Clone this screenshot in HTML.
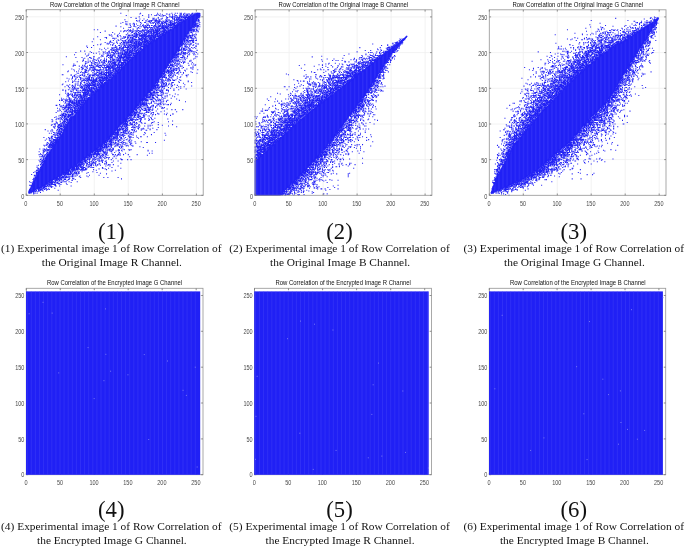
<!DOCTYPE html>
<html lang="en"><head><meta charset="utf-8"><title>Row Correlation</title>
<style>html,body{margin:0;padding:0;background:#fff}body{width:685px;height:548px;overflow:hidden}</style></head>
<body>
<svg width="685" height="548" viewBox="0 0 685 548" style="display:block">
<rect width="685" height="548" fill="#fff"/>
<defs><pattern id="st" patternUnits="userSpaceOnUse" width="6" height="16"><rect width="6" height="16" fill="#2020f5"/><rect x="1.5" width="1.5" height="16" fill="#4444fa" opacity="0.5"/></pattern></defs>
<path d="M60.2 9.7V195.3M26.2 159.6H203.2M94.3 9.7V195.3M26.2 123.9H203.2M128.3 9.7V195.3M26.2 88.2H203.2M162.4 9.7V195.3M26.2 52.5H203.2M196.4 9.7V195.3M26.2 16.8H203.2" stroke="#efefef" stroke-width="0.8" fill="none"/>
<g transform="matrix(0.6808 0 0 -0.7138 26.2 195.3)">
<path d="M4 4.9L5 6.8L6 8.6L7 10.5L8 12.4L9 14.2L10 16.1L11 17.9L12 19.8L13 21.6L14 23.4L15 25.1L16 26.9L17 28.7L18 30.5L19 32.3L20 34.1L21 35.8L22 37.6L23 39.4L24 41.2L25 43L26 44.8L27 46.5L28 48.3L29 50.1L30 51.9L31 53.7L32 55.5L33 57.2L34 59L35 60.8L36 62.6L37 63.9L38 65.3L39 66.6L40 67.9L41 69.2L42 70.5L43 71.8L44 73.1L45 74.4L46 75.8L47 77.1L48 78.4L49 79.7L50 81L51 82.7L52 84.5L53 86.2L54 88L55 89.7L56 91.5L57 93.2L58 95L59 96.7L60 98.5L61 100.2L62 102L63 103.7L64 105.5L65 106.7L66 107.6L67 108.5L68 109.5L69 110.4L70 111.3L71 112.3L72 113.2L73 114.1L74 115.1L75 116L76 117.2L77 118.4L78 119.7L79 120.9L80 122.1L81 123.3L82 124.6L83 125.8L84 127L85 128.2L86 129.5L87 130.7L88 131.9L89 132.9L90 133.9L91 134.8L92 135.7L93 136.6L94 137.5L95 138.4L96 139.3L97 140.3L98 141.2L99 142.1L100 143L101 143.8L102 144.6L103 145.4L104 146.2L105 146.9L106 147.7L107 148.5L108 149.3L109 150.1L110 150.9L111 151.7L112 152.5L113 153.3L114 154.1L115 154.8L116 155.7L117 156.6L118 157.5L119 158.5L120 159.4L121 160.3L122 161.2L123 162.2L124 163.1L125 164L126 164.8L127 165.5L128 166.3L129 167.1L130 167.8L131 168.6L132 169.4L133 170.2L134 170.9L135 171.7L136 172.5L137 173.3L138 174.4L139 175.4L140 176.5L141 177.5L142 178.6L143 179.6L144 180.7L145 181.7L146 182.8L147 183.8L148 184.9L149 185.9L150 187L151 187.8L152 188.7L153 189.5L154 190.4L155 191.2L156 192L157 192.9L158 193.7L159 194.6L160 195.4L161 196.2L162 197.1L163 197.9L164 198.8L165 199.6L166 200.4L167 201.3L168 202.1L169 203L170 203.8L171 204.6L172 205.5L173 206.3L174 207.2L175 208L176 208.6L177 209.3L178 209.9L179 210.6L180 211.2L181 211.8L182 212.5L183 213.1L184 213.8L185 214.4L186 215L187 215.7L188 216.3L189 217L190 217.6L191 218.2L192 218.9L193 219.5L194 220.2L195 220.8L196 221.4L197 222.1L198 222.7L199 223.4L200 224L201 224.6L202 225.2L203 225.8L204 226.4L205 227L206 227.6L207 228.2L208 228.8L209 229.4L210 230L211 230.6L212 231.2L213 231.8L214 232.4L215 233.1L216 233.8L217 234.4L218 235.1L219 235.8L220 236.5L221 237.2L222 237.9L223 238.6L224 239.2L225 239.9L226 240.5L227 241.2L228 241.8L229 242.4L230 243.1L231 243.7L232 244.3L233 244.9L234 245.6L235 246.2L236 246.8L237 247.5L238 248.1L239 248.6L240 249.1L241 249.6L242 250.1L243 250.6L244 251.1L245 251.7L246 252.2L247 252.7L248 253.2L249 253.7L250 254.2L251 254.5L252 254.8L253 255L254 255L255 255L255 252.4L254 251.1L253 249.8L252 248.6L251 247.3L250 246L249 244.5L248 243.1L247 241.6L246 240.1L245 238.7L244 237.2L243 235.7L242 234.3L241 232.8L240 231.3L239 229.9L238 228.4L237 226.9L236 225.3L235 223.8L234 222.2L233 220.7L232 219.1L231 217.6L230 216.1L229 214.5L228 213L227 211.4L226 209.9L225 208.3L224 206.8L223 205.3L222 203.7L221 202.2L220 200.6L219 199.1L218 197.5L217 196L216 194.4L215 192.9L214 191.3L213 189.7L212 188L211 186.6L210 185.2L209 183.8L208 182.3L207 180.9L206 179.5L205 178.1L204 176.7L203 175.2L202 173.8L201 172.4L200 171L199 169.5L198 168.1L197 166.6L196 165.2L195 163.7L194 162.2L193 160.8L192 159.3L191 157.8L190 156.4L189 154.9L188 153.5L187 152L186 150.9L185 149.8L184 148.7L183 147.6L182 146.5L181 145.4L180 144.3L179 143.2L178 142.1L177 141L176 139.9L175 138.8L174 137.7L173 136.6L172 135.5L171 134.4L170 133.3L169 132.2L168 131.1L167 130L166 128.9L165 127.7L164 126.6L163 125.5L162 124.3L161 123.2L160 122.1L159 121L158 119.8L157 118.7L156 117.6L155 116.4L154 115.3L153 114.2L152 113L151 111.9L150 110.8L149 109.6L148 108.6L147 107.7L146 106.7L145 105.8L144 104.8L143 103.8L142 102.9L141 101.9L140 101L139 100L138 99L137 98.1L136 97L135 95.9L134 94.8L133 93.7L132 92.7L131 91.6L130 90.5L129 89.4L128 88.3L127 87.2L126 86.1L125 85L124 83.9L123 82.8L122 81.7L121 80.6L120 79.5L119 78.4L118 77.3L117 76.2L116 75.1L115 74.3L114 73.5L113 72.8L112 72L111 71.2L110 70.5L109 69.7L108 69L107 68.2L106 67.4L105 66.7L104 65.9L103 65.2L102 64.4L101 63.6L100 62.9L99 62.1L98 61.4L97 60.6L96 59.8L95 59.1L94 58.3L93 57.6L92 56.8L91 56.1L90 55.3L89 54.6L88 53.8L87 53L86 52.3L85 51.5L84 50.8L83 50L82 49.3L81 48.5L80 47.7L79 47L78 46.2L77 45.5L76 44.7L75 44L74 43.2L73 42.5L72 41.7L71 41.1L70 40.4L69 39.8L68 39.2L67 38.6L66 37.9L65 37.3L64 36.7L63 36.1L62 35.4L61 34.8L60 34.2L59 33.5L58 32.9L57 32.3L56 31.7L55 31L54 30.4L53 29.8L52 29.2L51 28.5L50 27.9L49 27.4L48 26.8L47 26.3L46 25.8L45 25.2L44 24.7L43 24.2L42 23.7L41 23.1L40 22.6L39 22.1L38 21.5L37 21L36 20.5L35 19.9L34 19.3L33 18.6L32 17.9L31 17.3L30 16.6L29 15.9L28 15.3L27 14.6L26 13.9L25 13.3L24 12.6L23 12.1L22 11.7L21 11.3L20 10.9L19 10.4L18 10L17 9.6L16 9.2L15 8.8L14 8.4L13 7.9L12 7.5L11 7.1L10 6.7L9 6.2L8 5.8L7 5.4L6 5L5 4.5L4 4.1Z" fill="url(#st)" stroke="#2020f5" stroke-width="1.2" stroke-linejoin="round" vector-effect="non-scaling-stroke"/>
<path d="M4 3zm0 1zm0 2zm1 -3zm0 1zm0 3zm0 1zm0 6zm0 5zm1 -15zm0 5zm0 1zm0 4zm1 -11zm0 2zm0 8zm0 5zm1 -14zm0 1zm0 8zm0 1zm0 15zm1 -24zm0 1zm0 9zm0 1zm0 1zm1 -12zm0 1zm0 11zm0 1zm0 1zm0 3zm1 -20zm0 1zm0 1zm0 1zm0 1zm0 1zm0 11zm0 1zm0 1zm0 1zm0 2zm0 1zm0 8zm1 -26zm0 1zm0 13zm0 3zm0 4zm0 1zm1 -25zm0 2zm0 1zm0 1zm0 15zm0 2zm0 1zm0 3zm0 5zm1 -28zm0 3zm0 16zm0 1zm0 1zm0 1zm1 -21zm0 1zm0 21zm0 1zm0 1zm0 1zm0 1zm0 2zm0 1zm1 -32zm0 24zm0 4zm0 1zm0 2zm0 5zm0 2zm1 -36zm0 4zm0 20zm0 1zm0 1zm0 1zm0 2zm0 1zm0 2zm1 -31zm0 1zm0 1zm0 1zm0 22zm0 1zm0 1zm0 1zm0 3zm0 1zm0 4zm1 -36zm0 1zm0 1zm0 1zm0 1zm0 25zm0 1zm0 1zm0 12zm0 8zm0 4zm1 -55zm0 3zm0 1zm0 25zm0 12zm0 7zm0 11zm1 -61zm0 3zm0 1zm0 2zm0 1zm0 25zm0 1zm0 2zm0 4zm0 4zm0 3zm0 8zm1 -50zm0 2zm0 1zm0 27zm0 1zm0 1zm0 1zm0 4zm0 6zm0 3zm0 3zm1 -50zm0 2zm0 2zm0 29zm0 1zm0 2zm0 1zm0 1zm0 1zm0 1zm0 1zm0 1zm0 5zm1 -47zm0 2zm0 33zm0 1zm0 3zm0 2zm0 1zm0 6zm0 1zm1 -50zm0 4zm0 1zm0 1zm0 1zm0 30zm0 1zm0 1zm0 1zm0 1zm0 1zm0 2zm0 1zm0 2zm0 1zm0 4zm0 2zm0 2zm0 1zm0 2zm1 -56zm0 1zm0 1zm0 2zm0 34zm0 1zm0 2zm0 1zm0 1zm0 3zm0 6zm0 1zm0 8zm0 11zm1 -73zm0 3zm0 1zm0 1zm0 1zm0 33zm0 1zm0 1zm0 5zm0 2zm0 5zm0 3zm0 1zm0 4zm1 -60zm0 3zm0 1zm0 1zm0 1zm0 34zm0 2zm0 1zm0 1zm0 4zm0 6zm0 14zm0 15zm1 -82zm0 2zm0 1zm0 38zm0 1zm0 2zm0 2zm0 6zm0 2zm0 6zm1 -63zm0 2zm0 3zm0 1zm0 2zm0 1zm0 36zm0 1zm0 1zm0 1zm0 3zm0 1zm0 3zm0 4zm0 4zm0 2zm0 7zm1 -71zm0 5zm0 1zm0 1zm0 1zm0 1zm0 38zm0 1zm0 1zm0 1zm0 2zm0 2zm0 2zm0 7zm0 3zm1 -61zm0 1zm0 3zm0 39zm0 1zm0 1zm0 2zm0 2zm0 1zm0 5zm0 5zm0 17zm1 -81zm0 3zm0 3zm0 1zm0 42zm0 5zm0 1zm0 3zm0 2zm0 4zm0 8zm1 -73zm0 6zm0 1zm0 1zm0 1zm0 1zm0 42zm0 1zm0 2zm0 4zm0 1zm0 1zm0 1zm0 1zm0 6zm0 2zm0 1zm0 7zm1 -75zm0 1zm0 1zm0 1zm0 3zm0 1zm0 42zm0 3zm0 1zm0 1zm0 3zm0 1zm0 1zm0 1zm0 4zm0 4zm1 -67zm0 3zm0 1zm0 1zm0 1zm0 48zm0 1zm0 1zm0 2zm0 1zm0 1zm0 1zm0 2zm0 1zm0 13zm1 -79zm0 1zm0 1zm0 2zm0 1zm0 1zm0 1zm0 1zm0 1zm0 1zm0 43zm0 3zm0 2zm0 1zm0 1zm0 3zm0 1zm0 1zm0 3zm0 2zm0 1zm0 5zm0 11zm1 -82zm0 1zm0 1zm0 1zm0 1zm0 1zm0 46zm0 1zm0 1zm0 1zm0 1zm0 1zm0 1zm0 7zm0 2zm0 1zm0 7zm0 2zm0 7zm0 4zm0 3zm1 -94zm0 3zm0 1zm0 2zm0 1zm0 2zm0 47zm0 1zm0 1zm0 2zm0 1zm0 1zm0 1zm0 1zm0 3zm0 3zm0 8zm0 14zm1 -89zm0 4zm0 3zm0 46zm0 1zm0 1zm0 1zm0 1zm0 1zm0 2zm0 2zm0 1zm0 7zm0 3zm0 8zm1 -81zm0 3zm0 1zm0 4zm0 47zm0 1zm0 1zm0 1zm0 1zm0 1zm0 1zm0 1zm0 1zm0 17zm0 5zm1 -90zm0 4zm0 1zm0 1zm0 2zm0 3zm0 1zm0 1zm0 48zm0 1zm0 2zm0 3zm0 1zm0 3zm0 2zm0 2zm0 2zm0 1zm0 6zm0 2zm0 3zm0 1zm0 9zm1 -96zm0 1zm0 1zm0 4zm0 1zm0 1zm0 2zm0 1zm0 48zm0 1zm0 1zm0 1zm0 1zm0 1zm0 2zm0 2zm0 2zm0 14zm0 3zm1 -87zm0 4zm0 1zm0 3zm0 1zm0 1zm0 1zm0 50zm0 1zm0 1zm0 1zm0 1zm0 1zm0 2zm0 3zm0 2zm0 15zm0 2zm0 3zm0 4zm0 6zm0 10zm1 -106zm0 1zm0 1zm0 1zm0 1zm0 51zm0 1zm0 1zm0 2zm0 1zm0 6zm0 2zm0 2zm0 1zm0 11zm0 6zm0 18zm1 -109zm0 1zm0 3zm0 2zm0 1zm0 1zm0 51zm0 1zm0 1zm0 1zm0 1zm0 1zm0 2zm0 1zm0 2zm0 1zm0 5zm0 4zm0 5zm0 17zm0 4zm1 -115zm0 10zm0 2zm0 3zm0 2zm0 2zm0 52zm0 3zm0 2zm0 4zm0 2zm0 4zm0 1zm0 1zm0 2zm0 1zm0 1zm0 8zm1 -91zm0 1zm0 4zm0 1zm0 1zm0 1zm0 2zm0 53zm0 1zm0 1zm0 1zm0 2zm0 2zm0 1zm0 1zm0 1zm0 1zm0 1zm0 4zm0 1zm0 2zm0 9zm0 1zm0 3zm0 7zm1 -105zm0 3zm0 4zm0 1zm0 2zm0 2zm0 1zm0 1zm0 53zm0 1zm0 1zm0 3zm0 1zm0 1zm0 2zm0 2zm0 1zm0 1zm0 2zm0 3zm0 1zm0 22zm0 6zm0 6zm0 8zm1 -118zm0 1zm0 2zm0 1zm0 55zm0 1zm0 1zm0 1zm0 1zm0 1zm0 2zm0 1zm0 3zm0 1zm0 2zm0 1zm0 3zm0 3zm0 1zm0 3zm0 2zm0 3zm0 7zm0 6zm1 -110zm0 3zm0 2zm0 2zm0 1zm0 2zm0 2zm0 57zm0 1zm0 1zm0 1zm0 1zm0 2zm0 3zm0 1zm0 2zm0 1zm0 1zm0 2zm0 1zm0 6zm0 5zm0 12zm1 -106zm0 2zm0 2zm0 2zm0 1zm0 2zm0 1zm0 1zm0 59zm0 1zm0 1zm0 2zm0 1zm0 1zm0 2zm0 1zm0 1zm0 2zm0 7zm0 1zm0 2zm0 4zm0 3zm0 8zm0 8zm0 1zm0 2zm1 -111zm0 1zm0 1zm0 63zm0 2zm0 2zm0 3zm0 3zm0 2zm0 4zm0 3zm0 1zm0 2zm0 1zm0 8zm0 2zm0 10zm0 1zm0 21zm0 14zm1 -150zm0 2zm0 3zm0 1zm0 1zm0 1zm0 2zm0 59zm0 3zm0 3zm0 2zm0 1zm0 3zm0 1zm0 1zm0 2zm0 7zm0 2zm0 2zm0 10zm0 22zm0 1zm0 8zm0 13zm0 14zm1 -162zm0 4zm0 1zm0 3zm0 1zm0 1zm0 59zm0 1zm0 1zm0 3zm0 2zm0 1zm0 1zm0 1zm0 3zm0 1zm0 4zm0 4zm0 2zm0 1zm0 5zm0 3zm0 3zm0 5zm0 4zm1 -116zm0 3zm0 1zm0 4zm0 1zm0 2zm0 62zm0 1zm0 1zm0 1zm0 1zm0 1zm0 4zm0 1zm0 1zm0 1zm0 1zm0 1zm0 3zm0 1zm0 1zm0 6zm0 4zm0 1zm1 -100zm0 3zm0 1zm0 2zm0 1zm0 1zm0 1zm0 1zm0 62zm0 2zm0 1zm0 1zm0 1zm0 2zm0 2zm0 3zm0 1zm0 1zm0 1zm0 1zm0 1zm0 1zm0 2zm0 1zm0 3zm0 4zm0 1zm0 1zm0 5zm0 5zm0 18zm1 -133zm0 3zm0 2zm0 1zm0 2zm0 2zm0 1zm0 1zm0 1zm0 63zm0 1zm0 2zm0 1zm0 1zm0 3zm0 1zm0 3zm0 3zm0 1zm0 2zm0 1zm0 3zm0 1zm0 3zm0 2zm0 2zm0 5zm0 1zm0 2zm0 10zm0 2zm0 2zm0 12zm1 -142zm0 3zm0 5zm0 1zm0 1zm0 3zm0 1zm0 1zm0 1zm0 64zm0 2zm0 3zm0 4zm0 1zm0 1zm0 3zm0 2zm0 5zm0 1zm0 4zm0 1zm0 1zm0 1zm0 2zm0 4zm0 3zm0 59zm1 -179zm0 11zm0 1zm0 2zm0 2zm0 1zm0 1zm0 1zm0 65zm0 1zm0 1zm0 1zm0 2zm0 1zm0 1zm0 1zm0 1zm0 1zm0 2zm0 3zm0 2zm0 1zm0 1zm0 2zm0 1zm0 4zm0 1zm0 2zm0 5zm0 5zm0 3zm0 13zm0 10zm1 -143zm0 4zm0 4zm0 1zm0 1zm0 1zm0 1zm0 68zm0 2zm0 1zm0 1zm0 1zm0 4zm0 1zm0 3zm0 2zm0 5zm0 2zm0 2zm0 3zm0 3zm0 3zm0 6zm0 3zm0 30zm1 -151zm0 5zm0 2zm0 1zm0 1zm0 1zm0 1zm0 1zm0 1zm0 67zm0 2zm0 5zm0 1zm0 1zm0 1zm0 1zm0 4zm0 3zm0 1zm0 1zm0 1zm0 2zm0 2zm0 2zm0 2zm0 7zm0 2zm0 2zm0 1zm0 5zm0 4zm0 1zm0 7zm0 14zm1 -155zm0 3zm0 1zm0 2zm0 1zm0 3zm0 1zm0 1zm0 2zm0 1zm0 1zm0 1zm0 70zm0 2zm0 2zm0 1zm0 1zm0 1zm0 1zm0 3zm0 2zm0 3zm0 1zm0 1zm0 1zm0 1zm0 1zm0 2zm0 2zm0 3zm0 2zm0 1zm0 4zm0 22zm1 -139zm0 3zm0 2zm0 5zm0 1zm0 71zm0 1zm0 1zm0 2zm0 2zm0 4zm0 1zm0 5zm0 1zm0 3zm0 1zm0 1zm0 1zm0 1zm0 1zm0 1zm0 1zm0 1zm0 1zm0 1zm0 5zm0 8zm0 2zm0 4zm1 -126zm0 2zm0 1zm0 1zm0 1zm0 73zm0 1zm0 1zm0 1zm0 2zm0 1zm0 4zm0 1zm0 2zm0 2zm0 2zm0 3zm0 4zm0 1zm0 1zm0 9zm0 4zm1 -133zm0 5zm0 8zm0 1zm0 3zm0 1zm0 5zm0 1zm0 71zm0 1zm0 1zm0 1zm0 1zm0 1zm0 1zm0 2zm0 1zm0 1zm0 3zm0 1zm0 1zm0 2zm0 1zm0 4zm0 1zm0 4zm0 10zm0 1zm0 22zm0 1zm1 -148zm0 10zm0 1zm0 1zm0 1zm0 1zm0 1zm0 73zm0 1zm0 3zm0 1zm0 1zm0 1zm0 2zm0 2zm0 3zm0 3zm0 2zm0 1zm0 1zm0 1zm0 2zm0 7zm0 2zm0 3zm0 4zm0 4zm0 10zm0 14zm1 -156zm0 3zm0 2zm0 1zm0 1zm0 1zm0 4zm0 2zm0 1zm0 1zm0 1zm0 1zm0 72zm0 2zm0 1zm0 1zm0 1zm0 1zm0 1zm0 1zm0 1zm0 1zm0 4zm0 4zm0 1zm0 1zm0 1zm0 6zm0 1zm0 2zm0 1zm0 7zm0 2zm0 2zm0 1zm0 4zm0 2zm0 4zm0 1zm0 1zm1 -143zm0 4zm0 4zm0 3zm0 1zm0 1zm0 1zm0 1zm0 1zm0 74zm0 2zm0 3zm0 5zm0 1zm0 1zm0 3zm0 1zm0 1zm0 9zm0 7zm0 1zm0 1zm0 5zm0 6zm0 22zm1 -157zm0 3zm0 2zm0 2zm0 3zm0 2zm0 1zm0 1zm0 1zm0 1zm0 75zm0 2zm0 2zm0 3zm0 3zm0 2zm0 2zm0 2zm0 1zm0 2zm0 3zm0 2zm0 5zm0 5zm0 1zm0 2zm0 15zm0 9zm0 6zm0 2zm1 -153zm0 1zm0 2zm0 2zm0 1zm0 1zm0 1zm0 2zm0 75zm0 1zm0 1zm0 1zm0 2zm0 1zm0 1zm0 3zm0 2zm0 1zm0 1zm0 2zm0 2zm0 1zm0 4zm0 1zm0 2zm0 7zm0 2zm0 9zm0 6zm0 2zm0 6zm0 23zm1 -175zm0 5zm0 4zm0 4zm0 1zm0 4zm0 1zm0 74zm0 1zm0 1zm0 1zm0 1zm0 1zm0 1zm0 1zm0 2zm0 1zm0 4zm0 4zm0 3zm0 1zm0 2zm0 2zm0 2zm0 1zm0 6zm0 2zm0 2zm0 2zm0 6zm0 20zm1 -155zm0 3zm0 2zm0 1zm0 1zm0 3zm0 1zm0 2zm0 1zm0 74zm0 1zm0 1zm0 1zm0 1zm0 2zm0 2zm0 1zm0 1zm0 1zm0 1zm0 1zm0 1zm0 1zm0 1zm0 6zm0 5zm0 2zm0 4zm0 2zm0 6zm0 3zm0 4zm0 1zm0 2zm0 3zm0 24zm0 7zm1 -170zm0 1zm0 1zm0 4zm0 1zm0 1zm0 1zm0 1zm0 1zm0 1zm0 74zm0 2zm0 1zm0 3zm0 2zm0 3zm0 2zm0 1zm0 1zm0 1zm0 1zm0 2zm0 3zm0 2zm0 7zm0 1zm0 25zm1 -154zm0 9zm0 8zm0 1zm0 1zm0 2zm0 1zm0 1zm0 75zm0 1zm0 1zm0 1zm0 1zm0 3zm0 1zm0 1zm0 1zm0 1zm0 1zm0 2zm0 4zm0 1zm0 4zm0 1zm0 3zm0 2zm0 4zm0 15zm0 6zm0 16zm1 -157zm0 3zm0 1zm0 2zm0 1zm0 2zm0 1zm0 1zm0 2zm0 75zm0 1zm0 2zm0 1zm0 1zm0 1zm0 2zm0 1zm0 1zm0 2zm0 1zm0 2zm0 6zm0 2zm0 2zm0 3zm0 3zm0 5zm0 1zm0 2zm0 2zm0 8zm1 -136zm0 1zm0 5zm0 1zm0 1zm0 2zm0 1zm0 1zm0 2zm0 74zm0 2zm0 1zm0 1zm0 2zm0 1zm0 2zm0 1zm0 1zm0 1zm0 1zm0 1zm0 4zm0 1zm0 3zm0 3zm0 2zm0 4zm0 9zm0 3zm0 9zm0 3zm1 -148zm0 5zm0 2zm0 4zm0 3zm0 2zm0 1zm0 1zm0 1zm0 75zm0 1zm0 1zm0 2zm0 2zm0 2zm0 1zm0 1zm0 1zm0 1zm0 1zm0 1zm0 2zm0 2zm0 3zm0 3zm0 22zm0 11zm0 4zm1 -154zm0 9zm0 5zm0 1zm0 1zm0 1zm0 2zm0 75zm0 2zm0 1zm0 1zm0 2zm0 1zm0 1zm0 1zm0 1zm0 2zm0 3zm0 3zm0 1zm0 1zm0 1zm0 4zm0 6zm0 2zm0 11zm0 3zm1 -143zm0 10zm0 4zm0 1zm0 1zm0 1zm0 1zm0 1zm0 2zm0 1zm0 76zm0 1zm0 1zm0 2zm0 1zm0 4zm0 1zm0 1zm0 2zm0 1zm0 1zm0 1zm0 1zm0 1zm0 1zm0 2zm0 3zm0 4zm0 4zm0 1zm0 1zm0 1zm0 4zm0 1zm0 1zm0 1zm0 3zm0 4zm0 30zm1 -166zm0 1zm0 2zm0 1zm0 2zm0 1zm0 2zm0 1zm0 2zm0 76zm0 2zm0 1zm0 2zm0 1zm0 1zm0 1zm0 1zm0 1zm0 2zm0 1zm0 1zm0 1zm0 11zm0 2zm0 1zm0 4zm0 2zm0 14zm0 6zm1 -146zm0 2zm0 1zm0 1zm0 2zm0 1zm0 4zm0 1zm0 1zm0 1zm0 1zm0 1zm0 76zm0 2zm0 1zm0 2zm0 2zm0 1zm0 2zm0 1zm0 1zm0 1zm0 2zm0 5zm0 1zm0 4zm0 1zm0 1zm0 8zm0 1zm0 3zm0 5zm0 7zm0 1zm0 2zm0 1zm0 13zm1 -158zm0 2zm0 1zm0 2zm0 3zm0 2zm0 1zm0 1zm0 2zm0 1zm0 77zm0 1zm0 1zm0 1zm0 1zm0 2zm0 1zm0 1zm0 1zm0 2zm0 6zm0 3zm0 2zm0 2zm0 1zm0 3zm0 5zm0 8zm0 2zm0 2zm0 5zm0 1zm0 4zm0 6zm1 -153zm0 2zm0 1zm0 1zm0 2zm0 1zm0 3zm0 2zm0 2zm0 1zm0 78zm0 1zm0 1zm0 1zm0 1zm0 1zm0 4zm0 1zm0 2zm0 1zm0 1zm0 1zm0 1zm0 3zm0 1zm0 1zm0 4zm0 8zm0 2zm0 15zm0 11zm0 2zm1 -155zm0 3zm0 4zm0 1zm0 1zm0 2zm0 2zm0 1zm0 1zm0 79zm0 2zm0 1zm0 1zm0 1zm0 1zm0 2zm0 1zm0 1zm0 1zm0 1zm0 1zm0 1zm0 2zm0 2zm0 1zm0 1zm0 4zm0 4zm0 5zm0 3zm0 1zm0 4zm0 1zm0 8zm1 -145zm0 4zm0 8zm0 1zm0 1zm0 1zm0 1zm0 1zm0 79zm0 2zm0 1zm0 1zm0 1zm0 1zm0 1zm0 1zm0 2zm0 2zm0 1zm0 1zm0 2zm0 2zm0 1zm0 1zm0 1zm0 1zm0 3zm0 2zm0 2zm0 1zm0 1zm0 6zm0 2zm0 3zm0 3zm0 6zm0 10zm0 10zm1 -166zm0 1zm0 1zm0 8zm0 1zm0 1zm0 1zm0 2zm0 2zm0 78zm0 1zm0 1zm0 2zm0 4zm0 1zm0 1zm0 1zm0 1zm0 1zm0 2zm0 1zm0 1zm0 1zm0 4zm0 2zm0 6zm0 3zm0 8zm0 1zm0 1zm0 2zm0 4zm0 4zm0 1zm0 2zm0 11zm1 -162zm0 5zm0 4zm0 1zm0 1zm0 1zm0 1zm0 2zm0 2zm0 79zm0 1zm0 2zm0 1zm0 1zm0 1zm0 3zm0 1zm0 1zm0 1zm0 1zm0 1zm0 3zm0 2zm0 2zm0 1zm0 2zm0 8zm0 2zm0 7zm0 2zm0 2zm0 3zm0 7zm1 -160zm0 4zm0 6zm0 1zm0 3zm0 1zm0 1zm0 1zm0 5zm0 4zm0 1zm0 80zm0 2zm0 2zm0 1zm0 1zm0 1zm0 1zm0 2zm0 2zm0 1zm0 1zm0 1zm0 1zm0 1zm0 1zm0 2zm0 3zm0 2zm0 1zm0 1zm0 1zm0 1zm0 3zm0 6zm0 3zm0 4zm0 6zm0 10zm0 14zm1 -165zm0 1zm0 2zm0 3zm0 2zm0 1zm0 2zm0 80zm0 1zm0 3zm0 2zm0 1zm0 1zm0 2zm0 1zm0 1zm0 1zm0 4zm0 1zm0 2zm0 2zm0 4zm0 3zm0 5zm0 9zm0 3zm0 26zm1 -181zm0 6zm0 7zm0 1zm0 10zm0 1zm0 1zm0 2zm0 1zm0 1zm0 79zm0 2zm0 5zm0 1zm0 1zm0 1zm0 2zm0 2zm0 1zm0 1zm0 2zm0 1zm0 1zm0 1zm0 3zm0 3zm0 1zm0 2zm0 5zm0 3zm0 13zm0 2zm0 3zm0 5zm1 -155zm0 2zm0 3zm0 7zm0 2zm0 1zm0 81zm0 3zm0 1zm0 2zm0 1zm0 1zm0 1zm0 1zm0 3zm0 1zm0 1zm0 1zm0 1zm0 2zm0 2zm0 2zm0 1zm0 1zm0 1zm0 1zm0 2zm0 1zm0 3zm0 5zm0 23zm1 -170zm0 12zm0 4zm0 2zm0 1zm0 2zm0 1zm0 1zm0 3zm0 1zm0 1zm0 81zm0 2zm0 1zm0 2zm0 4zm0 2zm0 1zm0 1zm0 2zm0 1zm0 1zm0 2zm0 1zm0 5zm0 1zm0 1zm0 1zm0 1zm0 2zm0 9zm0 5zm0 11zm1 -151zm0 2zm0 7zm0 1zm0 1zm0 2zm0 2zm0 83zm0 2zm0 3zm0 1zm0 1zm0 1zm0 1zm0 1zm0 1zm0 3zm0 1zm0 6zm0 5zm0 2zm0 8zm0 2zm0 1zm0 3zm0 5zm0 1zm0 5zm0 8zm1 -162zm0 2zm0 1zm0 5zm0 7zm0 1zm0 1zm0 1zm0 1zm0 81zm0 2zm0 1zm0 1zm0 1zm0 1zm0 1zm0 1zm0 1zm0 6zm0 1zm0 1zm0 1zm0 2zm0 2zm0 1zm0 7zm0 11zm0 12zm1 -151zm0 1zm0 1zm0 2zm0 2zm0 6zm0 1zm0 1zm0 1zm0 1zm0 83zm0 1zm0 1zm0 1zm0 1zm0 1zm0 1zm0 1zm0 1zm0 1zm0 1zm0 1zm0 2zm0 1zm0 3zm0 1zm0 3zm0 1zm0 2zm0 1zm0 9zm0 5zm0 3zm0 1zm0 2zm0 1zm0 6zm0 8zm0 7zm1 -168zm0 6zm0 3zm0 1zm0 3zm0 6zm0 2zm0 81zm0 1zm0 1zm0 1zm0 1zm0 1zm0 1zm0 2zm0 2zm0 2zm0 1zm0 1zm0 2zm0 2zm0 1zm0 3zm0 5zm0 8zm0 2zm0 1zm0 3zm0 33zm1 -182zm0 11zm0 2zm0 4zm0 5zm0 2zm0 1zm0 2zm0 83zm0 1zm0 1zm0 1zm0 3zm0 1zm0 3zm0 2zm0 1zm0 1zm0 1zm0 1zm0 1zm0 1zm0 4zm0 1zm0 2zm0 2zm0 2zm0 3zm0 5zm0 5zm0 2zm0 2zm1 -153zm0 3zm0 3zm0 4zm0 1zm0 4zm0 3zm0 1zm0 2zm0 1zm0 4zm0 81zm0 1zm0 1zm0 1zm0 3zm0 1zm0 1zm0 2zm0 1zm0 1zm0 1zm0 2zm0 1zm0 1zm0 1zm0 1zm0 1zm0 1zm0 4zm0 7zm0 2zm0 2zm0 2zm0 9zm0 2zm0 2zm0 5zm0 11zm0 9zm1 -174zm0 4zm0 2zm0 2zm0 1zm0 3zm0 1zm0 1zm0 1zm0 1zm0 83zm0 2zm0 2zm0 1zm0 1zm0 2zm0 1zm0 1zm0 1zm0 1zm0 2zm0 1zm0 2zm0 1zm0 6zm0 1zm0 1zm0 3zm0 1zm0 2zm0 1zm0 1zm0 6zm0 3zm0 3zm0 4zm0 38zm1 -186zm0 5zm0 6zm0 1zm0 1zm0 1zm0 1zm0 2zm0 82zm0 1zm0 2zm0 2zm0 2zm0 2zm0 1zm0 1zm0 1zm0 1zm0 1zm0 1zm0 2zm0 4zm0 4zm0 1zm0 6zm0 2zm0 1zm0 3zm0 2zm0 1zm0 4zm1 -148zm0 1zm0 1zm0 1zm0 2zm0 3zm0 3zm0 5zm0 1zm0 1zm0 1zm0 1zm0 1zm0 82zm0 1zm0 1zm0 1zm0 2zm0 2zm0 1zm0 2zm0 2zm0 2zm0 1zm0 1zm0 2zm0 6zm0 7zm0 1zm0 6zm0 3zm1 -151zm0 6zm0 6zm0 7zm0 1zm0 2zm0 2zm0 2zm0 1zm0 2zm0 82zm0 1zm0 2zm0 1zm0 1zm0 1zm0 4zm0 3zm0 2zm0 1zm0 1zm0 1zm0 4zm0 2zm0 1zm0 4zm0 1zm0 5zm0 8zm0 10zm1 -167zm0 19zm0 1zm0 4zm0 2zm0 3zm0 1zm0 1zm0 1zm0 1zm0 83zm0 1zm0 1zm0 1zm0 2zm0 1zm0 5zm0 1zm0 2zm0 1zm0 1zm0 1zm0 7zm0 1zm0 8zm0 1zm0 3zm0 1zm1 -144zm0 1zm0 6zm0 6zm0 2zm0 1zm0 1zm0 1zm0 1zm0 1zm0 1zm0 1zm0 1zm0 1zm0 81zm0 1zm0 1zm0 5zm0 1zm0 1zm0 1zm0 2zm0 7zm0 2zm0 1zm0 3zm0 3zm0 1zm0 5zm0 2zm0 8zm0 20zm0 11zm0 10zm1 -180zm0 5zm0 1zm0 1zm0 1zm0 1zm0 1zm0 2zm0 2zm0 1zm0 81zm0 1zm0 2zm0 1zm0 2zm0 1zm0 3zm0 2zm0 4zm0 2zm0 2zm0 7zm0 5zm0 1zm0 3zm0 3zm0 2zm1 -161zm0 9zm0 7zm0 3zm0 1zm0 1zm0 1zm0 4zm0 3zm0 1zm0 3zm0 1zm0 1zm0 1zm0 1zm0 3zm0 82zm0 1zm0 1zm0 1zm0 3zm0 1zm0 3zm0 1zm0 2zm0 1zm0 1zm0 4zm0 1zm0 1zm0 1zm0 1zm0 2zm0 4zm0 2zm0 11zm0 1zm0 8zm1 -157zm0 4zm0 4zm0 1zm0 3zm0 1zm0 1zm0 3zm0 2zm0 1zm0 1zm0 1zm0 1zm0 1zm0 82zm0 1zm0 2zm0 2zm0 1zm0 1zm0 2zm0 2zm0 1zm0 1zm0 2zm0 1zm0 1zm0 3zm0 1zm0 3zm0 2zm0 3zm0 3zm0 3zm0 1zm0 1zm0 11zm0 7zm1 -174zm0 11zm0 10zm0 2zm0 1zm0 6zm0 1zm0 1zm0 1zm0 1zm0 1zm0 1zm0 1zm0 1zm0 82zm0 1zm0 1zm0 1zm0 1zm0 3zm0 1zm0 1zm0 1zm0 1zm0 1zm0 2zm0 2zm0 3zm0 1zm0 5zm0 1zm0 2zm0 3zm0 7zm0 22zm0 7zm0 10zm1 -180zm0 5zm0 2zm0 4zm0 5zm0 2zm0 1zm0 1zm0 1zm0 1zm0 82zm0 1zm0 1zm0 1zm0 1zm0 1zm0 1zm0 1zm0 1zm0 1zm0 3zm0 1zm0 2zm0 1zm0 2zm0 1zm0 1zm0 2zm0 7zm0 1zm0 8zm0 4zm0 18zm1 -164zm0 1zm0 2zm0 5zm0 6zm0 1zm0 2zm0 1zm0 2zm0 1zm0 1zm0 82zm0 1zm0 1zm0 2zm0 1zm0 1zm0 3zm0 1zm0 2zm0 1zm0 1zm0 3zm0 1zm0 1zm0 1zm0 1zm0 3zm0 5zm0 5zm0 1zm0 9zm0 8zm1 -166zm0 1zm0 7zm0 1zm0 2zm0 5zm0 3zm0 5zm0 1zm0 3zm0 1zm0 1zm0 1zm0 2zm0 82zm0 1zm0 1zm0 1zm0 1zm0 1zm0 1zm0 2zm0 2zm0 1zm0 1zm0 1zm0 3zm0 10zm0 5zm0 11zm1 -157zm0 11zm0 6zm0 1zm0 1zm0 2zm0 2zm0 1zm0 2zm0 3zm0 1zm0 2zm0 2zm0 82zm0 1zm0 1zm0 3zm0 1zm0 1zm0 1zm0 1zm0 1zm0 1zm0 1zm0 1zm0 2zm0 1zm0 2zm0 1zm0 1zm0 2zm0 6zm0 1zm0 1zm0 2zm0 2zm0 7zm0 3zm0 3zm1 -176zm0 28zm0 3zm0 4zm0 1zm0 1zm0 3zm0 1zm0 1zm0 3zm0 2zm0 1zm0 82zm0 1zm0 1zm0 2zm0 2zm0 2zm0 1zm0 5zm0 2zm0 6zm0 1zm0 1zm0 6zm0 4zm0 9zm0 2zm1 -156zm0 8zm0 7zm0 1zm0 7zm0 1zm0 1zm0 2zm0 1zm0 1zm0 1zm0 82zm0 1zm0 1zm0 3zm0 2zm0 1zm0 1zm0 1zm0 3zm0 1zm0 1zm0 3zm0 6zm0 2zm0 4zm0 1zm0 2zm0 1zm0 2zm0 14zm1 -169zm0 7zm0 3zm0 7zm0 4zm0 1zm0 2zm0 5zm0 3zm0 2zm0 1zm0 2zm0 1zm0 81zm0 1zm0 1zm0 4zm0 2zm0 1zm0 2zm0 1zm0 1zm0 3zm0 7zm0 6zm0 3zm0 13zm0 13zm0 7zm0 9zm1 -189zm0 7zm0 4zm0 3zm0 2zm0 3zm0 2zm0 2zm0 3zm0 1zm0 1zm0 1zm0 1zm0 1zm0 2zm0 1zm0 1zm0 81zm0 1zm0 1zm0 1zm0 1zm0 1zm0 1zm0 1zm0 1zm0 2zm0 1zm0 1zm0 1zm0 2zm0 3zm0 1zm0 1zm0 1zm0 1zm0 3zm0 17zm0 5zm1 -174zm0 6zm0 8zm0 2zm0 2zm0 5zm0 4zm0 1zm0 8zm0 1zm0 1zm0 1zm0 1zm0 1zm0 2zm0 1zm0 2zm0 1zm0 81zm0 1zm0 2zm0 1zm0 1zm0 1zm0 1zm0 1zm0 1zm0 1zm0 1zm0 1zm0 1zm0 1zm0 1zm0 2zm0 2zm0 2zm0 1zm0 3zm0 4zm0 1zm0 2zm0 1zm0 3zm0 26zm0 1zm1 -162zm0 1zm0 1zm0 2zm0 4zm0 1zm0 5zm0 2zm0 1zm0 1zm0 1zm0 81zm0 1zm0 1zm0 2zm0 1zm0 1zm0 2zm0 1zm0 4zm0 4zm0 3zm0 1zm0 1zm0 14zm0 1zm0 2zm0 2zm0 12zm0 1zm1 -188zm0 17zm0 11zm0 3zm0 7zm0 1zm0 2zm0 2zm0 2zm0 1zm0 4zm0 1zm0 1zm0 2zm0 82zm0 2zm0 1zm0 1zm0 1zm0 1zm0 4zm0 1zm0 2zm0 1zm0 4zm0 1zm0 1zm0 1zm0 1zm0 2zm0 11zm0 3zm0 7zm1 -168zm0 5zm0 8zm0 17zm0 1zm0 4zm0 5zm0 1zm0 1zm0 81zm0 1zm0 1zm0 3zm0 2zm0 1zm0 1zm0 1zm0 1zm0 1zm0 3zm0 1zm0 1zm0 1zm0 1zm0 1zm0 5zm0 1zm0 1zm0 5zm0 3zm0 1zm0 4zm0 11zm1 -159zm0 10zm0 1zm0 4zm0 3zm0 1zm0 3zm0 1zm0 3zm0 1zm0 1zm0 81zm0 1zm0 1zm0 1zm0 2zm0 2zm0 1zm0 2zm0 1zm0 1zm0 1zm0 1zm0 2zm0 1zm0 2zm0 2zm0 1zm0 3zm0 12zm0 1zm0 1zm0 1zm0 11zm0 12zm1 -184zm0 2zm0 19zm0 2zm0 2zm0 5zm0 1zm0 2zm0 1zm0 1zm0 1zm0 1zm0 1zm0 1zm0 1zm0 1zm0 83zm0 1zm0 1zm0 1zm0 1zm0 1zm0 1zm0 6zm0 1zm0 1zm0 1zm0 3zm0 2zm0 3zm0 4zm0 2zm0 2zm0 18zm0 1zm0 9zm1 -162zm0 3zm0 4zm0 2zm0 1zm0 1zm0 2zm0 1zm0 1zm0 2zm0 3zm0 1zm0 82zm0 1zm0 2zm0 2zm0 1zm0 1zm0 1zm0 1zm0 1zm0 2zm0 1zm0 3zm0 1zm0 4zm0 1zm0 3zm0 1zm0 2zm0 1zm0 2zm0 2zm0 6zm0 7zm0 4zm0 1zm1 -166zm0 11zm0 1zm0 5zm0 1zm0 1zm0 1zm0 1zm0 1zm0 2zm0 1zm0 1zm0 2zm0 1zm0 1zm0 1zm0 1zm0 1zm0 1zm0 81zm0 1zm0 3zm0 2zm0 1zm0 2zm0 4zm0 1zm0 1zm0 3zm0 2zm0 2zm0 1zm0 5zm0 1zm0 6zm0 4zm0 21zm1 -191zm0 5zm0 7zm0 13zm0 3zm0 2zm0 6zm0 1zm0 2zm0 1zm0 2zm0 1zm0 1zm0 4zm0 2zm0 1zm0 1zm0 80zm0 1zm0 1zm0 1zm0 1zm0 1zm0 1zm0 2zm0 5zm0 2zm0 3zm0 1zm0 6zm0 2zm0 2zm0 2zm0 5zm0 1zm0 2zm0 1zm0 1zm0 7zm0 9zm1 -171zm0 5zm0 6zm0 3zm0 10zm0 3zm0 1zm0 3zm0 2zm0 1zm0 1zm0 80zm0 1zm0 1zm0 3zm0 2zm0 1zm0 2zm0 1zm0 1zm0 1zm0 1zm0 1zm0 2zm0 2zm0 1zm0 2zm0 1zm0 2zm0 2zm0 2zm0 4zm0 6zm0 4zm0 1zm0 9zm0 8zm1 -185zm0 5zm0 9zm0 7zm0 1zm0 1zm0 8zm0 2zm0 3zm0 1zm0 1zm0 1zm0 3zm0 1zm0 1zm0 1zm0 80zm0 1zm0 2zm0 2zm0 1zm0 1zm0 1zm0 1zm0 1zm0 1zm0 1zm0 1zm0 1zm0 3zm0 1zm0 3zm0 1zm0 7zm0 2zm0 1zm0 3zm0 2zm0 7zm0 5zm0 3zm1 -166zm0 17zm0 2zm0 5zm0 1zm0 1zm0 1zm0 1zm0 3zm0 1zm0 1zm0 1zm0 80zm0 1zm0 1zm0 6zm0 1zm0 6zm0 1zm0 1zm0 1zm0 2zm0 1zm0 1zm0 1zm0 5zm0 1zm0 2zm0 4zm0 4zm0 6zm0 7zm1 -165zm0 5zm0 8zm0 5zm0 7zm0 1zm0 1zm0 2zm0 1zm0 1zm0 2zm0 1zm0 1zm0 80zm0 1zm0 1zm0 1zm0 1zm0 3zm0 1zm0 1zm0 1zm0 1zm0 1zm0 1zm0 1zm0 1zm0 1zm0 1zm0 3zm0 4zm0 4zm0 1zm0 3zm0 3zm0 14zm0 7zm1 -191zm0 22zm0 12zm0 4zm0 1zm0 2zm0 1zm0 3zm0 1zm0 1zm0 2zm0 2zm0 1zm0 1zm0 2zm0 1zm0 78zm0 1zm0 1zm0 1zm0 1zm0 2zm0 1zm0 1zm0 1zm0 2zm0 2zm0 1zm0 1zm0 1zm0 1zm0 9zm0 5zm0 1zm0 3zm0 3zm0 2zm0 1zm1 -158zm0 10zm0 7zm0 1zm0 2zm0 2zm0 5zm0 3zm0 1zm0 2zm0 2zm0 1zm0 1zm0 2zm0 1zm0 78zm0 1zm0 2zm0 1zm0 1zm0 2zm0 1zm0 5zm0 1zm0 2zm0 1zm0 1zm0 1zm0 2zm0 2zm0 5zm0 4zm0 18zm0 17zm1 -182zm0 17zm0 5zm0 2zm0 1zm0 1zm0 1zm0 2zm0 2zm0 1zm0 1zm0 3zm0 1zm0 1zm0 78zm0 1zm0 1zm0 1zm0 1zm0 1zm0 2zm0 1zm0 3zm0 1zm0 8zm0 8zm0 3zm0 1zm0 1zm0 1zm0 1zm0 1zm0 1zm0 6zm0 2zm1 -160zm0 14zm0 2zm0 7zm0 2zm0 1zm0 1zm0 1zm0 1zm0 1zm0 1zm0 1zm0 1zm0 1zm0 1zm0 1zm0 1zm0 1zm0 78zm0 1zm0 1zm0 2zm0 2zm0 1zm0 1zm0 1zm0 1zm0 5zm0 2zm0 4zm0 8zm0 4zm0 8zm0 10zm0 1zm1 -199zm0 16zm0 7zm0 9zm0 6zm0 6zm0 2zm0 2zm0 2zm0 1zm0 1zm0 3zm0 4zm0 2zm0 2zm0 2zm0 1zm0 2zm0 79zm0 1zm0 1zm0 1zm0 1zm0 1zm0 1zm0 1zm0 1zm0 2zm0 1zm0 1zm0 1zm0 4zm0 1zm0 1zm0 1zm0 2zm0 2zm0 2zm0 1zm0 3zm0 2zm0 14zm0 4zm0 3zm1 -168zm0 2zm0 3zm0 2zm0 8zm0 3zm0 2zm0 7zm0 1zm0 1zm0 1zm0 1zm0 1zm0 1zm0 2zm0 1zm0 2zm0 78zm0 2zm0 1zm0 1zm0 2zm0 1zm0 3zm0 1zm0 1zm0 1zm0 2zm0 1zm0 1zm0 2zm0 3zm0 1zm0 2zm0 1zm0 1zm0 5zm0 5zm0 7zm1 -157zm0 3zm0 4zm0 1zm0 10zm0 4zm0 9zm0 1zm0 2zm0 2zm0 2zm0 76zm0 2zm0 1zm0 1zm0 1zm0 1zm0 1zm0 1zm0 2zm0 2zm0 1zm0 1zm0 1zm0 3zm0 1zm0 1zm0 10zm0 2zm0 1zm0 3zm0 17zm1 -171zm0 2zm0 13zm0 3zm0 3zm0 4zm0 2zm0 2zm0 5zm0 2zm0 1zm0 3zm0 1zm0 1zm0 77zm0 1zm0 3zm0 3zm0 2zm0 3zm0 2zm0 1zm0 1zm0 1zm0 1zm0 2zm0 1zm0 2zm0 1zm0 8zm0 2zm0 3zm0 1zm0 11zm1 -186zm0 7zm0 6zm0 15zm0 3zm0 8zm0 2zm0 1zm0 3zm0 4zm0 1zm0 4zm0 2zm0 2zm0 3zm0 1zm0 76zm0 1zm0 1zm0 1zm0 2zm0 1zm0 1zm0 3zm0 1zm0 1zm0 1zm0 1zm0 1zm0 1zm0 1zm0 1zm0 1zm0 3zm0 2zm0 2zm0 1zm0 2zm0 1zm0 6zm0 6zm0 1zm0 3zm0 8zm0 6zm0 5zm0 14zm1 -232zm0 27zm0 13zm0 4zm0 1zm0 6zm0 6zm0 1zm0 3zm0 4zm0 6zm0 1zm0 1zm0 4zm0 77zm0 1zm0 1zm0 1zm0 1zm0 1zm0 1zm0 1zm0 1zm0 1zm0 7zm0 1zm0 1zm0 1zm0 2zm0 7zm0 4zm0 5zm1 -164zm0 12zm0 6zm0 2zm0 2zm0 1zm0 2zm0 4zm0 5zm0 1zm0 3zm0 4zm0 2zm0 2zm0 1zm0 1zm0 3zm0 77zm0 1zm0 1zm0 2zm0 1zm0 1zm0 1zm0 1zm0 6zm0 1zm0 1zm0 3zm0 1zm0 1zm0 1zm0 1zm0 2zm0 1zm0 2zm0 1zm0 4zm0 6zm0 3zm1 -155zm0 3zm0 7zm0 8zm0 2zm0 1zm0 4zm0 2zm0 1zm0 1zm0 2zm0 2zm0 1zm0 1zm0 1zm0 1zm0 77zm0 1zm0 1zm0 1zm0 1zm0 2zm0 1zm0 3zm0 1zm0 1zm0 2zm0 4zm0 1zm0 1zm0 2zm0 4zm0 1zm0 7zm0 3zm0 4zm0 22zm1 -185zm0 15zm0 2zm0 3zm0 5zm0 1zm0 3zm0 2zm0 1zm0 1zm0 3zm0 1zm0 5zm0 2zm0 1zm0 1zm0 77zm0 1zm0 2zm0 1zm0 1zm0 1zm0 2zm0 1zm0 2zm0 1zm0 1zm0 2zm0 2zm0 6zm0 1zm0 2zm0 1zm0 1zm0 3zm0 2zm0 1zm0 2zm0 6zm0 7zm0 5zm1 -170zm0 13zm0 3zm0 4zm0 3zm0 4zm0 3zm0 2zm0 1zm0 1zm0 2zm0 1zm0 2zm0 1zm0 77zm0 2zm0 3zm0 2zm0 1zm0 2zm0 2zm0 1zm0 1zm0 2zm0 1zm0 1zm0 2zm0 2zm0 4zm0 2zm0 1zm0 1zm0 2zm0 1zm0 6zm0 1zm0 9zm1 -159zm0 3zm0 10zm0 3zm0 1zm0 1zm0 1zm0 1zm0 5zm0 3zm0 1zm0 1zm0 1zm0 1zm0 1zm0 1zm0 77zm0 2zm0 1zm0 1zm0 1zm0 1zm0 1zm0 1zm0 1zm0 2zm0 1zm0 1zm0 2zm0 1zm0 1zm0 1zm0 2zm0 1zm0 7zm0 2zm0 2zm0 2zm0 1zm0 5zm0 9zm0 15zm1 -187zm0 14zm0 8zm0 6zm0 2zm0 2zm0 1zm0 1zm0 2zm0 1zm0 2zm0 2zm0 1zm0 1zm0 1zm0 1zm0 1zm0 1zm0 77zm0 1zm0 1zm0 1zm0 2zm0 1zm0 2zm0 3zm0 1zm0 1zm0 1zm0 1zm0 2zm0 1zm0 3zm0 3zm0 1zm0 1zm0 7zm0 1zm0 4zm0 1zm0 18zm0 3zm1 -174zm0 1zm0 8zm0 9zm0 3zm0 1zm0 3zm0 2zm0 1zm0 1zm0 1zm0 1zm0 1zm0 2zm0 1zm0 1zm0 1zm0 78zm0 1zm0 3zm0 1zm0 1zm0 1zm0 1zm0 1zm0 1zm0 1zm0 1zm0 1zm0 1zm0 1zm0 1zm0 1zm0 6zm0 5zm0 1zm0 1zm0 4zm0 7zm0 5zm0 10zm0 12zm1 -179zm0 13zm0 1zm0 3zm0 3zm0 1zm0 2zm0 1zm0 1zm0 1zm0 1zm0 1zm0 2zm0 1zm0 1zm0 1zm0 1zm0 1zm0 78zm0 2zm0 1zm0 3zm0 1zm0 2zm0 3zm0 1zm0 1zm0 2zm0 2zm0 1zm0 2zm0 3zm0 1zm0 4zm0 10zm0 14zm0 1zm0 3zm1 -193zm0 20zm0 9zm0 11zm0 2zm0 1zm0 2zm0 3zm0 1zm0 1zm0 2zm0 1zm0 4zm0 1zm0 78zm0 1zm0 1zm0 1zm0 1zm0 1zm0 1zm0 1zm0 1zm0 2zm0 1zm0 1zm0 2zm0 1zm0 1zm0 1zm0 1zm0 1zm0 1zm0 1zm0 2zm0 4zm0 1zm0 5zm0 1zm0 1zm0 1zm0 5zm0 4zm1 -174zm0 12zm0 7zm0 7zm0 4zm0 1zm0 10zm0 6zm0 3zm0 1zm0 2zm0 80zm0 1zm0 1zm0 1zm0 2zm0 1zm0 1zm0 1zm0 1zm0 5zm0 1zm0 2zm0 1zm0 1zm0 2zm0 2zm0 1zm0 1zm0 1zm0 1zm0 4zm0 3zm0 8zm1 -168zm0 12zm0 6zm0 2zm0 5zm0 15zm0 1zm0 3zm0 2zm0 1zm0 77zm0 1zm0 1zm0 1zm0 1zm0 1zm0 1zm0 1zm0 1zm0 1zm0 2zm0 1zm0 1zm0 1zm0 1zm0 1zm0 3zm0 1zm0 1zm0 2zm0 3zm0 3zm0 2zm0 3zm0 1zm0 2zm0 4zm0 6zm1 -181zm0 9zm0 11zm0 2zm0 1zm0 2zm0 2zm0 1zm0 4zm0 4zm0 8zm0 3zm0 3zm0 1zm0 3zm0 1zm0 3zm0 1zm0 76zm0 1zm0 2zm0 1zm0 1zm0 2zm0 2zm0 1zm0 1zm0 1zm0 1zm0 3zm0 1zm0 4zm0 2zm0 3zm0 3zm0 6zm0 7zm0 9zm1 -169zm0 2zm0 6zm0 3zm0 5zm0 13zm0 2zm0 4zm0 2zm0 2zm0 2zm0 2zm0 76zm0 2zm0 1zm0 2zm0 1zm0 1zm0 1zm0 2zm0 2zm0 1zm0 3zm0 2zm0 1zm0 2zm0 3zm0 1zm0 1zm0 4zm0 1zm0 9zm0 2zm0 3zm0 3zm0 2zm1 -190zm0 14zm0 9zm0 2zm0 6zm0 1zm0 3zm0 3zm0 11zm0 1zm0 1zm0 4zm0 2zm0 2zm0 2zm0 1zm0 1zm0 1zm0 1zm0 76zm0 2zm0 2zm0 3zm0 2zm0 1zm0 2zm0 2zm0 2zm0 1zm0 3zm0 1zm0 2zm0 1zm0 2zm0 1zm0 3zm0 1zm0 2zm0 2zm0 4zm0 1zm0 5zm0 13zm1 -179zm0 3zm0 4zm0 9zm0 2zm0 4zm0 3zm0 4zm0 6zm0 1zm0 2zm0 2zm0 2zm0 1zm0 1zm0 2zm0 76zm0 1zm0 3zm0 1zm0 1zm0 1zm0 1zm0 1zm0 1zm0 3zm0 2zm0 1zm0 2zm0 1zm0 2zm0 1zm0 2zm0 2zm0 2zm0 8zm1 -159zm0 22zm0 1zm0 4zm0 3zm0 2zm0 3zm0 1zm0 1zm0 2zm0 4zm0 3zm0 1zm0 77zm0 1zm0 5zm0 2zm0 1zm0 1zm0 1zm0 1zm0 1zm0 2zm0 2zm0 3zm0 2zm0 2zm0 1zm0 1zm0 1zm0 1zm0 3zm0 1zm0 3zm0 2zm1 -161zm0 12zm0 3zm0 2zm0 9zm0 3zm0 4zm0 5zm0 4zm0 2zm0 2zm0 1zm0 1zm0 1zm0 75zm0 2zm0 1zm0 1zm0 1zm0 1zm0 1zm0 3zm0 1zm0 2zm0 3zm0 2zm0 2zm0 1zm0 2zm0 4zm0 1zm0 1zm0 1zm0 6zm0 1zm0 2zm0 1zm0 7zm1 -152zm0 2zm0 3zm0 3zm0 7zm0 3zm0 1zm0 2zm0 5zm0 3zm0 1zm0 1zm0 77zm0 2zm0 1zm0 3zm0 4zm0 1zm0 2zm0 1zm0 2zm0 4zm0 2zm0 1zm0 4zm0 3zm0 11zm0 4zm1 -151zm0 1zm0 4zm0 4zm0 3zm0 1zm0 7zm0 1zm0 1zm0 2zm0 1zm0 1zm0 1zm0 3zm0 75zm0 1zm0 2zm0 1zm0 3zm0 2zm0 1zm0 2zm0 1zm0 1zm0 1zm0 2zm0 1zm0 1zm0 4zm0 1zm0 3zm0 1zm0 3zm0 1zm0 10zm0 2zm0 1zm1 -165zm0 18zm0 2zm0 2zm0 1zm0 3zm0 5zm0 3zm0 2zm0 1zm0 1zm0 1zm0 1zm0 1zm0 4zm0 1zm0 1zm0 74zm0 2zm0 1zm0 1zm0 1zm0 2zm0 1zm0 1zm0 1zm0 1zm0 2zm0 2zm0 1zm0 1zm0 1zm0 2zm0 2zm0 1zm0 3zm0 1zm0 1zm0 1zm0 5zm0 1zm1 -158zm0 16zm0 16zm0 7zm0 1zm0 2zm0 1zm0 1zm0 2zm0 1zm0 2zm0 1zm0 74zm0 1zm0 1zm0 2zm0 1zm0 3zm0 1zm0 1zm0 1zm0 1zm0 1zm0 1zm0 2zm0 2zm0 1zm0 2zm0 1zm0 2zm0 2zm0 3zm0 1zm0 1zm0 8zm0 12zm1 -165zm0 7zm0 6zm0 4zm0 2zm0 5zm0 8zm0 1zm0 1zm0 2zm0 1zm0 2zm0 1zm0 1zm0 74zm0 1zm0 1zm0 1zm0 1zm0 1zm0 3zm0 2zm0 2zm0 1zm0 1zm0 1zm0 1zm0 1zm0 1zm0 2zm0 3zm0 1zm0 2zm0 1zm0 1zm0 1zm0 3zm0 10zm0 5zm0 3zm1 -191zm0 24zm0 15zm0 5zm0 5zm0 3zm0 1zm0 4zm0 3zm0 5zm0 2zm0 1zm0 73zm0 1zm0 1zm0 3zm0 1zm0 3zm0 1zm0 1zm0 3zm0 4zm0 6zm0 1zm0 1zm0 1zm0 4zm0 1zm0 1zm0 1zm0 2zm0 10zm1 -150zm0 12zm0 4zm0 2zm0 1zm0 3zm0 2zm0 3zm0 1zm0 1zm0 3zm0 74zm0 2zm0 2zm0 1zm0 1zm0 1zm0 2zm0 1zm0 1zm0 2zm0 1zm0 2zm0 2zm0 7zm0 1zm0 8zm0 4zm1 -158zm0 13zm0 1zm0 2zm0 2zm0 11zm0 1zm0 2zm0 1zm0 1zm0 9zm0 2zm0 1zm0 74zm0 1zm0 1zm0 2zm0 2zm0 2zm0 1zm0 2zm0 1zm0 1zm0 1zm0 2zm0 3zm0 2zm0 7zm0 3zm0 4zm1 -140zm0 4zm0 4zm0 4zm0 1zm0 2zm0 1zm0 3zm0 2zm0 4zm0 2zm0 2zm0 1zm0 2zm0 1zm0 74zm0 1zm0 3zm0 4zm0 1zm0 1zm0 1zm0 1zm0 1zm0 1zm0 2zm0 1zm0 1zm0 2zm0 1zm0 1zm0 1zm0 1zm0 1zm0 3zm0 13zm0 2zm0 5zm1 -182zm0 29zm0 14zm0 4zm0 2zm0 1zm0 5zm0 1zm0 1zm0 3zm0 74zm0 2zm0 1zm0 1zm0 1zm0 2zm0 1zm0 1zm0 1zm0 1zm0 2zm0 1zm0 2zm0 1zm0 1zm0 4zm0 2zm0 3zm0 1zm0 4zm0 3zm0 10zm0 7zm1 -172zm0 21zm0 1zm0 1zm0 2zm0 1zm0 2zm0 5zm0 3zm0 1zm0 4zm0 1zm0 2zm0 1zm0 1zm0 1zm0 1zm0 74zm0 1zm0 1zm0 1zm0 2zm0 1zm0 1zm0 2zm0 1zm0 4zm0 1zm0 4zm0 1zm0 3zm0 3zm0 9zm0 3zm0 13zm1 -180zm0 7zm0 9zm0 2zm0 9zm0 4zm0 1zm0 1zm0 6zm0 1zm0 6zm0 1zm0 2zm0 2zm0 2zm0 2zm0 2zm0 73zm0 1zm0 2zm0 1zm0 2zm0 1zm0 1zm0 1zm0 3zm0 1zm0 1zm0 1zm0 2zm0 1zm0 1zm0 1zm0 4zm0 7zm0 5zm1 -148zm0 8zm0 8zm0 12zm0 6zm0 1zm0 1zm0 3zm0 1zm0 71zm0 1zm0 3zm0 1zm0 2zm0 1zm0 1zm0 2zm0 2zm0 2zm0 1zm0 1zm0 2zm0 1zm0 1zm0 3zm0 1zm0 2zm1 -138zm0 16zm0 6zm0 5zm0 4zm0 3zm0 1zm0 1zm0 1zm0 1zm0 1zm0 1zm0 1zm0 74zm0 1zm0 5zm0 1zm0 1zm0 2zm0 1zm0 2zm0 1zm0 2zm0 1zm0 2zm0 4zm0 1zm0 6zm0 7zm0 7zm1 -185zm0 27zm0 17zm0 1zm0 14zm0 1zm0 1zm0 1zm0 1zm0 2zm0 2zm0 1zm0 72zm0 1zm0 1zm0 2zm0 1zm0 1zm0 2zm0 5zm0 1zm0 2zm0 2zm0 1zm0 3zm0 2zm0 6zm0 2zm1 -154zm0 8zm0 16zm0 1zm0 1zm0 1zm0 1zm0 1zm0 5zm0 3zm0 2zm0 3zm0 1zm0 1zm0 4zm0 1zm0 1zm0 1zm0 71zm0 1zm0 1zm0 1zm0 1zm0 1zm0 2zm0 1zm0 1zm0 2zm0 1zm0 1zm0 2zm0 1zm0 1zm0 1zm0 4zm0 3zm0 3zm0 1zm0 1zm0 10zm1 -159zm0 9zm0 4zm0 6zm0 4zm0 4zm0 4zm0 3zm0 4zm0 1zm0 2zm0 1zm0 1zm0 3zm0 1zm0 1zm0 72zm0 1zm0 1zm0 1zm0 1zm0 1zm0 1zm0 1zm0 1zm0 1zm0 1zm0 1zm0 1zm0 2zm0 1zm0 1zm0 1zm0 1zm0 1zm0 1zm0 1zm0 2zm0 3zm0 1zm0 7zm1 -155zm0 14zm0 6zm0 12zm0 2zm0 1zm0 6zm0 4zm0 1zm0 1zm0 1zm0 1zm0 73zm0 1zm0 1zm0 1zm0 2zm0 1zm0 1zm0 2zm0 1zm0 1zm0 1zm0 1zm0 2zm0 1zm0 3zm0 5zm0 2zm0 1zm0 2zm0 4zm1 -151zm0 22zm0 3zm0 4zm0 2zm0 2zm0 2zm0 1zm0 2zm0 1zm0 3zm0 1zm0 2zm0 1zm0 1zm0 1zm0 70zm0 1zm0 1zm0 2zm0 1zm0 1zm0 1zm0 1zm0 1zm0 1zm0 2zm0 1zm0 1zm0 2zm0 1zm0 1zm0 4zm0 1zm0 4zm0 7zm0 2zm1 -171zm0 17zm0 25zm0 1zm0 1zm0 1zm0 8zm0 1zm0 1zm0 2zm0 2zm0 1zm0 1zm0 2zm0 1zm0 1zm0 1zm0 70zm0 1zm0 1zm0 1zm0 2zm0 1zm0 1zm0 1zm0 2zm0 2zm0 1zm0 2zm0 1zm0 2zm0 2zm0 5zm0 2zm0 3zm1 -184zm0 18zm0 8zm0 41zm0 1zm0 2zm0 7zm0 1zm0 3zm0 1zm0 2zm0 2zm0 68zm0 1zm0 2zm0 1zm0 1zm0 1zm0 1zm0 1zm0 2zm0 2zm0 1zm0 4zm0 2zm0 3zm0 2zm0 1zm0 3zm0 8zm1 -184zm0 1zm0 31zm0 2zm0 2zm0 13zm0 5zm0 1zm0 3zm0 2zm0 2zm0 5zm0 3zm0 1zm0 1zm0 2zm0 1zm0 1zm0 1zm0 2zm0 2zm0 69zm0 1zm0 1zm0 1zm0 2zm0 3zm0 2zm0 2zm0 3zm0 1zm0 2zm0 1zm0 3zm0 1zm0 3zm0 1zm0 1zm0 3zm1 -138zm0 3zm0 8zm0 3zm0 2zm0 2zm0 6zm0 8zm0 2zm0 2zm0 3zm0 68zm0 1zm0 1zm0 2zm0 2zm0 3zm0 1zm0 1zm0 1zm0 1zm0 3zm0 1zm0 1zm0 1zm0 13zm0 5zm0 2zm0 2zm1 -194zm0 47zm0 5zm0 8zm0 1zm0 1zm0 7zm0 7zm0 2zm0 1zm0 3zm0 3zm0 68zm0 1zm0 2zm0 1zm0 3zm0 1zm0 2zm0 2zm0 1zm0 2zm0 2zm0 3zm0 3zm0 2zm0 1zm0 5zm0 1zm1 -152zm0 1zm0 4zm0 1zm0 19zm0 5zm0 1zm0 12zm0 2zm0 2zm0 2zm0 1zm0 1zm0 1zm0 1zm0 1zm0 67zm0 1zm0 1zm0 1zm0 2zm0 1zm0 1zm0 1zm0 1zm0 1zm0 4zm0 3zm0 2zm0 10zm0 3zm1 -136zm0 5zm0 6zm0 3zm0 1zm0 5zm0 5zm0 1zm0 3zm0 1zm0 1zm0 2zm0 1zm0 1zm0 1zm0 69zm0 2zm0 1zm0 1zm0 1zm0 1zm0 1zm0 2zm0 1zm0 2zm0 2zm0 1zm0 1zm0 3zm0 1zm0 1zm0 6zm0 2zm1 -158zm0 16zm0 6zm0 1zm0 7zm0 10zm0 4zm0 1zm0 1zm0 3zm0 1zm0 6zm0 1zm0 1zm0 4zm0 1zm0 66zm0 1zm0 1zm0 2zm0 1zm0 1zm0 1zm0 1zm0 2zm0 1zm0 2zm0 1zm0 2zm0 2zm0 3zm0 3zm0 6zm0 1zm0 8zm1 -194zm0 3zm0 36zm0 4zm0 9zm0 5zm0 3zm0 15zm0 3zm0 2zm0 1zm0 2zm0 2zm0 2zm0 2zm0 1zm0 66zm0 1zm0 1zm0 1zm0 1zm0 2zm0 1zm0 1zm0 1zm0 1zm0 1zm0 3zm0 1zm0 1zm0 1zm0 1zm0 2zm0 3zm0 3zm1 -147zm0 8zm0 4zm0 7zm0 7zm0 2zm0 2zm0 2zm0 6zm0 3zm0 1zm0 1zm0 1zm0 1zm0 1zm0 1zm0 2zm0 4zm0 2zm0 1zm0 66zm0 1zm0 1zm0 1zm0 1zm0 2zm0 2zm0 3zm0 5zm0 2zm0 8zm0 3zm0 1zm0 2zm1 -134zm0 2zm0 9zm0 1zm0 5zm0 1zm0 4zm0 1zm0 3zm0 2zm0 2zm0 1zm0 4zm0 1zm0 1zm0 65zm0 1zm0 1zm0 2zm0 1zm0 1zm0 1zm0 2zm0 1zm0 1zm0 1zm0 1zm0 1zm0 1zm0 1zm0 4zm0 5zm0 6zm1 -159zm0 15zm0 28zm0 5zm0 8zm0 1zm0 1zm0 4zm0 2zm0 1zm0 64zm0 1zm0 1zm0 1zm0 1zm0 2zm0 1zm0 3zm0 1zm0 1zm0 2zm0 2zm0 2zm0 1zm0 1zm0 1zm0 4zm0 6zm1 -140zm0 21zm0 6zm0 5zm0 1zm0 1zm0 1zm0 1zm0 1zm0 3zm0 1zm0 1zm0 1zm0 1zm0 1zm0 1zm0 63zm0 1zm0 1zm0 1zm0 1zm0 1zm0 1zm0 2zm0 1zm0 2zm0 1zm0 5zm0 4zm0 5zm0 2zm0 1zm0 6zm1 -178zm0 39zm0 10zm0 1zm0 10zm0 5zm0 9zm0 2zm0 1zm0 1zm0 1zm0 1zm0 67zm0 1zm0 1zm0 1zm0 1zm0 1zm0 2zm0 1zm0 2zm0 1zm0 1zm0 4zm0 2zm0 1zm0 1zm0 3zm0 1zm1 -127zm0 11zm0 3zm0 1zm0 5zm0 5zm0 1zm0 3zm0 1zm0 2zm0 3zm0 1zm0 2zm0 63zm0 1zm0 2zm0 3zm0 1zm0 1zm0 1zm0 1zm0 1zm0 1zm0 1zm0 3zm0 1zm0 7zm0 1zm0 1zm0 1zm0 1zm0 5zm1 -160zm0 33zm0 1zm0 6zm0 5zm0 4zm0 3zm0 1zm0 2zm0 3zm0 1zm0 2zm0 1zm0 1zm0 1zm0 2zm0 61zm0 1zm0 3zm0 1zm0 1zm0 1zm0 1zm0 1zm0 1zm0 1zm0 1zm0 2zm0 1zm0 3zm0 3zm0 2zm0 3zm0 8zm1 -138zm0 6zm0 7zm0 7zm0 2zm0 2zm0 3zm0 2zm0 4zm0 3zm0 1zm0 2zm0 2zm0 1zm0 1zm0 2zm0 60zm0 2zm0 1zm0 1zm0 1zm0 1zm0 1zm0 1zm0 1zm0 1zm0 1zm0 1zm0 1zm0 2zm0 6zm0 3zm0 11zm1 -160zm0 4zm0 3zm0 12zm0 13zm0 6zm0 7zm0 4zm0 6zm0 4zm0 1zm0 4zm0 1zm0 1zm0 1zm0 60zm0 1zm0 4zm0 2zm0 1zm0 3zm0 1zm0 1zm0 1zm0 1zm0 2zm0 2zm0 1zm0 1zm0 5zm0 1zm0 4zm1 -139zm0 14zm0 1zm0 3zm0 3zm0 5zm0 7zm0 2zm0 1zm0 1zm0 1zm0 1zm0 2zm0 3zm0 1zm0 1zm0 2zm0 1zm0 58zm0 1zm0 1zm0 1zm0 1zm0 1zm0 1zm0 2zm0 2zm0 1zm0 5zm0 5zm0 1zm0 1zm0 1zm0 1zm1 -121zm0 9zm0 12zm0 5zm0 13zm0 1zm0 57zm0 2zm0 2zm0 1zm0 1zm0 3zm0 1zm0 1zm0 1zm0 2zm0 1zm0 1zm0 3zm0 2zm0 1zm0 2zm0 6zm1 -124zm0 1zm0 4zm0 1zm0 6zm0 5zm0 1zm0 6zm0 10zm0 1zm0 2zm0 1zm0 57zm0 2zm0 1zm0 3zm0 1zm0 3zm0 1zm0 3zm0 1zm0 1zm0 1zm0 4zm0 10zm1 -137zm0 7zm0 3zm0 1zm0 2zm0 1zm0 1zm0 11zm0 2zm0 1zm0 1zm0 1zm0 5zm0 4zm0 1zm0 1zm0 6zm0 1zm0 1zm0 1zm0 55zm0 1zm0 1zm0 1zm0 2zm0 5zm0 1zm0 3zm0 10zm0 4zm1 -129zm0 13zm0 3zm0 2zm0 1zm0 3zm0 4zm0 2zm0 2zm0 2zm0 1zm0 1zm0 4zm0 1zm0 1zm0 1zm0 3zm0 1zm0 1zm0 1zm0 56zm0 2zm0 2zm0 1zm0 3zm0 2zm0 2zm0 3zm0 1zm0 1zm0 1zm0 4zm1 -149zm0 24zm0 1zm0 14zm0 8zm0 2zm0 4zm0 1zm0 1zm0 5zm0 1zm0 3zm0 2zm0 1zm0 2zm0 1zm0 2zm0 55zm0 1zm0 1zm0 3zm0 3zm0 1zm0 1zm0 1zm0 1zm0 1zm0 1zm0 1zm0 1zm0 1zm0 6zm0 5zm1 -124zm0 2zm0 3zm0 7zm0 2zm0 1zm0 2zm0 6zm0 1zm0 3zm0 1zm0 1zm0 2zm0 1zm0 1zm0 3zm0 1zm0 4zm0 1zm0 54zm0 1zm0 1zm0 1zm0 1zm0 1zm0 1zm0 2zm0 1zm0 1zm0 1zm0 1zm0 4zm0 3zm0 7zm1 -129zm0 5zm0 5zm0 4zm0 7zm0 6zm0 3zm0 3zm0 2zm0 3zm0 6zm0 1zm0 2zm0 1zm0 1zm0 2zm0 53zm0 1zm0 1zm0 1zm0 1zm0 2zm0 1zm0 1zm0 1zm0 1zm0 2zm0 3zm0 2zm0 9zm1 -175zm0 37zm0 4zm0 5zm0 27zm0 2zm0 1zm0 3zm0 1zm0 3zm0 5zm0 1zm0 2zm0 2zm0 1zm0 1zm0 1zm0 1zm0 1zm0 51zm0 2zm0 1zm0 1zm0 1zm0 1zm0 1zm0 1zm0 2zm0 3zm0 3zm1 -155zm0 41zm0 8zm0 2zm0 1zm0 14zm0 12zm0 2zm0 3zm0 2zm0 1zm0 1zm0 54zm0 2zm0 1zm0 2zm0 2zm0 2zm0 1zm0 3zm0 1zm0 2zm0 8zm1 -168zm0 59zm0 10zm0 1zm0 2zm0 2zm0 3zm0 1zm0 2zm0 3zm0 2zm0 5zm0 2zm0 2zm0 50zm0 2zm0 1zm0 1zm0 1zm0 2zm0 1zm0 1zm0 5zm0 1zm0 3zm1 -133zm0 18zm0 1zm0 15zm0 1zm0 7zm0 1zm0 1zm0 7zm0 1zm0 7zm0 1zm0 5zm0 1zm0 49zm0 1zm0 1zm0 4zm0 1zm0 2zm0 2zm0 1zm0 1zm0 3zm0 1zm0 2zm0 3zm0 4zm1 -139zm0 6zm0 6zm0 11zm0 2zm0 3zm0 4zm0 1zm0 5zm0 7zm0 11zm0 2zm0 2zm0 1zm0 3zm0 1zm0 49zm0 1zm0 1zm0 2zm0 1zm0 1zm0 1zm0 4zm0 3zm0 5zm0 1zm0 5zm1 -147zm0 26zm0 27zm0 2zm0 1zm0 10zm0 1zm0 1zm0 1zm0 6zm0 47zm0 3zm0 2zm0 1zm0 2zm0 1zm0 2zm0 3zm0 1zm0 2zm0 3zm1 -152zm0 6zm0 24zm0 18zm0 2zm0 4zm0 4zm0 5zm0 2zm0 2zm0 3zm0 1zm0 3zm0 1zm0 1zm0 1zm0 1zm0 3zm0 1zm0 3zm0 48zm0 1zm0 2zm0 3zm0 1zm0 2zm0 1zm1 -84zm0 1zm0 5zm0 5zm0 2zm0 2zm0 1zm0 2zm0 5zm0 1zm0 1zm0 1zm0 49zm0 1zm0 2zm0 3zm0 2zm0 1zm0 2zm0 3zm0 1zm0 7zm1 -112zm0 19zm0 2zm0 1zm0 2zm0 1zm0 3zm0 4zm0 1zm0 2zm0 3zm0 1zm0 5zm0 1zm0 45zm0 1zm0 3zm0 3zm0 1zm0 4zm0 7zm0 1zm0 3zm1 -142zm0 15zm0 23zm0 11zm0 7zm0 3zm0 2zm0 4zm0 1zm0 4zm0 1zm0 1zm0 3zm0 45zm0 1zm0 2zm0 1zm0 2zm0 1zm0 1zm0 1zm0 1zm0 1zm0 1zm1 -115zm0 7zm0 17zm0 2zm0 1zm0 9zm0 4zm0 1zm0 1zm0 1zm0 1zm0 1zm0 1zm0 3zm0 1zm0 3zm0 2zm0 2zm0 1zm0 45zm0 2zm0 1zm0 1zm0 2zm0 1zm0 2zm0 2zm0 2zm0 5zm1 -130zm0 32zm0 5zm0 1zm0 6zm0 3zm0 5zm0 2zm0 1zm0 1zm0 2zm0 3zm0 2zm0 5zm0 47zm0 3zm0 1zm0 1zm0 2zm0 7zm0 6zm1 -156zm0 5zm0 10zm0 25zm0 15zm0 4zm0 4zm0 4zm0 5zm0 3zm0 6zm0 2zm0 2zm0 3zm0 1zm0 1zm0 2zm0 1zm0 42zm0 1zm0 1zm0 3zm0 1zm0 1zm0 3zm0 3zm0 1zm0 1zm0 1zm0 1zm0 2zm1 -139zm0 44zm0 3zm0 5zm0 2zm0 2zm0 3zm0 1zm0 1zm0 2zm0 3zm0 3zm0 3zm0 1zm0 6zm0 1zm0 40zm0 1zm0 2zm0 2zm0 1zm0 1zm0 6zm1 -100zm0 2zm0 12zm0 13zm0 1zm0 1zm0 1zm0 1zm0 2zm0 1zm0 6zm0 2zm0 2zm0 1zm0 1zm0 2zm0 41zm0 1zm0 1zm0 1zm0 1zm0 1zm0 2zm0 4zm0 3zm1 -112zm0 17zm0 6zm0 9zm0 2zm0 4zm0 8zm0 1zm0 5zm0 3zm0 1zm0 2zm0 1zm0 40zm0 1zm0 1zm0 1zm0 1zm0 1zm0 1zm0 2zm0 1zm0 1zm0 1zm0 2zm0 3zm1 -133zm0 22zm0 26zm0 10zm0 4zm0 3zm0 1zm0 2zm0 1zm0 2zm0 2zm0 2zm0 2zm0 1zm0 1zm0 37zm0 1zm0 1zm0 2zm0 1zm0 11zm0 3zm1 -93zm0 13zm0 2zm0 15zm0 2zm0 2zm0 2zm0 1zm0 1zm0 37zm0 1zm0 4zm0 3zm0 1zm0 3zm0 1zm1 -154zm0 21zm0 18zm0 16zm0 20zm0 4zm0 2zm0 1zm0 3zm0 2zm0 2zm0 3zm0 1zm0 1zm0 2zm0 1zm0 1zm0 2zm0 1zm0 1zm0 2zm0 1zm0 1zm0 36zm0 1zm0 1zm0 2zm0 1zm0 3zm0 1zm0 1zm0 4zm1 -98zm0 10zm0 2zm0 5zm0 1zm0 9zm0 4zm0 3zm0 7zm0 2zm0 1zm0 3zm0 2zm0 36zm0 1zm0 1zm0 2zm0 2zm0 1zm0 3zm0 1zm0 5zm1 -114zm0 31zm0 5zm0 1zm0 5zm0 1zm0 3zm0 2zm0 2zm0 2zm0 1zm0 1zm0 2zm0 1zm0 1zm0 2zm0 2zm0 1zm0 1zm0 34zm0 2zm0 1zm0 1zm0 3zm0 1zm0 1zm1 -100zm0 4zm0 7zm0 11zm0 3zm0 6zm0 5zm0 5zm0 5zm0 3zm0 1zm0 1zm0 2zm0 1zm0 1zm0 1zm0 1zm0 1zm0 34zm0 1zm0 2zm0 1zm0 2zm0 2zm0 1zm1 -116zm0 25zm0 4zm0 13zm0 1zm0 2zm0 7zm0 2zm0 4zm0 12zm0 1zm0 1zm0 1zm0 1zm0 1zm0 33zm0 1zm0 1zm0 2zm0 2zm0 2zm0 2zm1 -86zm0 9zm0 7zm0 2zm0 4zm0 10zm0 1zm0 1zm0 4zm0 5zm0 33zm0 1zm0 3zm0 1zm0 1zm0 1zm0 2zm0 2zm0 1zm0 2zm1 -105zm0 2zm0 9zm0 5zm0 6zm0 9zm0 9zm0 3zm0 4zm0 7zm0 4zm0 1zm0 2zm0 31zm0 1zm0 1zm0 1zm0 1zm0 5zm0 3zm1 -68zm0 7zm0 5zm0 2zm0 2zm0 2zm0 1zm0 1zm0 4zm0 1zm0 1zm0 30zm0 2zm0 1zm0 1zm0 1zm0 2zm0 1zm0 3zm0 2zm1 -86zm0 9zm0 3zm0 10zm0 2zm0 6zm0 8zm0 2zm0 1zm0 1zm0 2zm0 1zm0 29zm0 1zm0 3zm0 4zm1 -131zm0 68zm0 5zm0 2zm0 1zm0 5zm0 1zm0 3zm0 6zm0 1zm0 1zm0 1zm0 1zm0 30zm0 1zm0 1zm0 2zm0 1zm1 -93zm0 14zm0 1zm0 7zm0 6zm0 1zm0 9zm0 3zm0 1zm0 1zm0 4zm0 1zm0 1zm0 6zm0 1zm0 31zm0 1zm0 1zm0 3zm0 1zm0 3zm0 1zm1 -102zm0 35zm0 3zm0 2zm0 2zm0 5zm0 1zm0 3zm0 2zm0 1zm0 6zm0 3zm0 1zm0 1zm0 1zm0 1zm0 26zm0 3zm0 2zm0 2zm1 -97zm0 20zm0 11zm0 1zm0 5zm0 1zm0 4zm0 1zm0 1zm0 5zm0 2zm0 2zm0 1zm0 2zm0 1zm0 2zm0 1zm0 1zm0 1zm0 1zm0 1zm0 27zm0 1zm0 1zm0 1zm0 2zm0 3zm0 1zm1 -124zm0 43zm0 16zm0 8zm0 2zm0 3zm0 5zm0 1zm0 4zm0 6zm0 1zm0 2zm0 24zm0 1zm0 1zm0 1zm0 2zm1 -102zm0 19zm0 31zm0 6zm0 2zm0 1zm0 1zm0 2zm0 5zm0 1zm0 2zm0 3zm0 1zm0 26zm0 1zm0 1zm0 2zm1 -87zm0 2zm0 9zm0 15zm0 12zm0 8zm0 2zm0 3zm0 1zm0 3zm0 1zm0 1zm0 1zm0 23zm0 2zm0 1zm0 2zm0 2zm1 -60zm0 1zm0 4zm0 9zm0 4zm0 4zm0 1zm0 1zm0 2zm0 1zm0 2zm0 3zm0 22zm0 1zm0 3zm0 1zm1 -94zm0 1zm0 9zm0 16zm0 12zm0 3zm0 1zm0 2zm0 3zm0 1zm0 8zm0 3zm0 2zm0 1zm0 1zm0 4zm0 1zm0 1zm0 21zm0 1zm0 1zm0 3zm1 -72zm0 29zm0 1zm0 2zm0 2zm0 4zm0 2zm0 1zm0 1zm0 2zm0 2zm0 1zm0 20zm0 1zm0 1zm0 3zm1 -66zm0 9zm0 2zm0 3zm0 2zm0 2zm0 3zm0 8zm0 7zm0 2zm0 24zm0 1zm0 3zm1 -51zm0 2zm0 6zm0 1zm0 3zm0 2zm0 4zm0 1zm0 2zm0 5zm0 2zm0 1zm0 18zm0 2zm0 1zm1 -80zm0 5zm0 1zm0 9zm0 1zm0 12zm0 2zm0 10zm0 4zm0 3zm0 1zm0 2zm0 1zm0 4zm0 3zm0 1zm0 1zm0 1zm0 18zm1 -99zm0 5zm0 26zm0 18zm0 5zm0 5zm0 5zm0 2zm0 2zm0 7zm0 1zm0 2zm0 1zm0 2zm0 1zm0 16zm0 2zm0 1zm1 -82zm0 5zm0 9zm0 16zm0 13zm0 2zm0 3zm0 3zm0 1zm0 1zm0 2zm0 5zm0 1zm0 2zm0 1zm0 1zm0 17zm0 1zm1 -78zm0 2zm0 2zm0 18zm0 7zm0 4zm0 4zm0 2zm0 2zm0 2zm0 4zm0 1zm0 4zm0 2zm0 2zm0 3zm0 1zm0 15zm0 1zm0 2zm1 -71zm0 7zm0 6zm0 4zm0 10zm0 3zm0 2zm0 1zm0 2zm0 11zm0 2zm0 1zm0 2zm0 1zm0 1zm0 1zm0 1zm0 14zm1 -54zm0 8zm0 15zm0 3zm0 5zm0 1zm0 1zm0 3zm0 1zm0 2zm0 1zm0 1zm0 13zm0 1zm1 -72zm0 10zm0 5zm0 4zm0 19zm0 3zm0 10zm0 4zm0 2zm0 1zm0 1zm0 2zm0 12zm1 -72zm0 11zm0 12zm0 3zm0 4zm0 4zm0 4zm0 5zm0 3zm0 7zm0 1zm0 1zm0 1zm0 1zm0 1zm0 1zm0 1zm0 1zm0 11zm1 -55zm0 9zm0 8zm0 2zm0 6zm0 6zm0 1zm0 1zm0 4zm0 3zm0 5zm0 10zm1 -84zm0 23zm0 9zm0 9zm0 17zm0 4zm0 2zm0 2zm0 1zm0 1zm0 2zm0 3zm0 1zm0 1zm0 9zm1 -79zm0 22zm0 33zm0 5zm0 1zm0 1zm0 3zm0 14zm1 -43zm0 17zm0 7zm0 2zm0 5zm0 2zm0 1zm0 1zm0 2zm1 -16zm0 7zm0 4zm0 1zm0 2zm0 2zm0 1zm0 1zm1 -15zm0 3zm0 3zm0 8zm0 1zm0 1z" stroke="#2222f5" stroke-width="1.05" stroke-linecap="square" vector-effect="non-scaling-stroke" fill="none"/>
</g>
<rect x="26.2" y="9.7" width="177" height="185.6" fill="none" stroke="#9a9a9a" stroke-width="0.85"/>
<path d="M26.2 195.3v-1.8M26.2 9.7v1.8M26.2 195.3h1.8M203.2 195.3h-1.8M60.2 195.3v-1.8M60.2 9.7v1.8M26.2 159.6h1.8M203.2 159.6h-1.8M94.3 195.3v-1.8M94.3 9.7v1.8M26.2 123.9h1.8M203.2 123.9h-1.8M128.3 195.3v-1.8M128.3 9.7v1.8M26.2 88.2h1.8M203.2 88.2h-1.8M162.4 195.3v-1.8M162.4 9.7v1.8M26.2 52.5h1.8M203.2 52.5h-1.8M196.4 195.3v-1.8M196.4 9.7v1.8M26.2 16.8h1.8M203.2 16.8h-1.8" stroke="#777" stroke-width="0.8" fill="none"/>
<g font-family="'Liberation Sans', Arial, sans-serif" font-size="7.3" fill="#4a4a4a">
<text x="25.9" y="206.3" text-anchor="middle" textLength="3.1" lengthAdjust="spacingAndGlyphs">0</text>
<text x="24.3" y="198.6" text-anchor="end" textLength="3.1" lengthAdjust="spacingAndGlyphs">0</text>
<text x="59.9" y="206.3" text-anchor="middle" textLength="6.1" lengthAdjust="spacingAndGlyphs">50</text>
<text x="24.3" y="162.9" text-anchor="end" textLength="6.1" lengthAdjust="spacingAndGlyphs">50</text>
<text x="94" y="206.3" text-anchor="middle" textLength="9.2" lengthAdjust="spacingAndGlyphs">100</text>
<text x="24.3" y="127.2" text-anchor="end" textLength="9.2" lengthAdjust="spacingAndGlyphs">100</text>
<text x="128" y="206.3" text-anchor="middle" textLength="9.2" lengthAdjust="spacingAndGlyphs">150</text>
<text x="24.3" y="91.5" text-anchor="end" textLength="9.2" lengthAdjust="spacingAndGlyphs">150</text>
<text x="162.1" y="206.3" text-anchor="middle" textLength="9.2" lengthAdjust="spacingAndGlyphs">200</text>
<text x="24.3" y="55.8" text-anchor="end" textLength="9.2" lengthAdjust="spacingAndGlyphs">200</text>
<text x="196.1" y="206.3" text-anchor="middle" textLength="9.2" lengthAdjust="spacingAndGlyphs">250</text>
<text x="24.3" y="20.1" text-anchor="end" textLength="9.2" lengthAdjust="spacingAndGlyphs">250</text>
</g>
<text x="49.9" y="6.9" font-family="'Liberation Sans', Arial, sans-serif" font-size="7.7" fill="#111" textLength="129.6" lengthAdjust="spacingAndGlyphs">Row Correlation of the Original Image R Channel</text>
<path d="M289.1 9.8V195.3M255.1 159.6H431.9M323.1 9.8V195.3M255.1 124H431.9M357.1 9.8V195.3M255.1 88.3H431.9M391.1 9.8V195.3M255.1 52.6H431.9M425.1 9.8V195.3M255.1 16.9H431.9" stroke="#efefef" stroke-width="0.8" fill="none"/>
<g transform="matrix(0.6800 0 0 -0.7135 255.1 195.3)">
<path d="M0 47.5L1 48.4L2 49.2L3 50.1L4 50.9L5 51.8L6 52.7L7 53.5L8 54.4L9 55.2L10 56.1L11 57L12 57.8L13 58.7L14 59.5L15 60.4L16 61.3L17 62.1L18 63L19 63.8L20 64.7L21 65.6L22 66.4L23 67.3L24 68.1L25 69L26 69.9L27 70.8L28 71.6L29 72.5L30 73.4L31 74.3L32 75.2L33 76L34 76.9L35 77.8L36 78.7L37 79.6L38 80.4L39 81.3L40 82.2L41 83.1L42 84L43 84.8L44 85.7L45 86.6L46 87.5L47 88.4L48 89.2L49 90.1L50 91L51 91.8L52 92.7L53 93.5L54 94.4L55 95.2L56 96L57 96.9L58 97.7L59 98.6L60 99.4L61 100.2L62 101.1L63 101.9L64 102.8L65 103.6L66 104.4L67 105.3L68 106.1L69 107L70 107.8L71 108.6L72 109.5L73 110.3L74 111.2L75 112L76 112.8L77 113.5L78 114.3L79 115L80 115.8L81 116.6L82 117.3L83 118.1L84 118.8L85 119.6L86 120.4L87 121.1L88 121.9L89 122.6L90 123.4L91 124.2L92 124.9L93 125.7L94 126.4L95 127.2L96 128L97 128.7L98 129.5L99 130.2L100 131L101 131.7L102 132.4L103 133.2L104 133.9L105 134.6L106 135.3L107 136L108 136.8L109 137.5L110 138.2L111 138.9L112 139.6L113 140.4L114 141.1L115 141.8L116 142.5L117 143.2L118 144L119 144.7L120 145.4L121 146.1L122 146.8L123 147.6L124 148.3L125 149L126 149.8L127 150.5L128 151.3L129 152L130 152.8L131 153.6L132 154.3L133 155.1L134 155.8L135 156.6L136 157.4L137 158.1L138 158.9L139 159.6L140 160.4L141 161.2L142 161.9L143 162.7L144 163.5L145 164.3L146 165.1L147 165.9L148 166.7L149 167.4L150 168.2L151 169L152 169.7L153 170.4L154 171.1L155 171.8L156 172.5L157 173.3L158 174L159 174.7L160 175.4L161 176.1L162 176.8L163 177.6L164 178.3L165 179L166 179.7L167 180.5L168 181.2L169 181.9L170 182.7L171 183.4L172 184.1L173 184.9L174 185.6L175 186.3L176 187.1L177 187.9L178 188.6L179 189.4L180 190.2L181 190.9L182 191.7L183 192.5L184 193.3L185 194L186 194.8L187 195.6L188 196.3L189 197.1L190 197.9L191 198.6L192 199.4L193 200.2L194 200.9L195 201.7L196 202.4L197 203.2L198 204L199 204.7L200 205.5L201 206.2L202 206.8L203 207.5L204 208.2L205 208.9L206 209.6L207 210.2L208 210.9L209 211.6L210 212.3L211 213L212 213.6L213 214.3L214 215.1L215 216L216 216.8L217 217.6L218 218.5L219 219.3L220 220.1L221 220.9L222 221.8L223 222.6L223 222.5L222 221.4L221 220.3L220 219.2L219 218.2L218 217.1L217 216L216 214.9L215 213.8L214 212.7L213 211.6L212 210.6L211 209.5L210 208.4L209 207.4L208 206.3L207 205.3L206 204.2L205 203.1L204 202.1L203 201L202 200L201 198.9L200 197.8L199 196.5L198 195.1L197 193.7L196 192.3L195 191L194 189.6L193 188.2L192 186.9L191 185.5L190 184.1L189 182.5L188 181L187 179.4L186 177.9L185 176.4L184 174.9L183 173.4L182 171.8L181 170.3L180 168.8L179 167.2L178 165.7L177 164.2L176 162.6L175 161.1L174 159.6L173 158.1L172 156.7L171 155.2L170 153.7L169 152.2L168 150.7L167 149.2L166 147.7L165 146.3L164 144.8L163 143.3L162 141.9L161 140.7L160 139.4L159 138.1L158 136.9L157 135.6L156 134.4L155 133.1L154 131.9L153 130.6L152 129.4L151 128.1L150 126.8L149 125.5L148 124.2L147 122.9L146 121.6L145 120.4L144 119.1L143 117.8L142 116.4L141 115.1L140 113.8L139 112.5L138 111.2L137 109.8L136 108.5L135 107.2L134 105.9L133 104.6L132 103.2L131 101.9L130 100.6L129 99.3L128 98L127 96.6L126 95.3L125 94L124 92.8L123 91.5L122 90.3L121 89L120 87.8L119 86.6L118 85.3L117 84.1L116 82.8L115 81.6L114 80.4L113 79.1L112 77.9L111 76.6L110 75.4L109 74.2L108 72.9L107 71.7L106 70.4L105 69.2L104 68L103 66.7L102 65.5L101 64.2L100 63L99 62L98 60.9L97 59.9L96 58.8L95 57.8L94 56.8L93 55.7L92 54.7L91 53.6L90 52.6L89 51.6L88 50.5L87 49.5L86 48.4L85 47.4L84 46.4L83 45.3L82 44.3L81 43.2L80 42.2L79 41.2L78 40.1L77 39.1L76 38L75 37L74 36L73 35.1L72 34.1L71 33.2L70 32.2L69 31.2L68 30.3L67 29.3L66 28.4L65 27.4L64 26.4L63 25.5L62 24.5L61 23.6L60 22.6L59 21.6L58 20.7L57 19.7L56 18.8L55 17.8L54 16.8L53 15.9L52 14.9L51 14L50 13L49 12.2L48 11.3L47 10.5L46 9.7L45 8.8L44 8L43 7.2L42 6.3L41 5.5L40 4.7L39 3.8L38 3L37 1.4L36 0L35 0L34 0L33 0L32 0L31 0L30 0L29 0L28 0L27 0L26 0L25 0L24 0L23 0L22 0L21 0L20 0L19 0L18 0L17 0L16 0L15 0L14 0L13 0L12 0L11 0L10 0L9 0L8 0L7 0L6 0L5 0L4 0L3 0L2 0L1 0L0 0Z" fill="url(#st)" stroke="#2020f5" stroke-width="1.2" stroke-linejoin="round" vector-effect="non-scaling-stroke"/>
<path d="M0 48zm0 1zm0 2zm0 2zm0 1zm0 1zm0 3zm0 2zm0 1zm0 1zm0 1zm0 2zm0 2zm0 1zm0 5zm0 1zm0 1zm0 2zm0 6zm0 3zm0 2zm0 4zm0 18zm1 -60zm0 1zm0 1zm0 3zm0 1zm0 1zm0 6zm0 2zm0 3zm0 5zm0 5zm0 5zm0 3zm0 1zm0 2zm0 3zm0 11zm1 -53zm0 1zm0 1zm0 1zm0 4zm0 4zm0 7zm0 1zm0 2zm0 1zm0 1zm0 3zm0 1zm0 3zm0 4zm0 2zm0 10zm0 12zm1 -57zm0 1zm0 3zm0 1zm0 1zm0 1zm0 1zm0 1zm0 1zm0 1zm0 1zm0 2zm0 2zm0 1zm0 1zm0 1zm0 3zm0 2zm0 2zm0 4zm0 4zm0 25zm1 -57zm0 1zm0 1zm0 1zm0 1zm0 1zm0 2zm0 1zm0 1zm0 1zm0 3zm0 1zm0 1zm0 1zm0 3zm0 2zm0 8zm0 6zm0 1zm0 7zm1 -43zm0 1zm0 1zm0 1zm0 2zm0 1zm0 1zm0 2zm0 1zm0 2zm0 2zm0 1zm0 1zm0 3zm0 3zm0 1zm0 9zm0 1zm0 1zm0 5zm0 4zm1 -43zm0 1zm0 2zm0 1zm0 1zm0 1zm0 1zm0 3zm0 1zm0 1zm0 1zm0 2zm0 1zm0 3zm0 1zm0 1zm0 3zm0 4zm0 1zm0 2zm0 8zm0 9zm0 1zm1 -48zm0 1zm0 1zm0 1zm0 1zm0 1zm0 1zm0 1zm0 1zm0 1zm0 1zm0 3zm0 1zm0 1zm0 2zm0 2zm0 2zm0 1zm0 1zm0 1zm0 4zm0 5zm0 11zm0 2zm0 15zm1 -60zm0 1zm0 1zm0 1zm0 1zm0 2zm0 1zm0 2zm0 1zm0 1zm0 1zm0 1zm0 1zm0 7zm0 1zm0 1zm0 3zm0 9zm0 1zm1 -34zm0 2zm0 1zm0 1zm0 1zm0 1zm0 1zm0 1zm0 2zm0 1zm0 1zm0 1zm0 2zm0 3zm0 5zm0 14zm0 1zm0 1zm0 1zm0 21zm1 -61zm0 4zm0 1zm0 2zm0 2zm0 2zm0 2zm0 1zm0 1zm0 4zm0 1zm0 1zm0 7zm0 3zm0 8zm0 6zm1 -45zm0 3zm0 1zm0 3zm0 1zm0 2zm0 3zm0 4zm0 1zm0 1zm0 1zm0 2zm0 2zm0 2zm0 1zm0 1zm0 1zm0 2zm0 2zm0 1zm0 2zm0 3zm0 8zm0 3zm0 11zm0 3zm1 -61zm0 1zm0 1zm0 2zm0 1zm0 1zm0 1zm0 2zm0 2zm0 1zm0 3zm0 2zm0 1zm0 2zm0 5zm0 3zm0 9zm0 6zm0 3zm0 3zm1 -50zm0 1zm0 1zm0 1zm0 1zm0 1zm0 1zm0 1zm0 1zm0 1zm0 2zm0 1zm0 1zm0 1zm0 1zm0 1zm0 3zm0 1zm0 1zm0 2zm0 2zm0 1zm0 3zm0 4zm0 2zm0 15zm0 1zm0 5zm1 -54zm0 1zm0 1zm0 1zm0 1zm0 1zm0 1zm0 1zm0 1zm0 1zm0 3zm0 2zm0 3zm0 1zm0 2zm0 1zm0 1zm0 1zm0 8zm0 1zm0 3zm0 8zm0 1zm1 -44zm0 1zm0 1zm0 1zm0 2zm0 2zm0 3zm0 1zm0 1zm0 1zm0 3zm0 1zm0 3zm0 1zm0 2zm0 6zm0 1zm0 5zm0 7zm0 6zm0 1zm0 9zm0 8zm1 -64zm0 1zm0 1zm0 1zm0 1zm0 1zm0 1zm0 1zm0 1zm0 1zm0 1zm0 1zm0 6zm0 1zm0 3zm0 1zm0 1zm0 4zm0 2zm0 4zm0 3zm0 20zm1 -56zm0 2zm0 4zm0 1zm0 3zm0 2zm0 4zm0 1zm0 1zm0 4zm0 2zm0 6zm0 3zm0 9zm1 -42zm0 2zm0 1zm0 1zm0 1zm0 1zm0 1zm0 1zm0 1zm0 1zm0 2zm0 3zm0 2zm0 1zm0 3zm0 1zm0 2zm0 1zm0 1zm0 14zm0 8zm0 1zm0 7zm0 16zm1 -71zm0 1zm0 1zm0 1zm0 3zm0 1zm0 1zm0 1zm0 1zm0 1zm0 1zm0 3zm0 1zm0 3zm0 1zm0 1zm0 4zm0 4zm0 2zm0 3zm0 1zm0 3zm0 7zm0 1zm1 -44zm0 1zm0 1zm0 1zm0 1zm0 1zm0 1zm0 1zm0 1zm0 1zm0 1zm0 1zm0 2zm0 1zm0 2zm0 1zm0 3zm0 1zm0 2zm0 3zm0 1zm0 4zm0 8zm0 16zm0 12zm1 -67zm0 1zm0 1zm0 1zm0 1zm0 1zm0 3zm0 1zm0 1zm0 1zm0 2zm0 1zm0 1zm0 1zm0 1zm0 8zm0 1zm0 8zm0 6zm0 17zm1 -56zm0 1zm0 1zm0 1zm0 1zm0 3zm0 2zm0 1zm0 1zm0 2zm0 1zm0 3zm0 5zm0 1zm0 10zm0 5zm1 -37zm0 1zm0 1zm0 1zm0 1zm0 1zm0 1zm0 1zm0 2zm0 1zm0 1zm0 2zm0 2zm0 1zm0 2zm0 2zm0 9zm0 1zm0 4zm0 1zm0 3zm0 4zm0 28zm1 -68zm0 2zm0 1zm0 1zm0 3zm0 2zm0 1zm0 1zm0 2zm0 2zm0 1zm0 1zm0 1zm0 1zm0 1zm0 2zm0 3zm0 3zm0 4zm0 1zm0 10zm0 4zm1 -47zm0 2zm0 1zm0 1zm0 1zm0 2zm0 1zm0 1zm0 1zm0 1zm0 2zm0 1zm0 1zm0 1zm0 2zm0 1zm0 2zm0 3zm0 10zm0 12zm1 -46zm0 1zm0 1zm0 2zm0 1zm0 2zm0 1zm0 1zm0 1zm0 2zm0 1zm0 2zm0 1zm0 1zm0 1zm0 2zm0 3zm0 15zm0 7zm0 1zm0 1zm0 8zm1 -54zm0 1zm0 1zm0 1zm0 1zm0 3zm0 1zm0 2zm0 1zm0 2zm0 1zm0 4zm0 1zm0 1zm0 3zm0 1zm0 3zm0 4zm0 4zm0 1zm0 3zm0 6zm0 1zm1 -45zm0 2zm0 1zm0 1zm0 2zm0 1zm0 1zm0 1zm0 1zm0 2zm0 1zm0 1zm0 1zm0 1zm0 1zm0 2zm0 2zm0 4zm0 4zm0 3zm0 1zm0 3zm1 -34zm0 1zm0 1zm0 1zm0 1zm0 2zm0 1zm0 2zm0 1zm0 1zm0 1zm0 1zm0 1zm0 1zm0 2zm0 1zm0 3zm0 1zm0 4zm0 12zm0 1zm0 4zm0 1zm0 13zm1 -57zm0 1zm0 1zm0 1zm0 3zm0 1zm0 1zm0 1zm0 1zm0 2zm0 3zm0 3zm0 3zm0 1zm0 1zm0 2zm0 1zm0 1zm0 14zm0 7zm0 4zm0 9zm1 -60zm0 1zm0 2zm0 1zm0 2zm0 2zm0 1zm0 1zm0 1zm0 2zm0 1zm0 1zm0 1zm0 4zm0 3zm0 5zm0 3zm0 5zm0 2zm0 8zm1 -45zm0 1zm0 1zm0 3zm0 1zm0 1zm0 1zm0 1zm0 1zm0 1zm0 3zm0 1zm0 2zm0 5zm0 1zm0 3zm0 1zm1 -26zm0 2zm0 1zm0 3zm0 5zm0 3zm0 1zm0 2zm0 1zm0 1zm0 3zm0 14zm0 19zm0 11zm1 -64zm0 1zm0 1zm0 1zm0 1zm0 1zm0 2zm0 1zm0 1zm0 2zm0 1zm0 5zm0 1zm0 2zm0 3zm0 4zm0 2zm0 8zm0 4zm1 -42zm0 1zm0 1zm0 2zm0 2zm0 1zm0 2zm0 1zm0 1zm0 5zm0 1zm0 1zm0 4zm0 2zm0 2zm0 2zm0 1zm0 5zm0 4zm0 13zm1 -50zm0 1zm0 2zm0 2zm0 1zm0 1zm0 1zm0 3zm0 1zm0 3zm0 1zm0 1zm0 3zm0 1zm0 5zm0 2zm0 3zm0 19zm1 -129zm0 1zm0 79zm0 1zm0 4zm0 2zm0 1zm0 1zm0 3zm0 1zm0 1zm0 1zm0 1zm0 3zm0 1zm0 3zm0 3zm0 1zm0 1zm0 7zm0 27zm1 -142zm0 1zm0 80zm0 2zm0 1zm0 2zm0 2zm0 2zm0 1zm0 1zm0 2zm0 2zm0 2zm0 2zm0 2zm0 2zm0 3zm0 1zm0 2zm0 17zm1 -126zm0 1zm0 1zm0 81zm0 1zm0 1zm0 1zm0 1zm0 2zm0 1zm0 1zm0 1zm0 3zm0 1zm0 1zm0 1zm0 1zm0 3zm0 3zm0 2zm0 2zm0 1zm0 7zm0 4zm0 3zm0 2zm0 1zm0 4zm1 -132zm0 2zm0 1zm0 1zm0 79zm0 1zm0 1zm0 1zm0 1zm0 1zm0 4zm0 1zm0 4zm0 2zm0 1zm0 2zm0 2zm0 1zm0 3zm0 1zm0 11zm0 1zm0 6zm1 -126zm0 1zm0 1zm0 1zm0 1zm0 79zm0 3zm0 2zm0 2zm0 1zm0 1zm0 1zm0 3zm0 3zm0 2zm0 2zm0 3zm0 8zm0 12zm0 2zm1 -127zm0 1zm0 2zm0 1zm0 78zm0 2zm0 1zm0 2zm0 1zm0 1zm0 2zm0 1zm0 2zm0 1zm0 4zm0 2zm0 1zm0 6zm0 1zm0 2zm0 2zm0 5zm0 3zm1 -120zm0 1zm0 1zm0 1zm0 1zm0 78zm0 1zm0 2zm0 2zm0 2zm0 1zm0 1zm0 1zm0 2zm0 5zm0 1zm0 1zm0 2zm0 2zm0 3zm0 1zm0 1zm0 3zm0 2zm0 2zm0 6zm0 3zm0 23zm1 -152zm0 2zm0 3zm0 1zm0 80zm0 1zm0 1zm0 1zm0 2zm0 1zm0 1zm0 1zm0 2zm0 1zm0 1zm0 1zm0 1zm0 1zm0 1zm0 2zm0 1zm0 1zm0 4zm0 3zm0 4zm0 3zm0 32zm1 -152zm0 1zm0 2zm0 2zm0 3zm0 79zm0 1zm0 1zm0 1zm0 1zm0 1zm0 2zm0 1zm0 2zm0 1zm0 1zm0 3zm0 1zm0 1zm0 1zm0 2zm0 1zm0 3zm0 1zm0 1zm0 5zm0 6zm0 4zm0 7zm1 -132zm0 1zm0 1zm0 1zm0 1zm0 1zm0 1zm0 81zm0 2zm0 1zm0 1zm0 1zm0 1zm0 1zm0 1zm0 1zm0 1zm0 2zm0 3zm0 1zm0 5zm0 3zm0 4zm0 3zm0 4zm0 45zm1 -169zm0 4zm0 84zm0 1zm0 1zm0 1zm0 1zm0 1zm0 1zm0 1zm0 1zm0 1zm0 2zm0 1zm0 1zm0 1zm0 1zm0 1zm0 2zm0 1zm0 2zm0 3zm0 1zm0 1zm0 2zm0 2zm0 6zm0 1zm0 2zm0 2zm0 18zm1 -147zm0 2zm0 3zm0 2zm0 2zm0 1zm0 81zm0 2zm0 1zm0 1zm0 1zm0 1zm0 1zm0 1zm0 1zm0 1zm0 2zm0 3zm0 5zm0 1zm0 2zm0 1zm0 2zm0 2zm0 3zm1 -122zm0 2zm0 3zm0 2zm0 2zm0 1zm0 1zm0 80zm0 1zm0 1zm0 1zm0 3zm0 1zm0 1zm0 2zm0 1zm0 3zm0 2zm0 1zm0 1zm0 1zm0 2zm0 2zm0 5zm0 7zm0 2zm0 6zm0 6zm0 28zm1 -167zm0 6zm0 1zm0 1zm0 1zm0 1zm0 80zm0 3zm0 1zm0 1zm0 1zm0 1zm0 1zm0 2zm0 1zm0 1zm0 1zm0 1zm0 1zm0 1zm0 2zm0 1zm0 1zm0 9zm0 5zm0 12zm0 14zm1 -151zm0 1zm0 2zm0 1zm0 4zm0 1zm0 1zm0 1zm0 1zm0 79zm0 1zm0 1zm0 1zm0 1zm0 1zm0 1zm0 1zm0 1zm0 2zm0 1zm0 2zm0 1zm0 1zm0 1zm0 2zm0 1zm0 17zm0 3zm1 -128zm0 1zm0 1zm0 2zm0 2zm0 1zm0 1zm0 1zm0 2zm0 79zm0 1zm0 1zm0 2zm0 1zm0 2zm0 1zm0 1zm0 2zm0 1zm0 2zm0 1zm0 1zm0 4zm0 8zm0 8zm0 7zm0 4zm0 3zm1 -140zm0 3zm0 1zm0 4zm0 1zm0 2zm0 80zm0 1zm0 2zm0 2zm0 1zm0 2zm0 1zm0 1zm0 1zm0 2zm0 2zm0 3zm0 1zm0 1zm0 4zm0 3zm0 1zm0 2zm0 1zm0 7zm0 3zm0 1zm0 6zm1 -137zm0 1zm0 2zm0 1zm0 3zm0 1zm0 2zm0 80zm0 3zm0 1zm0 1zm0 1zm0 1zm0 1zm0 2zm0 1zm0 1zm0 1zm0 2zm0 1zm0 1zm0 2zm0 7zm0 1zm0 3zm0 6zm0 2zm0 1zm1 -132zm0 6zm0 1zm0 2zm0 2zm0 1zm0 1zm0 1zm0 1zm0 79zm0 1zm0 1zm0 1zm0 1zm0 1zm0 1zm0 1zm0 1zm0 1zm0 1zm0 2zm0 2zm0 1zm0 1zm0 1zm0 1zm0 4zm0 3zm0 4zm0 9zm0 6zm0 5zm1 -138zm0 2zm0 2zm0 2zm0 1zm0 3zm0 1zm0 79zm0 1zm0 1zm0 1zm0 3zm0 2zm0 2zm0 1zm0 4zm0 1zm0 3zm0 1zm0 5zm0 7zm0 1zm0 3zm1 -133zm0 7zm0 2zm0 1zm0 1zm0 1zm0 1zm0 1zm0 2zm0 2zm0 1zm0 79zm0 1zm0 1zm0 1zm0 1zm0 1zm0 1zm0 2zm0 2zm0 7zm0 2zm0 1zm0 1zm0 3zm0 2zm0 5zm0 6zm0 1zm0 1zm0 2zm0 9zm0 14zm1 -160zm0 2zm0 1zm0 2zm0 2zm0 1zm0 6zm0 1zm0 1zm0 1zm0 1zm0 78zm0 1zm0 2zm0 1zm0 1zm0 2zm0 2zm0 1zm0 1zm0 1zm0 1zm0 1zm0 3zm0 1zm0 1zm0 1zm0 2zm0 8zm0 3zm0 20zm0 4zm1 -148zm0 3zm0 1zm0 5zm0 1zm0 1zm0 1zm0 1zm0 79zm0 1zm0 1zm0 1zm0 1zm0 2zm0 1zm0 2zm0 2zm0 2zm0 2zm0 2zm0 1zm0 1zm0 1zm0 3zm0 2zm0 4zm0 2zm0 6zm0 2zm0 2zm0 2zm1 -139zm0 7zm0 3zm0 1zm0 1zm0 1zm0 1zm0 1zm0 1zm0 1zm0 1zm0 79zm0 3zm0 2zm0 2zm0 2zm0 1zm0 2zm0 1zm0 1zm0 1zm0 2zm0 3zm0 1zm0 4zm0 4zm0 1zm0 1zm0 5zm0 4zm0 6zm0 4zm1 -143zm0 2zm0 3zm0 3zm0 1zm0 1zm0 1zm0 2zm0 1zm0 1zm0 1zm0 78zm0 1zm0 1zm0 1zm0 1zm0 1zm0 1zm0 1zm0 5zm0 1zm0 2zm0 3zm0 4zm0 3zm0 1zm0 1zm0 4zm0 2zm0 2zm0 3zm1 -133zm0 5zm0 4zm0 2zm0 2zm0 3zm0 1zm0 1zm0 79zm0 1zm0 1zm0 1zm0 1zm0 2zm0 1zm0 2zm0 2zm0 1zm0 2zm0 3zm0 1zm0 1zm0 2zm0 5zm0 3zm0 3zm0 10zm0 7zm0 9zm1 -160zm0 3zm0 6zm0 2zm0 2zm0 1zm0 1zm0 1zm0 1zm0 2zm0 1zm0 3zm0 1zm0 77zm0 2zm0 1zm0 1zm0 1zm0 1zm0 6zm0 1zm0 2zm0 1zm0 2zm0 2zm0 3zm0 5zm0 2zm0 6zm0 9zm0 13zm1 -160zm0 5zm0 2zm0 3zm0 3zm0 7zm0 1zm0 2zm0 1zm0 1zm0 1zm0 77zm0 1zm0 3zm0 1zm0 1zm0 1zm0 1zm0 1zm0 2zm0 2zm0 2zm0 1zm0 1zm0 1zm0 6zm0 2zm0 1zm0 2zm0 2zm0 1zm0 4zm0 18zm1 -156zm0 4zm0 5zm0 5zm0 4zm0 1zm0 1zm0 2zm0 2zm0 1zm0 78zm0 1zm0 1zm0 2zm0 2zm0 1zm0 1zm0 1zm0 1zm0 1zm0 2zm0 2zm0 2zm0 2zm0 3zm0 1zm0 2zm0 2zm0 7zm0 44zm1 -174zm0 1zm0 7zm0 5zm0 3zm0 2zm0 1zm0 1zm0 77zm0 1zm0 1zm0 1zm0 1zm0 1zm0 1zm0 1zm0 1zm0 2zm0 2zm0 1zm0 2zm0 5zm0 1zm0 3zm0 6zm0 2zm0 3zm0 13zm1 -144zm0 1zm0 2zm0 1zm0 3zm0 1zm0 2zm0 1zm0 1zm0 1zm0 1zm0 4zm0 79zm0 1zm0 2zm0 1zm0 1zm0 1zm0 7zm0 3zm0 1zm0 3zm0 1zm0 2zm0 4zm0 1zm0 2zm0 1zm0 5zm0 18zm1 -156zm0 2zm0 1zm0 4zm0 1zm0 1zm0 3zm0 3zm0 1zm0 3zm0 1zm0 1zm0 2zm0 1zm0 1zm0 1zm0 77zm0 3zm0 1zm0 1zm0 2zm0 1zm0 2zm0 2zm0 2zm0 1zm0 1zm0 1zm0 1zm0 1zm0 3zm0 3zm0 1zm0 2zm0 4zm0 4zm0 12zm0 23zm1 -168zm0 4zm0 1zm0 2zm0 7zm0 1zm0 2zm0 1zm0 1zm0 1zm0 77zm0 2zm0 1zm0 1zm0 1zm0 4zm0 1zm0 1zm0 1zm0 1zm0 1zm0 1zm0 1zm0 12zm0 3zm0 3zm1 -130zm0 3zm0 3zm0 3zm0 1zm0 1zm0 2zm0 3zm0 1zm0 1zm0 1zm0 2zm0 76zm0 3zm0 1zm0 1zm0 1zm0 1zm0 1zm0 1zm0 3zm0 1zm0 1zm0 3zm0 1zm0 1zm0 3zm0 1zm0 1zm0 5zm0 3zm1 -136zm0 1zm0 1zm0 3zm0 3zm0 11zm0 1zm0 2zm0 1zm0 1zm0 3zm0 1zm0 1zm0 78zm0 1zm0 1zm0 1zm0 2zm0 1zm0 1zm0 2zm0 2zm0 1zm0 6zm0 4zm0 1zm0 2zm0 1zm0 2zm0 1zm0 2zm0 3zm0 5zm0 4zm0 6zm1 -159zm0 5zm0 4zm0 3zm0 4zm0 2zm0 3zm0 5zm0 2zm0 1zm0 1zm0 1zm0 1zm0 1zm0 77zm0 1zm0 1zm0 1zm0 1zm0 1zm0 2zm0 1zm0 1zm0 1zm0 1zm0 1zm0 1zm0 2zm0 1zm0 1zm0 1zm0 3zm0 4zm0 24zm0 7zm1 -155zm0 4zm0 5zm0 4zm0 1zm0 1zm0 3zm0 1zm0 1zm0 2zm0 79zm0 1zm0 1zm0 1zm0 1zm0 2zm0 3zm0 2zm0 2zm0 2zm0 2zm0 3zm0 2zm0 1zm0 2zm0 6zm0 3zm0 28zm0 8zm1 -169zm0 4zm0 1zm0 1zm0 3zm0 1zm0 4zm0 2zm0 2zm0 1zm0 1zm0 1zm0 1zm0 77zm0 2zm0 1zm0 3zm0 2zm0 1zm0 1zm0 1zm0 1zm0 1zm0 2zm0 1zm0 1zm0 1zm0 2zm0 1zm0 3zm0 27zm1 -149zm0 5zm0 1zm0 1zm0 1zm0 1zm0 2zm0 1zm0 3zm0 1zm0 2zm0 1zm0 1zm0 1zm0 77zm0 1zm0 1zm0 2zm0 2zm0 1zm0 1zm0 1zm0 3zm0 1zm0 2zm0 2zm0 1zm0 1zm0 1zm0 4zm0 4zm0 9zm0 14zm0 5zm1 -162zm0 11zm0 10zm0 1zm0 4zm0 1zm0 2zm0 1zm0 76zm0 2zm0 1zm0 1zm0 1zm0 2zm0 3zm0 1zm0 1zm0 4zm0 1zm0 4zm0 1zm0 1zm0 4zm0 1zm0 5zm0 2zm0 1zm0 17zm1 -154zm0 2zm0 3zm0 8zm0 2zm0 2zm0 3zm0 1zm0 1zm0 1zm0 2zm0 77zm0 2zm0 1zm0 1zm0 1zm0 3zm0 2zm0 2zm0 1zm0 2zm0 1zm0 2zm0 1zm0 1zm0 3zm0 1zm0 1zm0 1zm0 2zm0 2zm0 1zm0 1zm0 1zm0 2zm0 8zm0 2zm1 -147zm0 1zm0 3zm0 1zm0 2zm0 4zm0 1zm0 1zm0 5zm0 2zm0 3zm0 1zm0 4zm0 75zm0 2zm0 3zm0 1zm0 2zm0 2zm0 1zm0 2zm0 3zm0 4zm0 1zm0 1zm0 2zm0 2zm0 1zm0 1zm0 1zm0 5zm0 1zm0 2zm0 14zm1 -160zm0 7zm0 1zm0 7zm0 1zm0 1zm0 4zm0 1zm0 3zm0 2zm0 1zm0 1zm0 1zm0 3zm0 1zm0 76zm0 1zm0 2zm0 1zm0 2zm0 1zm0 1zm0 1zm0 1zm0 1zm0 1zm0 1zm0 1zm0 1zm0 5zm0 2zm0 3zm0 1zm0 4zm0 9zm0 1zm0 1zm1 -147zm0 4zm0 12zm0 4zm0 2zm0 2zm0 4zm0 1zm0 2zm0 1zm0 75zm0 2zm0 1zm0 1zm0 1zm0 1zm0 2zm0 1zm0 1zm0 1zm0 2zm0 2zm0 1zm0 1zm0 1zm0 1zm0 2zm0 2zm0 1zm0 9zm0 6zm0 4zm0 3zm1 -151zm0 10zm0 4zm0 3zm0 4zm0 3zm0 1zm0 1zm0 3zm0 2zm0 74zm0 3zm0 1zm0 3zm0 1zm0 1zm0 1zm0 1zm0 1zm0 1zm0 2zm0 1zm0 4zm0 8zm0 4zm0 5zm0 1zm0 1zm1 -134zm0 5zm0 2zm0 1zm0 2zm0 1zm0 3zm0 3zm0 1zm0 1zm0 1zm0 1zm0 1zm0 74zm0 1zm0 1zm0 1zm0 1zm0 2zm0 1zm0 1zm0 1zm0 1zm0 4zm0 2zm0 2zm0 1zm0 2zm0 1zm0 1zm0 2zm0 4zm0 8zm0 8zm0 3zm1 -144zm0 3zm0 1zm0 3zm0 2zm0 1zm0 1zm0 2zm0 4zm0 1zm0 3zm0 1zm0 1zm0 74zm0 1zm0 2zm0 1zm0 2zm0 1zm0 1zm0 1zm0 1zm0 1zm0 2zm0 2zm0 6zm0 2zm0 3zm0 4zm0 24zm1 -170zm0 2zm0 12zm0 6zm0 7zm0 2zm0 1zm0 2zm0 1zm0 2zm0 1zm0 3zm0 1zm0 1zm0 75zm0 1zm0 2zm0 2zm0 1zm0 2zm0 2zm0 1zm0 1zm0 1zm0 1zm0 1zm0 4zm0 2zm0 1zm0 3zm0 1zm0 12zm0 1zm0 36zm1 -179zm0 3zm0 8zm0 4zm0 3zm0 4zm0 2zm0 1zm0 1zm0 2zm0 1zm0 2zm0 1zm0 73zm0 1zm0 2zm0 1zm0 2zm0 1zm0 1zm0 1zm0 1zm0 1zm0 2zm0 1zm0 1zm0 2zm0 1zm0 4zm0 7zm0 4zm0 3zm1 -152zm0 9zm0 2zm0 1zm0 4zm0 8zm0 4zm0 1zm0 3zm0 1zm0 2zm0 2zm0 2zm0 1zm0 1zm0 2zm0 1zm0 73zm0 2zm0 1zm0 1zm0 2zm0 1zm0 2zm0 1zm0 2zm0 2zm0 1zm0 2zm0 1zm0 9zm0 2zm0 2zm0 7zm1 -149zm0 1zm0 7zm0 1zm0 1zm0 4zm0 1zm0 1zm0 2zm0 6zm0 2zm0 2zm0 9zm0 1zm0 1zm0 75zm0 2zm0 3zm0 2zm0 3zm0 2zm0 2zm0 2zm0 2zm0 3zm0 2zm0 9zm0 16zm0 9zm1 -166zm0 2zm0 2zm0 4zm0 6zm0 3zm0 10zm0 1zm0 2zm0 1zm0 1zm0 1zm0 1zm0 1zm0 72zm0 1zm0 2zm0 1zm0 1zm0 3zm0 1zm0 2zm0 3zm0 8zm0 1zm0 8zm0 2zm0 2zm0 1zm0 14zm1 -152zm0 5zm0 1zm0 4zm0 1zm0 1zm0 1zm0 4zm0 1zm0 1zm0 1zm0 1zm0 2zm0 3zm0 1zm0 2zm0 2zm0 72zm0 1zm0 2zm0 1zm0 4zm0 2zm0 1zm0 2zm0 1zm0 1zm0 1zm0 5zm0 1zm0 1zm0 5zm0 5zm0 10zm0 3zm1 -159zm0 2zm0 17zm0 12zm0 1zm0 1zm0 1zm0 1zm0 1zm0 1zm0 1zm0 1zm0 3zm0 73zm0 1zm0 1zm0 1zm0 1zm0 2zm0 1zm0 1zm0 1zm0 4zm0 1zm0 1zm0 3zm0 4zm0 1zm0 5zm0 2zm0 1zm0 8zm0 5zm1 -156zm0 2zm0 6zm0 3zm0 6zm0 1zm0 1zm0 12zm0 2zm0 1zm0 4zm0 2zm0 72zm0 1zm0 1zm0 4zm0 2zm0 1zm0 1zm0 1zm0 1zm0 1zm0 1zm0 1zm0 5zm0 1zm0 2zm1 -139zm0 2zm0 20zm0 1zm0 2zm0 2zm0 1zm0 1zm0 2zm0 1zm0 1zm0 4zm0 2zm0 2zm0 1zm0 1zm0 1zm0 1zm0 71zm0 1zm0 4zm0 3zm0 1zm0 1zm0 1zm0 2zm0 5zm0 7zm0 13zm0 13zm1 -144zm0 2zm0 5zm0 4zm0 1zm0 1zm0 2zm0 3zm0 2zm0 1zm0 1zm0 1zm0 71zm0 1zm0 1zm0 1zm0 1zm0 1zm0 2zm0 3zm0 3zm0 1zm0 3zm0 1zm0 4zm0 4zm0 6zm1 -146zm0 10zm0 14zm0 6zm0 6zm0 3zm0 2zm0 1zm0 1zm0 1zm0 71zm0 1zm0 1zm0 1zm0 1zm0 2zm0 1zm0 1zm0 1zm0 1zm0 1zm0 2zm0 5zm0 1zm0 1zm0 5zm0 1zm0 1zm0 29zm1 -163zm0 3zm0 8zm0 2zm0 3zm0 2zm0 2zm0 3zm0 1zm0 3zm0 6zm0 1zm0 2zm0 72zm0 1zm0 2zm0 1zm0 1zm0 1zm0 1zm0 1zm0 2zm0 2zm0 2zm0 4zm0 2zm0 1zm0 4zm0 2zm0 1zm0 1zm0 9zm1 -129zm0 1zm0 7zm0 1zm0 2zm0 1zm0 1zm0 2zm0 2zm0 1zm0 1zm0 1zm0 1zm0 70zm0 1zm0 1zm0 1zm0 1zm0 1zm0 5zm0 3zm0 1zm0 3zm0 1zm0 3zm0 13zm0 6zm0 9zm1 -168zm0 13zm0 3zm0 5zm0 3zm0 7zm0 4zm0 1zm0 1zm0 1zm0 3zm0 1zm0 3zm0 1zm0 1zm0 2zm0 1zm0 70zm0 1zm0 1zm0 1zm0 2zm0 1zm0 1zm0 1zm0 6zm0 1zm0 1zm0 1zm0 2zm0 5zm0 1zm0 13zm0 9zm1 -167zm0 19zm0 14zm0 5zm0 2zm0 1zm0 1zm0 1zm0 1zm0 1zm0 1zm0 1zm0 1zm0 1zm0 2zm0 70zm0 1zm0 1zm0 1zm0 1zm0 1zm0 1zm0 1zm0 1zm0 1zm0 6zm0 2zm0 1zm0 2zm0 1zm0 15zm0 24zm0 5zm1 -174zm0 12zm0 1zm0 2zm0 2zm0 4zm0 5zm0 1zm0 2zm0 2zm0 2zm0 1zm0 3zm0 1zm0 1zm0 1zm0 70zm0 2zm0 1zm0 1zm0 2zm0 1zm0 1zm0 1zm0 2zm0 1zm0 1zm0 5zm0 3zm0 1zm0 2zm0 6zm0 1zm0 17zm0 3zm0 1zm0 5zm1 -162zm0 2zm0 4zm0 8zm0 9zm0 1zm0 2zm0 4zm0 1zm0 2zm0 1zm0 2zm0 70zm0 1zm0 2zm0 1zm0 3zm0 3zm0 4zm0 3zm0 5zm0 3zm0 2zm1 -157zm0 18zm0 8zm0 3zm0 1zm0 3zm0 8zm0 2zm0 1zm0 1zm0 9zm0 1zm0 2zm0 1zm0 1zm0 1zm0 2zm0 68zm0 2zm0 3zm0 2zm0 2zm0 2zm0 1zm0 1zm0 2zm0 3zm0 1zm0 2zm0 9zm0 2zm0 1zm0 7zm0 4zm1 -142zm0 5zm0 2zm0 1zm0 3zm0 6zm0 2zm0 1zm0 1zm0 1zm0 1zm0 2zm0 2zm0 1zm0 2zm0 1zm0 68zm0 1zm0 1zm0 2zm0 1zm0 1zm0 2zm0 1zm0 2zm0 5zm0 1zm0 1zm0 1zm0 1zm0 3zm0 3zm0 9zm1 -159zm0 21zm0 6zm0 5zm0 5zm0 1zm0 4zm0 2zm0 2zm0 2zm0 3zm0 1zm0 1zm0 4zm0 70zm0 1zm0 2zm0 3zm0 3zm0 2zm0 4zm0 4zm0 3zm0 10zm1 -161zm0 14zm0 7zm0 13zm0 3zm0 10zm0 2zm0 1zm0 1zm0 1zm0 1zm0 1zm0 1zm0 2zm0 1zm0 1zm0 1zm0 67zm0 1zm0 1zm0 1zm0 2zm0 2zm0 1zm0 1zm0 1zm0 1zm0 2zm0 3zm0 1zm0 1zm0 1zm0 1zm0 1zm0 3zm0 7zm0 9zm0 7zm0 3zm1 -145zm0 5zm0 1zm0 2zm0 3zm0 6zm0 1zm0 2zm0 1zm0 1zm0 3zm0 3zm0 1zm0 67zm0 1zm0 1zm0 1zm0 1zm0 1zm0 1zm0 1zm0 2zm0 1zm0 4zm0 2zm0 1zm0 1zm0 3zm0 6zm1 -160zm0 16zm0 8zm0 6zm0 16zm0 1zm0 4zm0 5zm0 1zm0 2zm0 2zm0 1zm0 2zm0 1zm0 2zm0 1zm0 66zm0 2zm0 1zm0 1zm0 1zm0 1zm0 1zm0 1zm0 1zm0 3zm0 2zm0 10zm0 1zm0 30zm1 -180zm0 25zm0 5zm0 6zm0 1zm0 8zm0 1zm0 4zm0 2zm0 1zm0 1zm0 2zm0 1zm0 1zm0 1zm0 67zm0 2zm0 1zm0 1zm0 3zm0 1zm0 1zm0 2zm0 1zm0 5zm0 5zm0 1zm0 2zm0 3zm0 11zm0 3zm1 -147zm0 3zm0 17zm0 11zm0 6zm0 1zm0 67zm0 2zm0 1zm0 3zm0 2zm0 2zm0 2zm0 3zm0 5zm0 1zm0 5zm0 1zm0 6zm0 6zm0 8zm1 -141zm0 8zm0 3zm0 1zm0 3zm0 2zm0 2zm0 1zm0 2zm0 1zm0 1zm0 1zm0 2zm0 1zm0 1zm0 1zm0 1zm0 64zm0 1zm0 1zm0 1zm0 1zm0 1zm0 2zm0 1zm0 4zm0 2zm0 1zm0 2zm0 1zm0 1zm0 3zm0 2zm0 1zm0 5zm0 17zm1 -177zm0 14zm0 12zm0 2zm0 23zm0 1zm0 2zm0 1zm0 1zm0 4zm0 2zm0 1zm0 1zm0 1zm0 2zm0 66zm0 1zm0 1zm0 2zm0 1zm0 3zm0 1zm0 1zm0 5zm0 2zm0 4zm0 2zm0 1zm0 1zm0 1zm0 2zm1 -123zm0 1zm0 8zm0 3zm0 8zm0 4zm0 3zm0 1zm0 1zm0 64zm0 1zm0 2zm0 1zm0 1zm0 1zm0 1zm0 1zm0 1zm0 1zm0 2zm0 3zm0 1zm0 1zm0 3zm0 5zm0 2zm0 1zm0 1zm1 -138zm0 8zm0 10zm0 2zm0 3zm0 4zm0 2zm0 8zm0 1zm0 4zm0 1zm0 2zm0 1zm0 1zm0 64zm0 2zm0 1zm0 1zm0 1zm0 1zm0 1zm0 1zm0 1zm0 6zm0 5zm0 1zm0 1zm0 1zm0 9zm0 9zm1 -161zm0 29zm0 14zm0 4zm0 2zm0 1zm0 3zm0 1zm0 2zm0 1zm0 63zm0 1zm0 1zm0 1zm0 4zm0 1zm0 1zm0 3zm0 1zm0 3zm0 5zm0 1zm0 8zm1 -136zm0 4zm0 1zm0 3zm0 3zm0 1zm0 13zm0 1zm0 1zm0 1zm0 1zm0 4zm0 1zm0 1zm0 1zm0 1zm0 4zm0 1zm0 1zm0 1zm0 63zm0 1zm0 1zm0 1zm0 1zm0 3zm0 1zm0 1zm0 2zm0 2zm0 2zm0 1zm0 1zm0 1zm0 4zm0 1zm0 2zm0 13zm0 9zm1 -176zm0 18zm0 3zm0 13zm0 8zm0 1zm0 1zm0 2zm0 1zm0 2zm0 4zm0 3zm0 3zm0 1zm0 1zm0 3zm0 1zm0 1zm0 1zm0 1zm0 63zm0 1zm0 2zm0 1zm0 1zm0 6zm0 2zm0 2zm0 1zm0 3zm0 1zm0 1zm0 2zm0 1zm0 1zm0 2zm0 4zm1 -122zm0 9zm0 1zm0 3zm0 1zm0 2zm0 1zm0 1zm0 3zm0 5zm0 1zm0 1zm0 1zm0 61zm0 1zm0 2zm0 1zm0 1zm0 1zm0 1zm0 3zm0 1zm0 1zm0 1zm0 1zm0 4zm0 4zm0 3zm0 5zm0 2zm0 16zm1 -180zm0 34zm0 3zm0 11zm0 6zm0 5zm0 2zm0 2zm0 2zm0 6zm0 1zm0 1zm0 63zm0 3zm0 1zm0 3zm0 3zm0 1zm0 5zm0 3zm0 1zm0 5zm0 1zm0 3zm1 -119zm0 3zm0 4zm0 6zm0 3zm0 1zm0 4zm0 3zm0 3zm0 1zm0 59zm0 1zm0 3zm0 1zm0 1zm0 1zm0 1zm0 1zm0 2zm0 1zm0 2zm0 3zm0 2zm0 2zm0 9zm0 3zm0 8zm1 -145zm0 12zm0 2zm0 16zm0 6zm0 1zm0 3zm0 2zm0 2zm0 1zm0 60zm0 1zm0 1zm0 1zm0 1zm0 1zm0 2zm0 1zm0 1zm0 4zm0 2zm0 5zm0 1zm0 2zm0 6zm0 15zm1 -159zm0 10zm0 13zm0 3zm0 4zm0 2zm0 1zm0 3zm0 2zm0 3zm0 2zm0 2zm0 3zm0 1zm0 1zm0 3zm0 1zm0 1zm0 1zm0 1zm0 61zm0 1zm0 1zm0 1zm0 2zm0 1zm0 1zm0 2zm0 2zm0 1zm0 1zm0 4zm0 2zm0 10zm1 -127zm0 4zm0 4zm0 5zm0 6zm0 5zm0 3zm0 2zm0 2zm0 1zm0 4zm0 1zm0 1zm0 1zm0 58zm0 1zm0 2zm0 1zm0 2zm0 1zm0 1zm0 1zm0 1zm0 1zm0 1zm0 5zm0 2zm0 3zm0 1zm0 9zm1 -170zm0 5zm0 7zm0 41zm0 1zm0 2zm0 6zm0 5zm0 1zm0 1zm0 4zm0 1zm0 2zm0 2zm0 1zm0 1zm0 1zm0 57zm0 1zm0 1zm0 1zm0 1zm0 1zm0 2zm0 1zm0 3zm0 1zm0 1zm0 1zm0 1zm0 2zm0 1zm0 2zm0 3zm0 11zm0 1zm0 7zm1 -145zm0 8zm0 6zm0 2zm0 11zm0 4zm0 8zm0 1zm0 2zm0 2zm0 3zm0 57zm0 1zm0 2zm0 1zm0 1zm0 4zm0 2zm0 1zm0 1zm0 1zm0 2zm0 1zm0 3zm0 6zm1 -134zm0 1zm0 3zm0 17zm0 3zm0 1zm0 1zm0 7zm0 1zm0 5zm0 2zm0 5zm0 1zm0 2zm0 1zm0 1zm0 60zm0 2zm0 1zm0 3zm0 2zm0 3zm0 2zm0 1zm0 2zm0 5zm0 4zm0 8zm1 -137zm0 3zm0 19zm0 1zm0 2zm0 2zm0 3zm0 2zm0 2zm0 2zm0 1zm0 1zm0 3zm0 1zm0 2zm0 1zm0 58zm0 1zm0 2zm0 1zm0 2zm0 1zm0 1zm0 2zm0 1zm0 3zm0 4zm0 2zm0 4zm0 3zm1 -127zm0 1zm0 6zm0 16zm0 6zm0 3zm0 1zm0 6zm0 2zm0 1zm0 1zm0 1zm0 1zm0 55zm0 1zm0 2zm0 1zm0 2zm0 1zm0 2zm0 1zm0 1zm0 1zm0 2zm0 1zm0 4zm0 8zm0 1zm1 -134zm0 19zm0 1zm0 2zm0 8zm0 2zm0 1zm0 2zm0 1zm0 2zm0 2zm0 1zm0 4zm0 1zm0 1zm0 1zm0 2zm0 1zm0 1zm0 57zm0 4zm0 2zm0 2zm0 2zm0 1zm0 1zm0 4zm0 3zm0 8zm1 -135zm0 15zm0 3zm0 1zm0 5zm0 3zm0 2zm0 2zm0 2zm0 5zm0 3zm0 2zm0 2zm0 2zm0 1zm0 3zm0 1zm0 55zm0 1zm0 2zm0 1zm0 2zm0 1zm0 1zm0 1zm0 2zm0 2zm0 4zm0 15zm0 5zm1 -147zm0 10zm0 16zm0 1zm0 5zm0 4zm0 7zm0 1zm0 5zm0 1zm0 1zm0 1zm0 1zm0 2zm0 1zm0 1zm0 54zm0 3zm0 1zm0 4zm0 1zm0 3zm0 3zm0 1zm0 1zm0 6zm0 4zm0 3zm0 9zm1 -142zm0 6zm0 13zm0 6zm0 1zm0 1zm0 3zm0 5zm0 2zm0 6zm0 1zm0 2zm0 3zm0 54zm0 1zm0 1zm0 1zm0 1zm0 1zm0 3zm0 3zm0 2zm0 1zm0 1zm0 2zm0 3zm1 -112zm0 6zm0 6zm0 3zm0 5zm0 1zm0 1zm0 3zm0 1zm0 3zm0 1zm0 3zm0 2zm0 2zm0 2zm0 57zm0 1zm0 1zm0 1zm0 1zm0 2zm0 2zm0 4zm0 4zm0 23zm1 -111zm0 3zm0 1zm0 1zm0 4zm0 5zm0 3zm0 1zm0 52zm0 1zm0 2zm0 1zm0 1zm0 2zm0 3zm0 2zm0 5zm0 3zm0 12zm0 1zm1 -130zm0 11zm0 3zm0 6zm0 3zm0 4zm0 1zm0 2zm0 1zm0 6zm0 4zm0 2zm0 3zm0 52zm0 2zm0 1zm0 3zm0 1zm0 1zm0 1zm0 4zm0 5zm0 13zm1 -144zm0 15zm0 4zm0 1zm0 15zm0 5zm0 7zm0 5zm0 1zm0 1zm0 1zm0 1zm0 2zm0 2zm0 1zm0 1zm0 51zm0 1zm0 1zm0 1zm0 3zm0 1zm0 1zm0 1zm0 1zm0 2zm0 3zm0 2zm0 4zm1 -114zm0 8zm0 10zm0 12zm0 1zm0 2zm0 1zm0 4zm0 5zm0 1zm0 50zm0 3zm0 2zm0 2zm0 1zm0 2zm0 1zm0 1zm0 3zm0 1zm0 1zm0 3zm0 2zm0 4zm1 -122zm0 4zm0 14zm0 1zm0 5zm0 1zm0 5zm0 6zm0 3zm0 1zm0 2zm0 4zm0 51zm0 1zm0 1zm0 1zm0 3zm0 2zm0 1zm0 1zm0 2zm0 1zm0 2zm0 4zm0 5zm1 -156zm0 2zm0 2zm0 11zm0 16zm0 2zm0 7zm0 8zm0 2zm0 3zm0 6zm0 6zm0 1zm0 1zm0 2zm0 1zm0 1zm0 2zm0 2zm0 4zm0 3zm0 1zm0 50zm0 2zm0 5zm0 1zm0 1zm0 3zm0 1zm0 1zm0 3zm0 1zm0 1zm0 4zm1 -124zm0 10zm0 9zm0 4zm0 4zm0 6zm0 2zm0 1zm0 1zm0 3zm0 1zm0 3zm0 2zm0 2zm0 1zm0 52zm0 1zm0 1zm0 1zm0 1zm0 2zm0 1zm0 2zm0 2zm0 1zm0 1zm0 7zm0 1zm0 7zm0 11zm1 -167zm0 12zm0 2zm0 6zm0 30zm0 9zm0 1zm0 2zm0 1zm0 2zm0 2zm0 1zm0 1zm0 2zm0 1zm0 1zm0 1zm0 1zm0 6zm0 48zm0 1zm0 2zm0 4zm0 1zm0 2zm0 1zm0 3zm0 1zm0 2zm0 5zm0 1zm1 -116zm0 1zm0 8zm0 2zm0 3zm0 2zm0 1zm0 2zm0 1zm0 2zm0 2zm0 2zm0 2zm0 4zm0 3zm0 2zm0 3zm0 3zm0 1zm0 1zm0 1zm0 49zm0 4zm0 1zm0 1zm0 1zm0 1zm0 1zm0 2zm0 1zm0 1zm0 1zm0 1zm1 -132zm0 23zm0 7zm0 3zm0 6zm0 8zm0 2zm0 4zm0 1zm0 4zm0 2zm0 1zm0 1zm0 3zm0 1zm0 2zm0 1zm0 1zm0 47zm0 1zm0 3zm0 1zm0 1zm0 1zm0 1zm0 5zm0 1zm0 1zm0 2zm0 5zm0 6zm1 -119zm0 18zm0 8zm0 2zm0 1zm0 2zm0 2zm0 1zm0 3zm0 1zm0 1zm0 4zm0 1zm0 1zm0 46zm0 1zm0 1zm0 2zm0 1zm0 4zm0 1zm0 2zm0 1zm0 3zm0 5zm1 -122zm0 16zm0 7zm0 1zm0 10zm0 10zm0 5zm0 3zm0 4zm0 46zm0 2zm0 1zm0 3zm0 1zm0 1zm0 1zm0 2zm0 6zm0 1zm0 2zm1 -102zm0 5zm0 8zm0 4zm0 3zm0 4zm0 6zm0 4zm0 1zm0 1zm0 1zm0 1zm0 45zm0 1zm0 1zm0 1zm0 1zm0 1zm0 1zm0 1zm0 1zm0 1zm0 1zm0 10zm1 -146zm0 64zm0 3zm0 1zm0 6zm0 3zm0 1zm0 1zm0 1zm0 2zm0 47zm0 1zm0 2zm0 3zm0 5zm0 2zm0 3zm0 7zm1 -123zm0 8zm0 28zm0 1zm0 4zm0 1zm0 1zm0 3zm0 2zm0 4zm0 2zm0 45zm0 1zm0 1zm0 1zm0 1zm0 2zm0 1zm0 1zm0 1zm0 3zm0 1zm0 1zm0 1zm0 1zm0 2zm0 7zm0 1zm1 -149zm0 27zm0 15zm0 1zm0 2zm0 15zm0 6zm0 1zm0 1zm0 1zm0 3zm0 1zm0 1zm0 1zm0 1zm0 2zm0 45zm0 1zm0 1zm0 1zm0 1zm0 1zm0 1zm0 3zm0 1zm0 11zm1 -108zm0 14zm0 5zm0 3zm0 3zm0 3zm0 2zm0 1zm0 4zm0 2zm0 1zm0 1zm0 1zm0 1zm0 1zm0 1zm0 1zm0 1zm0 44zm0 1zm0 1zm0 1zm0 1zm0 1zm0 1zm0 1zm0 1zm0 1zm0 3zm0 2zm1 -116zm0 27zm0 12zm0 3zm0 4zm0 2zm0 1zm0 3zm0 1zm0 1zm0 1zm0 2zm0 1zm0 44zm0 1zm0 1zm0 1zm0 2zm0 2zm0 1zm0 1zm0 1zm0 1zm0 1zm0 2zm0 1zm0 4zm0 2zm0 1zm1 -121zm0 2zm0 11zm0 12zm0 9zm0 3zm0 5zm0 1zm0 5zm0 1zm0 3zm0 2zm0 2zm0 44zm0 1zm0 1zm0 3zm0 5zm0 1zm0 2zm0 19zm1 -139zm0 17zm0 2zm0 15zm0 1zm0 6zm0 5zm0 4zm0 1zm0 3zm0 1zm0 4zm0 5zm0 1zm0 1zm0 41zm0 2zm0 1zm0 3zm0 3zm0 2zm0 2zm0 3zm1 -108zm0 7zm0 6zm0 19zm0 1zm0 1zm0 3zm0 3zm0 1zm0 3zm0 1zm0 1zm0 2zm0 1zm0 2zm0 42zm0 1zm0 2zm0 1zm0 1zm0 2zm0 1zm0 1zm0 1zm0 4zm0 2zm1 -127zm0 12zm0 13zm0 11zm0 5zm0 12zm0 5zm0 3zm0 2zm0 1zm0 3zm0 1zm0 1zm0 2zm0 41zm0 2zm0 1zm0 1zm0 1zm0 1zm0 3zm0 3zm0 1zm0 1zm0 1zm0 1zm0 4zm1 -110zm0 12zm0 2zm0 2zm0 15zm0 1zm0 4zm0 2zm0 3zm0 1zm0 1zm0 1zm0 1zm0 1zm0 1zm0 1zm0 2zm0 41zm0 2zm0 1zm0 1zm0 1zm0 2zm0 2zm0 4zm0 6zm0 2zm0 14zm1 -144zm0 3zm0 2zm0 17zm0 2zm0 6zm0 12zm0 2zm0 4zm0 10zm0 4zm0 1zm0 2zm0 1zm0 2zm0 1zm0 40zm0 1zm0 1zm0 2zm0 1zm0 2zm0 6zm0 3zm1 -68zm0 1zm0 1zm0 2zm0 1zm0 3zm0 1zm0 1zm0 1zm0 1zm0 1zm0 1zm0 40zm0 4zm0 3zm0 3zm0 2zm0 7zm1 -92zm0 1zm0 5zm0 3zm0 2zm0 9zm0 2zm0 1zm0 1zm0 2zm0 2zm0 2zm0 1zm0 1zm0 1zm0 1zm0 39zm0 2zm0 1zm0 3zm0 1zm0 2zm0 2zm0 5zm0 1zm0 2zm0 3zm1 -151zm0 7zm0 19zm0 11zm0 29zm0 7zm0 5zm0 1zm0 2zm0 1zm0 3zm0 1zm0 1zm0 1zm0 1zm0 1zm0 39zm0 1zm0 1zm0 2zm0 1zm0 2zm0 1zm0 1zm0 3zm0 3zm0 1zm0 5zm1 -102zm0 6zm0 1zm0 5zm0 4zm0 10zm0 1zm0 2zm0 2zm0 1zm0 1zm0 1zm0 1zm0 1zm0 6zm0 2zm0 1zm0 37zm0 1zm0 2zm0 1zm0 1zm0 1zm0 2zm0 1zm0 1zm0 2zm0 1zm0 3zm1 -130zm0 43zm0 8zm0 1zm0 3zm0 2zm0 3zm0 3zm0 2zm0 5zm0 2zm0 1zm0 1zm0 1zm0 1zm0 1zm0 1zm0 37zm0 5zm0 1zm0 1zm0 3zm0 6zm1 -95zm0 17zm0 1zm0 12zm0 4zm0 1zm0 3zm0 4zm0 1zm0 39zm0 2zm0 2zm0 4zm0 5zm1 -104zm0 2zm0 28zm0 4zm0 7zm0 1zm0 2zm0 1zm0 2zm0 5zm0 1zm0 36zm0 4zm0 1zm0 1zm0 1zm0 1zm0 1zm0 1zm0 3zm0 1zm0 12zm1 -110zm0 4zm0 4zm0 16zm0 4zm0 8zm0 1zm0 4zm0 2zm0 1zm0 3zm0 1zm0 1zm0 37zm0 1zm0 2zm0 3zm0 12zm0 1zm1 -121zm0 4zm0 45zm0 1zm0 10zm0 1zm0 2zm0 4zm0 35zm0 2zm0 1zm0 4zm0 2zm0 4zm1 -67zm0 7zm0 1zm0 1zm0 10zm0 1zm0 36zm0 1zm0 1zm0 1zm0 2zm0 1zm0 1zm0 3zm1 -85zm0 8zm0 1zm0 13zm0 1zm0 3zm0 2zm0 8zm0 2zm0 1zm0 1zm0 1zm0 34zm0 1zm0 3zm0 10zm1 -117zm0 15zm0 14zm0 11zm0 3zm0 1zm0 2zm0 4zm0 2zm0 1zm0 1zm0 5zm0 4zm0 1zm0 2zm0 2zm0 1zm0 36zm0 2zm0 1zm0 1zm0 1zm0 4zm0 8zm1 -89zm0 16zm0 1zm0 3zm0 2zm0 11zm0 1zm0 1zm0 2zm0 2zm0 32zm0 2zm0 5zm0 2zm0 1zm0 2zm1 -92zm0 12zm0 4zm0 8zm0 10zm0 14zm0 1zm0 1zm0 30zm0 1zm0 2zm0 1zm0 3zm0 1zm0 3zm0 4zm1 -128zm0 16zm0 30zm0 14zm0 4zm0 10zm0 1zm0 3zm0 1zm0 1zm0 1zm0 2zm0 1zm0 31zm0 1zm0 1zm0 1zm0 1zm0 1zm0 4zm0 3zm0 4zm0 3zm1 -121zm0 35zm0 4zm0 6zm0 7zm0 6zm0 3zm0 1zm0 2zm0 3zm0 1zm0 2zm0 1zm0 2zm0 29zm0 1zm0 2zm0 1zm0 3zm0 2zm0 3zm1 -61zm0 3zm0 1zm0 5zm0 2zm0 2zm0 2zm0 3zm0 1zm0 1zm0 30zm0 1zm0 2zm0 1zm0 1zm0 10zm1 -125zm0 35zm0 6zm0 7zm0 1zm0 4zm0 5zm0 1zm0 3zm0 2zm0 7zm0 7zm0 1zm0 2zm0 2zm0 28zm0 3zm0 1zm0 1zm0 1zm0 3zm0 1zm0 16zm1 -99zm0 13zm0 7zm0 4zm0 5zm0 8zm0 5zm0 1zm0 1zm0 1zm0 31zm0 5zm0 4zm1 -98zm0 41zm0 5zm0 3zm0 1zm0 3zm0 2zm0 1zm0 1zm0 1zm0 1zm0 1zm0 1zm0 26zm0 1zm0 1zm0 1zm0 1zm0 3zm0 1zm1 -89zm0 7zm0 26zm0 5zm0 2zm0 5zm0 5zm0 3zm0 1zm0 2zm0 26zm0 1zm0 1zm0 3zm1 -69zm0 16zm0 6zm0 2zm0 1zm0 3zm0 2zm0 6zm0 1zm0 2zm0 1zm0 24zm0 1zm0 1zm0 1zm0 5zm0 1zm1 -76zm0 10zm0 2zm0 4zm0 2zm0 9zm0 7zm0 2zm0 2zm0 1zm0 4zm0 1zm0 25zm0 2zm0 1zm0 3zm0 3zm1 -61zm0 6zm0 3zm0 2zm0 3zm0 1zm0 1zm0 4zm0 3zm0 1zm0 3zm0 2zm0 23zm0 1zm0 1zm0 9zm1 -96zm0 46zm0 3zm0 2zm0 2zm0 2zm0 1zm0 6zm0 1zm0 23zm0 1zm0 1zm0 3zm0 9zm1 -65zm0 1zm0 12zm0 3zm0 4zm0 3zm0 2zm0 1zm0 1zm0 3zm0 22zm0 3zm0 9zm1 -57zm0 2zm0 3zm0 5zm0 1zm0 1zm0 5zm0 1zm0 1zm0 2zm0 2zm0 22zm0 1zm0 1zm0 1zm0 1zm1 -35zm0 3zm0 2zm0 1zm0 1zm0 1zm0 1zm0 2zm0 1zm0 20zm0 2zm0 1zm0 3zm0 1zm1 -40zm0 1zm0 3zm0 1zm0 1zm0 1zm0 3zm0 1zm0 1zm0 1zm0 21zm0 2zm0 1zm0 5zm0 5zm1 -61zm0 2zm0 4zm0 4zm0 8zm0 5zm0 3zm0 1zm0 1zm0 1zm0 20zm0 1zm0 2zm0 1zm0 5zm1 -57zm0 10zm0 1zm0 14zm0 1zm0 3zm0 1zm0 18zm0 1zm0 7zm0 7zm1 -55zm0 12zm0 1zm0 4zm0 1zm0 2zm0 1zm0 1zm0 1zm0 1zm0 17zm0 1zm0 3zm1 -54zm0 6zm0 11zm0 11zm0 1zm0 2zm0 1zm0 2zm0 17zm1 -33zm0 2zm0 2zm0 1zm0 1zm0 2zm0 1zm0 3zm0 4zm0 1zm0 1zm0 17zm0 1zm0 2zm1 -38zm0 13zm0 1zm0 2zm0 1zm0 1zm0 2zm0 14zm0 1zm1 -46zm0 19zm0 7zm0 4zm0 1zm0 1zm0 14zm0 1zm0 2zm1 -27zm0 2zm0 3zm0 1zm0 4zm0 1zm0 14zm0 1zm0 1zm1 -22zm0 5zm0 1zm0 2zm0 14zm0 4zm1 -31zm0 3zm0 8zm0 1zm0 2zm0 12zm0 1zm0 2zm1 -26zm0 5zm0 3zm0 1zm0 1zm0 2zm0 12zm0 2zm0 1zm0 1zm0 1zm0 3zm0 1zm1 -38zm0 13zm0 3zm0 2zm0 1zm0 12zm0 3zm1 -17zm0 1zm0 1zm0 1zm0 11zm0 2zm0 2zm1 -25zm0 8zm0 1zm0 12zm0 1zm0 2zm1 -21zm0 2zm0 1zm0 1zm0 4zm0 1zm1 -6zm0 7zm0 10zm0 1zm0 2zm1 -18zm0 3zm0 3zm0 1zm0 10zm1 -16zm0 1zm0 14zm0 2zm0 4zm1 -13zm0 8zm0 1zm0 2zm0 2zm1 -19zm0 6zm0 10zm1 -19zm0 5zm0 4zm0 2zm0 7zm0 2zm1 -16zm0 8zm0 7zm0 1zm0 3zm1 -13zm0 3zm0 1zm0 7zm0 1zm1 -9zm0 1zm0 7zm0 2zm1 -12zm0 5zm0 6zm0 2zm1 -12zm0 3zm0 2zm0 5zm0 1zm2 -8zm0 2zm0 1zm0 6zm0 2zm1 -7zm0 5zm0 4zm1 -7zm0 4zm0 2zm1 -2zm0 1zm1 -5zm0 1zm0 4zm0 2zm1 -5zm0 4zm1 -1zm0 2zm2 -1zm0 1zm1 2zm1 1zm1 1z" stroke="#2222f5" stroke-width="1.05" stroke-linecap="square" vector-effect="non-scaling-stroke" fill="none"/>
</g>
<rect x="255.1" y="9.8" width="176.8" height="185.5" fill="none" stroke="#9a9a9a" stroke-width="0.85"/>
<path d="M255.1 195.3v-1.8M255.1 9.8v1.8M255.1 195.3h1.8M431.9 195.3h-1.8M289.1 195.3v-1.8M289.1 9.8v1.8M255.1 159.6h1.8M431.9 159.6h-1.8M323.1 195.3v-1.8M323.1 9.8v1.8M255.1 124h1.8M431.9 124h-1.8M357.1 195.3v-1.8M357.1 9.8v1.8M255.1 88.3h1.8M431.9 88.3h-1.8M391.1 195.3v-1.8M391.1 9.8v1.8M255.1 52.6h1.8M431.9 52.6h-1.8M425.1 195.3v-1.8M425.1 9.8v1.8M255.1 16.9h1.8M431.9 16.9h-1.8" stroke="#777" stroke-width="0.8" fill="none"/>
<g font-family="'Liberation Sans', Arial, sans-serif" font-size="7.3" fill="#4a4a4a">
<text x="254.8" y="206.3" text-anchor="middle" textLength="3.1" lengthAdjust="spacingAndGlyphs">0</text>
<text x="253.2" y="198.6" text-anchor="end" textLength="3.1" lengthAdjust="spacingAndGlyphs">0</text>
<text x="288.8" y="206.3" text-anchor="middle" textLength="6.1" lengthAdjust="spacingAndGlyphs">50</text>
<text x="253.2" y="162.9" text-anchor="end" textLength="6.1" lengthAdjust="spacingAndGlyphs">50</text>
<text x="322.8" y="206.3" text-anchor="middle" textLength="9.2" lengthAdjust="spacingAndGlyphs">100</text>
<text x="253.2" y="127.3" text-anchor="end" textLength="9.2" lengthAdjust="spacingAndGlyphs">100</text>
<text x="356.8" y="206.3" text-anchor="middle" textLength="9.2" lengthAdjust="spacingAndGlyphs">150</text>
<text x="253.2" y="91.6" text-anchor="end" textLength="9.2" lengthAdjust="spacingAndGlyphs">150</text>
<text x="390.8" y="206.3" text-anchor="middle" textLength="9.2" lengthAdjust="spacingAndGlyphs">200</text>
<text x="253.2" y="55.9" text-anchor="end" textLength="9.2" lengthAdjust="spacingAndGlyphs">200</text>
<text x="424.8" y="206.3" text-anchor="middle" textLength="9.2" lengthAdjust="spacingAndGlyphs">250</text>
<text x="253.2" y="20.2" text-anchor="end" textLength="9.2" lengthAdjust="spacingAndGlyphs">250</text>
</g>
<text x="278.6" y="6.9" font-family="'Liberation Sans', Arial, sans-serif" font-size="7.7" fill="#111" textLength="129.6" lengthAdjust="spacingAndGlyphs">Row Correlation of the Original Image B Channel</text>
<path d="M523.3 9.8V195.3M489.3 159.6H666M557.3 9.8V195.3M489.3 124H666M591.2 9.8V195.3M489.3 88.3H666M625.2 9.8V195.3M489.3 52.6H666M659.2 9.8V195.3M489.3 16.9H666" stroke="#efefef" stroke-width="0.8" fill="none"/>
<g transform="matrix(0.6796 0 0 -0.7135 489.3 195.3)">
<path d="M3 3.9L4 6.4L5 9L6 11.5L7 14L8 16.6L9 19.1L10 21.6L11 24.1L12 26.4L13 28.1L14 29.9L15 31.7L16 33.4L17 35.2L18 37L19 38.7L20 40.5L21 42.2L22 44L23 45.8L24 47.5L25 49.3L26 51.1L27 52.9L28 54.6L29 56.5L30 58.4L31 60.3L32 62.2L33 64.1L34 66L35 67.9L36 69.6L37 70.8L38 71.9L39 73L40 74.2L41 75.3L42 76.4L43 77.6L44 78.7L45 79.8L46 81L47 82.1L48 83.2L49 84.4L50 85.5L51 86.6L52 87.8L53 88.9L54 90.1L55 91.2L56 92.3L57 93.5L58 94.6L59 95.8L60 96.9L61 98L62 99.2L63 100.3L64 101.5L65 102.6L66 103.7L67 104.9L68 106L69 107.2L70 108.3L71 109.4L72 110.6L73 111.7L74 112.9L75 114L76 115L77 116L78 117L79 118L80 119L81 120L82 121L83 122L84 123L85 124L86 125L87 126L88 127L89 128L90 129L91 130L92 131L93 132L94 133L95 134L96 135L97 136L98 137L99 138L100 139L101 140L102 140.9L103 141.9L104 142.8L105 143.8L106 144.8L107 145.7L108 146.7L109 147.7L110 148.6L111 149.6L112 150.5L113 151.5L114 152.5L115 153.4L116 154.4L117 155.3L118 156.3L119 157.3L120 158.2L121 159.2L122 160.2L123 161.1L124 162.1L125 163L126 164L127 164.8L128 165.7L129 166.5L130 167.4L131 168.2L132 169L133 169.9L134 170.7L135 171.5L136 172.4L137 173.2L138 174.1L139 174.9L140 175.7L141 176.6L142 177.4L143 178.3L144 179.1L145 179.9L146 180.8L147 181.6L148 182.5L149 183.3L150 184.1L151 185L152 185.8L153 186.6L154 187.5L155 188.3L156 189.2L157 190L158 190.7L159 191.5L160 192.2L161 192.9L162 193.6L163 194.4L164 195.1L165 195.8L166 196.6L167 197.3L168 198L169 198.8L170 199.5L171 200.2L172 200.9L173 201.7L174 202.4L175 203.1L176 203.9L177 204.6L178 205.3L179 206L180 206.8L181 207.5L182 208L183 208.5L184 209L185 209.4L186 209.9L187 210.4L188 210.9L189 211.4L190 211.9L191 212.3L192 212.8L193 213.3L194 213.8L195 214.3L196 214.8L197 215.2L198 215.7L199 216.2L200 216.7L201 217.3L202 217.9L203 218.5L204 219.2L205 219.8L206 220.5L207 221.1L208 221.8L209 222.4L210 223L211 223.7L212 224.3L213 225L214 225.6L215 226.3L216 226.9L217 227.6L218 228.2L219 228.9L220 229.5L221 230.1L222 230.8L223 231.4L224 232L225 232.7L226 233.3L227 233.9L228 234.5L229 235.2L230 235.8L231 236.4L232 237L233 237.7L234 238.3L235 239L236 239.6L237 240.2L238 240.9L239 241.5L240 242.1L241 242.8L242 243.4L243 244.2L244 244.9L245 245.6L246 246.3L247 247.1L248 247.8L249 248.5L249 248.5L248 247L247 245.5L246 244L245 242.5L244 241.1L243 239.6L242 238.1L241 236.5L240 234.9L239 233.3L238 231.7L237 230.1L236 228.5L235 226.9L234 225.3L233 223.7L232 222.1L231 220.5L230 218.9L229 217.4L228 216L227 214.6L226 213.2L225 211.8L224 210.4L223 209L222 207.6L221 206.1L220 204.7L219 203.3L218 201.9L217 200.4L216 198.9L215 197.4L214 195.8L213 194.3L212 192.7L211 191.2L210 189.6L209 188.1L208 186.5L207 185L206 183.4L205 181.9L204 180.4L203 178.8L202 177.3L201 175.7L200 174L199 172.4L198 170.9L197 169.3L196 167.7L195 166.1L194 164.6L193 163L192 161.2L191 159.4L190 157.5L189 155.7L188 153.9L187 152.2L186 150.7L185 149.2L184 147.7L183 146.2L182 144.7L181 143.2L180 141.6L179 140.1L178 138.6L177 137.3L176 136.2L175 135.1L174 134L173 132.9L172 131.8L171 130.7L170 129.6L169 128.4L168 127.3L167 126.2L166 125.1L165 124L164 123.1L163 122.1L162 121.2L161 120.3L160 119.3L159 118.4L158 117.5L157 116.5L156 115.6L155 114.7L154 113.7L153 112.8L152 111.9L151 110.9L150 110L149 108.9L148 107.8L147 106.8L146 105.7L145 104.6L144 103.5L143 102.4L142 101.3L141 100.2L140 99.2L139 98.1L138 97L137 95.9L136 94.8L135 93.8L134 92.7L133 91.6L132 90.5L131 89.4L130 88.3L129 87.2L128 86.2L127 85.1L126 84L125 82.9L124 81.9L123 80.8L122 79.7L121 78.7L120 77.6L119 76.5L118 75.5L117 74.4L116 73.3L115 72.5L114 71.7L113 70.9L112 70.1L111 69.3L110 68.6L109 67.8L108 67L107 66.2L106 65.4L105 64.7L104 63.9L103 63.1L102 62.3L101 61.5L100 60.8L99 60L98 59.2L97 58.4L96 57.6L95 56.8L94 55.9L93 55L92 54.2L91 53.3L90 52.5L89 51.6L88 50.8L87 49.9L86 49L85 48.2L84 47.3L83 46.5L82 45.6L81 44.7L80 43.9L79 43L78 42.2L77 41.3L76 40.4L75 39.6L74 38.7L73 37.9L72 37L71 36.4L70 35.8L69 35.1L68 34.5L67 33.9L66 33.3L65 32.6L64 32L63 31.4L62 30.8L61 30.1L60 29.5L59 28.9L58 28.3L57 27.7L56 27L55 26.4L54 25.8L53 25.2L52 24.5L51 23.9L50 23.3L49 22.9L48 22.4L47 22L46 21.6L45 21.1L44 20.7L43 20.2L42 19.8L41 19.4L40 18.9L39 18.5L38 18.1L37 17.6L36 17.2L35 16.7L34 16.3L33 15.9L32 15.4L31 15L30 14.6L29 14.1L28 13.7L27 13.1L26 12.5L25 11.9L24 11.3L23 10.9L22 10.6L21 10.2L20 9.9L19 9.5L18 9.1L17 8.8L16 8.4L15 8.1L14 7.7L13 7.4L12 7L11 6.6L10 6.2L9 5.7L8 5.3L7 4.9L6 4.4L5 4L4 3.5L3 3.1Z" fill="url(#st)" stroke="#2020f5" stroke-width="1.2" stroke-linejoin="round" vector-effect="non-scaling-stroke"/>
<path d="M3 3zm0 1zm1 -1zm0 6zm1 -6zm0 7zm0 1zm0 1zm0 6zm0 2zm1 -17zm0 1zm0 8zm0 2zm0 3zm0 1zm1 -14zm0 12zm0 1zm0 1zm0 3zm1 -4zm0 1zm0 3zm0 1zm0 1zm0 2zm0 6zm0 2zm0 3zm1 -31zm0 15zm0 1zm0 1zm0 1zm0 1zm0 6zm0 14zm1 -41zm0 1zm0 1zm0 1zm0 16zm0 2zm0 2zm0 10zm1 -30zm0 19zm0 1zm0 2zm0 1zm0 2zm0 2zm0 1zm0 1zm0 1zm0 13zm1 -22zm0 1zm0 1zm0 1zm0 1zm0 3zm0 1zm0 1zm0 1zm0 3zm0 1zm0 5zm0 6zm0 1zm0 4zm0 13zm1 -67zm0 1zm0 1zm0 1zm0 24zm0 2zm0 1zm0 5zm0 2zm0 2zm0 3zm0 10zm0 1zm1 -50zm0 1zm0 25zm0 1zm0 1zm0 2zm0 1zm0 2zm0 3zm0 1zm0 1zm0 12zm0 3zm0 8zm0 1zm1 -65zm0 3zm0 1zm0 1zm0 24zm0 2zm0 3zm0 1zm0 1zm0 2zm0 1zm0 8zm1 -43zm0 1zm0 26zm0 2zm0 1zm0 3zm0 2zm0 1zm0 1zm0 4zm0 2zm0 6zm0 25zm0 9zm1 -85zm0 1zm0 1zm0 35zm0 2zm0 1zm0 2zm0 5zm0 13zm1 -63zm0 2zm0 3zm0 2zm0 28zm0 1zm0 5zm0 1zm0 3zm0 1zm0 1zm0 1zm0 8zm0 5zm0 9zm1 -63zm0 30zm0 1zm0 3zm0 2zm0 1zm0 2zm0 6zm0 5zm0 1zm0 15zm0 2zm1 -72zm0 3zm0 1zm0 32zm0 1zm0 1zm0 1zm0 2zm0 1zm0 1zm0 1zm0 1zm0 4zm0 1zm0 2zm0 5zm0 16zm1 -76zm0 4zm0 37zm0 6zm0 4zm0 1zm0 4zm0 1zm0 2zm0 4zm0 5zm0 22zm1 -86zm0 2zm0 1zm0 36zm0 1zm0 1zm0 1zm0 1zm0 1zm0 1zm0 2zm0 3zm0 2zm0 4zm0 2zm0 9zm0 6zm0 5zm0 8zm1 -86zm0 1zm0 2zm0 39zm0 3zm0 3zm0 10zm0 4zm0 7zm0 19zm0 14zm1 -107zm0 5zm0 1zm0 1zm0 1zm0 1zm0 1zm0 39zm0 2zm0 1zm0 1zm0 3zm0 2zm0 11zm0 18zm0 1zm1 -84zm0 1zm0 2zm0 1zm0 1zm0 1zm0 40zm0 1zm0 3zm0 1zm0 2zm0 1zm0 1zm0 2zm0 4zm0 5zm0 1zm0 2zm0 5zm0 6zm0 14zm1 -91zm0 3zm0 1zm0 42zm0 1zm0 1zm0 1zm0 1zm0 1zm0 1zm0 5zm0 2zm0 3zm0 1zm0 3zm0 1zm0 3zm0 2zm0 6zm0 1zm0 3zm0 7zm0 25zm1 -119zm0 1zm0 1zm0 3zm0 2zm0 1zm0 1zm0 41zm0 1zm0 1zm0 2zm0 1zm0 1zm0 1zm0 1zm0 2zm0 3zm0 2zm0 4zm0 17zm1 -83zm0 3zm0 1zm0 2zm0 1zm0 42zm0 1zm0 1zm0 1zm0 1zm0 1zm0 1zm0 1zm0 1zm0 2zm0 3zm0 3zm0 2zm0 6zm0 1zm0 3zm0 7zm0 7zm1 -97zm0 8zm0 3zm0 2zm0 1zm0 43zm0 2zm0 1zm0 1zm0 1zm0 1zm0 1zm0 3zm0 2zm0 2zm0 3zm0 3zm0 5zm0 2zm0 1zm0 1zm1 -76zm0 2zm0 1zm0 46zm0 2zm0 1zm0 2zm0 2zm0 1zm0 3zm0 1zm0 2zm0 1zm0 1zm0 3zm0 3zm0 1zm0 1zm0 2zm0 1zm0 1zm0 2zm0 6zm0 1zm0 1zm0 5zm0 1zm0 23zm1 -117zm0 1zm0 2zm0 1zm0 48zm0 1zm0 1zm0 2zm0 2zm0 2zm0 1zm0 1zm0 1zm0 2zm0 4zm0 2zm0 2zm0 2zm0 1zm0 4zm1 -76zm0 1zm0 51zm0 1zm0 1zm0 1zm0 4zm0 2zm0 1zm0 5zm0 1zm0 1zm0 3zm0 10zm0 10zm0 1zm0 14zm1 -115zm0 1zm0 1zm0 1zm0 4zm0 1zm0 1zm0 1zm0 50zm0 1zm0 3zm0 1zm0 1zm0 2zm0 2zm0 1zm0 2zm0 1zm0 8zm0 5zm0 2zm0 1zm0 1zm0 2zm0 2zm0 7zm0 2zm1 -102zm0 2zm0 4zm0 1zm0 2zm0 50zm0 1zm0 1zm0 1zm0 3zm0 1zm0 2zm0 3zm0 1zm0 2zm0 8zm0 13zm0 7zm0 12zm1 -112zm0 1zm0 3zm0 1zm0 2zm0 52zm0 1zm0 1zm0 1zm0 1zm0 1zm0 1zm0 2zm0 2zm0 2zm0 2zm0 1zm0 4zm0 2zm0 2zm0 1zm0 2zm0 24zm0 11zm1 -122zm0 4zm0 1zm0 3zm0 1zm0 1zm0 53zm0 1zm0 1zm0 1zm0 1zm0 1zm0 1zm0 1zm0 1zm0 1zm0 3zm0 5zm0 10zm0 4zm0 3zm0 6zm0 2zm1 -100zm0 2zm0 1zm0 57zm0 1zm0 3zm0 1zm0 2zm0 1zm0 1zm0 1zm0 1zm0 1zm0 1zm0 1zm0 2zm0 1zm0 8zm0 5zm0 2zm0 1zm0 1zm0 4zm0 3zm0 8zm0 8zm1 -121zm0 3zm0 1zm0 2zm0 1zm0 1zm0 1zm0 1zm0 54zm0 1zm0 3zm0 1zm0 1zm0 1zm0 1zm0 2zm0 1zm0 1zm0 4zm0 2zm0 13zm0 8zm1 -103zm0 1zm0 4zm0 3zm0 58zm0 2zm0 3zm0 1zm0 1zm0 1zm0 2zm0 3zm0 1zm0 4zm0 1zm0 1zm0 1zm0 5zm0 3zm0 2zm0 12zm0 5zm1 -109zm0 1zm0 1zm0 1zm0 2zm0 57zm0 1zm0 2zm0 1zm0 1zm0 1zm0 1zm0 1zm0 2zm0 1zm0 1zm0 1zm0 1zm0 3zm0 1zm0 4zm0 1zm0 2zm0 3zm0 5zm1 -101zm0 1zm0 7zm0 1zm0 1zm0 1zm0 58zm0 1zm0 1zm0 2zm0 1zm0 2zm0 1zm0 1zm0 1zm0 1zm0 2zm0 1zm0 1zm0 2zm0 4zm0 1zm0 3zm0 1zm0 11zm0 4zm0 6zm1 -112zm0 4zm0 1zm0 1zm0 1zm0 1zm0 60zm0 1zm0 4zm0 1zm0 6zm0 6zm0 5zm0 13zm0 3zm1 -105zm0 2zm0 2zm0 2zm0 1zm0 59zm0 1zm0 2zm0 1zm0 3zm0 3zm0 2zm0 2zm0 1zm0 1zm0 1zm0 1zm0 5zm0 13zm0 2zm0 7zm1 -112zm0 3zm0 2zm0 1zm0 1zm0 1zm0 60zm0 1zm0 1zm0 2zm0 1zm0 1zm0 1zm0 2zm0 4zm0 1zm0 4zm0 1zm0 6zm0 2zm0 1zm0 13zm0 2zm1 -110zm0 3zm0 1zm0 2zm0 62zm0 1zm0 3zm0 1zm0 1zm0 1zm0 1zm0 2zm0 5zm0 1zm0 1zm0 3zm0 2zm0 4zm0 2zm0 18zm0 5zm1 -121zm0 2zm0 1zm0 5zm0 1zm0 1zm0 60zm0 3zm0 1zm0 1zm0 1zm0 2zm0 4zm0 1zm0 2zm0 3zm0 3zm0 7zm0 8zm0 2zm0 24zm1 -129zm0 1zm0 1zm0 1zm0 1zm0 2zm0 1zm0 62zm0 1zm0 1zm0 1zm0 2zm0 2zm0 3zm0 1zm0 9zm0 1zm0 1zm0 8zm0 8zm0 10zm0 2zm1 -122zm0 1zm0 1zm0 2zm0 1zm0 3zm0 1zm0 1zm0 1zm0 63zm0 1zm0 3zm0 1zm0 1zm0 1zm0 1zm0 1zm0 4zm0 1zm0 1zm0 2zm0 3zm0 2zm0 4zm0 3zm0 8zm0 23zm0 3zm0 16zm1 -152zm0 4zm0 1zm0 3zm0 65zm0 1zm0 1zm0 1zm0 1zm0 3zm0 3zm0 1zm0 2zm0 3zm0 1zm0 2zm0 1zm0 7zm0 1zm0 1zm0 1zm0 21zm1 -126zm0 1zm0 2zm0 3zm0 3zm0 1zm0 1zm0 1zm0 1zm0 63zm0 2zm0 1zm0 2zm0 2zm0 1zm0 5zm0 1zm0 1zm0 1zm0 1zm0 9zm0 9zm0 16zm1 -122zm0 1zm0 2zm0 2zm0 67zm0 2zm0 1zm0 3zm0 1zm0 1zm0 1zm0 2zm0 1zm0 1zm0 1zm0 1zm0 1zm0 2zm0 4zm0 4zm0 3zm0 17zm0 20zm1 -140zm0 3zm0 1zm0 2zm0 2zm0 1zm0 1zm0 1zm0 64zm0 1zm0 1zm0 3zm0 1zm0 1zm0 1zm0 3zm0 5zm0 6zm0 4zm0 1zm0 2zm0 8zm0 1zm0 5zm0 11zm0 37zm1 -172zm0 6zm0 2zm0 2zm0 1zm0 1zm0 2zm0 1zm0 1zm0 1zm0 1zm0 65zm0 1zm0 1zm0 1zm0 2zm0 1zm0 1zm0 1zm0 2zm0 1zm0 2zm0 1zm0 1zm0 3zm0 1zm0 6zm0 6zm0 6zm0 3zm0 5zm0 6zm0 1zm0 7zm1 -132zm0 1zm0 2zm0 2zm0 2zm0 1zm0 66zm0 1zm0 2zm0 1zm0 1zm0 2zm0 2zm0 6zm0 1zm0 4zm0 1zm0 1zm0 1zm0 6zm0 3zm0 4zm0 3zm0 18zm0 9zm1 -139zm0 1zm0 1zm0 3zm0 3zm0 66zm0 1zm0 2zm0 1zm0 2zm0 1zm0 1zm0 2zm0 1zm0 2zm0 3zm0 2zm0 1zm0 1zm0 1zm0 1zm0 4zm0 1zm0 2zm0 2zm0 1zm0 11zm0 3zm0 2zm0 3zm1 -131zm0 5zm0 1zm0 1zm0 1zm0 2zm0 1zm0 2zm0 2zm0 66zm0 1zm0 1zm0 1zm0 1zm0 2zm0 2zm0 1zm0 2zm0 1zm0 1zm0 1zm0 5zm0 3zm0 2zm0 6zm0 3zm0 1zm0 2zm0 14zm0 4zm0 2zm0 7zm1 -147zm0 4zm0 4zm0 2zm0 1zm0 3zm0 2zm0 1zm0 68zm0 1zm0 1zm0 1zm0 1zm0 2zm0 2zm0 3zm0 2zm0 2zm0 4zm0 1zm0 2zm0 5zm0 8zm0 2zm0 5zm0 10zm0 3zm0 13zm1 -148zm0 1zm0 2zm0 4zm0 1zm0 1zm0 1zm0 1zm0 1zm0 1zm0 69zm0 1zm0 1zm0 1zm0 1zm0 2zm0 1zm0 3zm0 1zm0 1zm0 1zm0 6zm0 3zm0 5zm0 1zm0 4zm0 6zm0 2zm0 3zm0 3zm0 1zm1 -126zm0 4zm0 1zm0 2zm0 2zm0 1zm0 1zm0 70zm0 2zm0 3zm0 1zm0 1zm0 4zm0 1zm0 1zm0 2zm0 1zm0 3zm0 1zm0 1zm0 3zm0 13zm0 20zm0 21zm1 -159zm0 10zm0 1zm0 69zm0 1zm0 1zm0 2zm0 2zm0 1zm0 1zm0 1zm0 1zm0 1zm0 1zm0 2zm0 1zm0 1zm0 1zm0 1zm0 1zm0 2zm0 2zm0 3zm0 1zm0 5zm0 8zm0 18zm1 -138zm0 2zm0 3zm0 2zm0 1zm0 1zm0 1zm0 1zm0 1zm0 70zm0 1zm0 1zm0 1zm0 1zm0 1zm0 2zm0 1zm0 1zm0 1zm0 2zm0 1zm0 1zm0 3zm0 1zm0 1zm0 6zm0 1zm0 4zm0 4zm0 6zm0 8zm0 1zm0 18zm1 -144zm0 1zm0 1zm0 1zm0 1zm0 1zm0 1zm0 1zm0 1zm0 71zm0 1zm0 1zm0 3zm0 2zm0 1zm0 1zm0 2zm0 1zm0 2zm0 2zm0 1zm0 5zm0 1zm0 5zm0 1zm0 1zm0 5zm0 3zm0 8zm0 3zm0 2zm0 5zm1 -141zm0 2zm0 6zm0 1zm0 1zm0 1zm0 1zm0 1zm0 1zm0 1zm0 70zm0 1zm0 1zm0 1zm0 1zm0 2zm0 1zm0 1zm0 1zm0 1zm0 1zm0 3zm0 2zm0 1zm0 3zm0 1zm0 2zm0 3zm0 3zm0 4zm0 6zm0 3zm0 4zm0 41zm1 -172zm0 5zm0 5zm0 1zm0 1zm0 1zm0 2zm0 1zm0 70zm0 1zm0 2zm0 1zm0 1zm0 1zm0 2zm0 2zm0 1zm0 3zm0 1zm0 2zm0 1zm0 1zm0 2zm0 4zm0 10zm0 17zm0 21zm1 -161zm0 9zm0 2zm0 2zm0 1zm0 1zm0 2zm0 1zm0 71zm0 1zm0 1zm0 2zm0 2zm0 2zm0 1zm0 1zm0 4zm0 1zm0 1zm0 1zm0 1zm0 1zm0 1zm0 2zm0 2zm0 2zm0 1zm0 1zm0 1zm0 6zm0 2zm0 2zm0 4zm0 8zm0 15zm0 8zm0 1zm1 -153zm0 2zm0 2zm0 1zm0 2zm0 73zm0 1zm0 3zm0 1zm0 1zm0 2zm0 1zm0 1zm0 1zm0 1zm0 4zm0 3zm0 8zm0 1zm0 4zm0 3zm0 3zm0 1zm0 11zm1 -137zm0 6zm0 1zm0 1zm0 1zm0 2zm0 1zm0 1zm0 1zm0 1zm0 72zm0 2zm0 1zm0 2zm0 2zm0 1zm0 1zm0 3zm0 1zm0 2zm0 1zm0 1zm0 6zm0 2zm0 1zm0 7zm0 1zm0 4zm0 6zm0 8zm1 -136zm0 4zm0 4zm0 5zm0 74zm0 1zm0 1zm0 2zm0 1zm0 1zm0 1zm0 1zm0 2zm0 1zm0 1zm0 6zm0 3zm0 4zm0 1zm0 1zm0 5zm0 3zm0 1zm0 11zm0 11zm1 -145zm0 1zm0 1zm0 2zm0 1zm0 1zm0 3zm0 1zm0 1zm0 1zm0 1zm0 1zm0 73zm0 3zm0 2zm0 1zm0 1zm0 1zm0 2zm0 2zm0 1zm0 2zm0 1zm0 1zm0 1zm0 1zm0 1zm0 3zm0 2zm0 1zm0 3zm0 2zm0 2zm0 3zm0 8zm0 3zm0 16zm0 2zm1 -153zm0 1zm0 2zm0 4zm0 2zm0 3zm0 1zm0 1zm0 1zm0 75zm0 1zm0 1zm0 2zm0 1zm0 2zm0 1zm0 1zm0 1zm0 2zm0 5zm0 1zm0 1zm0 2zm0 13zm0 2zm0 3zm0 8zm0 1zm1 -130zm0 1zm0 1zm0 1zm0 1zm0 1zm0 1zm0 1zm0 1zm0 75zm0 1zm0 1zm0 1zm0 1zm0 1zm0 1zm0 1zm0 1zm0 1zm0 3zm0 1zm0 2zm0 2zm0 4zm0 2zm0 1zm0 1zm0 14zm0 4zm1 -127zm0 3zm0 3zm0 1zm0 1zm0 1zm0 76zm0 1zm0 2zm0 2zm0 1zm0 2zm0 1zm0 1zm0 1zm0 1zm0 3zm0 2zm0 3zm0 1zm0 4zm0 3zm0 1zm0 2zm0 5zm0 6zm0 1zm0 2zm0 22zm0 22zm1 -179zm0 2zm0 2zm0 3zm0 1zm0 1zm0 2zm0 2zm0 77zm0 1zm0 1zm0 1zm0 1zm0 1zm0 2zm0 1zm0 1zm0 2zm0 2zm0 4zm0 1zm0 1zm0 1zm0 1zm0 3zm0 1zm0 3zm0 8zm0 2zm0 1zm0 16zm1 -144zm0 2zm0 3zm0 2zm0 2zm0 1zm0 1zm0 1zm0 1zm0 2zm0 75zm0 2zm0 2zm0 1zm0 1zm0 1zm0 1zm0 1zm0 1zm0 2zm0 2zm0 3zm0 1zm0 3zm0 2zm0 1zm0 1zm0 2zm0 3zm0 2zm0 1zm0 5zm0 3zm1 -129zm0 3zm0 1zm0 1zm0 2zm0 1zm0 1zm0 1zm0 1zm0 2zm0 80zm0 1zm0 2zm0 1zm0 1zm0 2zm0 1zm0 1zm0 4zm0 2zm0 1zm0 3zm0 1zm0 2zm0 2zm0 1zm0 2zm0 9zm0 2zm0 8zm0 3zm0 9zm1 -148zm0 4zm0 1zm0 1zm0 1zm0 1zm0 1zm0 1zm0 1zm0 1zm0 76zm0 6zm0 1zm0 1zm0 1zm0 1zm0 1zm0 1zm0 1zm0 1zm0 2zm0 1zm0 2zm0 2zm0 1zm0 5zm0 2zm0 18zm0 10zm0 5zm0 12zm1 -176zm0 16zm0 1zm0 2zm0 1zm0 1zm0 3zm0 1zm0 1zm0 1zm0 76zm0 1zm0 1zm0 1zm0 1zm0 1zm0 1zm0 1zm0 1zm0 3zm0 1zm0 3zm0 1zm0 1zm0 1zm0 1zm0 1zm0 6zm0 1zm0 2zm0 2zm0 5zm0 12zm0 5zm1 -145zm0 2zm0 4zm0 2zm0 2zm0 1zm0 1zm0 1zm0 1zm0 1zm0 2zm0 76zm0 1zm0 1zm0 2zm0 2zm0 3zm0 1zm0 2zm0 1zm0 2zm0 4zm0 1zm0 1zm0 3zm0 2zm0 1zm0 10zm0 1zm0 1zm0 4zm0 4zm0 4zm0 4zm0 1zm0 4zm0 1zm1 -153zm0 3zm0 3zm0 2zm0 1zm0 1zm0 2zm0 1zm0 2zm0 1zm0 77zm0 2zm0 2zm0 1zm0 1zm0 1zm0 2zm0 1zm0 2zm0 4zm0 1zm0 6zm0 5zm0 2zm0 1zm0 1zm0 3zm0 1zm0 11zm0 1zm1 -142zm0 2zm0 5zm0 1zm0 1zm0 1zm0 2zm0 1zm0 2zm0 1zm0 1zm0 1zm0 77zm0 2zm0 4zm0 1zm0 1zm0 1zm0 3zm0 1zm0 1zm0 4zm0 1zm0 2zm0 3zm0 3zm0 2zm0 1zm0 1zm0 2zm0 1zm0 10zm0 2zm0 5zm0 2zm0 1zm1 -147zm0 2zm0 1zm0 3zm0 2zm0 1zm0 2zm0 1zm0 1zm0 1zm0 3zm0 77zm0 1zm0 1zm0 1zm0 2zm0 1zm0 1zm0 1zm0 3zm0 1zm0 2zm0 2zm0 3zm0 1zm0 1zm0 3zm0 3zm0 1zm0 4zm0 3zm0 1zm0 1zm0 15zm1 -151zm0 9zm0 1zm0 1zm0 2zm0 2zm0 1zm0 1zm0 1zm0 1zm0 1zm0 1zm0 1zm0 79zm0 1zm0 1zm0 1zm0 1zm0 1zm0 1zm0 1zm0 2zm0 1zm0 3zm0 1zm0 1zm0 2zm0 3zm0 3zm0 2zm0 1zm0 1zm0 3zm0 1zm0 4zm0 2zm0 3zm0 15zm0 5zm0 2zm1 -156zm0 8zm0 3zm0 3zm0 1zm0 1zm0 1zm0 77zm0 2zm0 1zm0 1zm0 1zm0 3zm0 1zm0 1zm0 2zm0 5zm0 1zm0 2zm0 3zm0 1zm0 1zm0 2zm0 3zm0 5zm0 3zm0 5zm0 2zm0 1zm0 7zm0 9zm1 -163zm0 10zm0 1zm0 1zm0 2zm0 3zm0 1zm0 3zm0 1zm0 2zm0 1zm0 78zm0 1zm0 2zm0 1zm0 1zm0 1zm0 2zm0 1zm0 1zm0 4zm0 4zm0 2zm0 6zm0 2zm0 19zm1 -139zm0 1zm0 1zm0 1zm0 1zm0 1zm0 1zm0 1zm0 2zm0 1zm0 1zm0 1zm0 1zm0 1zm0 1zm0 79zm0 2zm0 1zm0 2zm0 1zm0 5zm0 1zm0 2zm0 1zm0 1zm0 1zm0 1zm0 3zm0 5zm0 10zm0 13zm0 19zm1 -169zm0 4zm0 1zm0 1zm0 1zm0 5zm0 1zm0 1zm0 2zm0 4zm0 3zm0 78zm0 1zm0 1zm0 1zm0 1zm0 1zm0 1zm0 2zm0 1zm0 1zm0 1zm0 4zm0 1zm0 1zm0 3zm0 2zm0 1zm0 4zm0 1zm0 4zm0 1zm0 8zm0 6zm0 16zm1 -163zm0 1zm0 6zm0 1zm0 1zm0 2zm0 2zm0 1zm0 1zm0 1zm0 1zm0 1zm0 2zm0 1zm0 1zm0 78zm0 2zm0 1zm0 1zm0 4zm0 1zm0 1zm0 1zm0 2zm0 1zm0 2zm0 1zm0 3zm0 1zm0 2zm0 3zm0 2zm0 7zm0 8zm0 1zm0 1zm0 13zm0 3zm1 -155zm0 3zm0 1zm0 4zm0 4zm0 1zm0 2zm0 1zm0 1zm0 79zm0 1zm0 1zm0 1zm0 5zm0 1zm0 1zm0 1zm0 1zm0 5zm0 1zm0 1zm0 1zm0 4zm0 10zm0 7zm0 1zm1 -140zm0 11zm0 2zm0 1zm0 1zm0 1zm0 1zm0 2zm0 1zm0 78zm0 1zm0 1zm0 1zm0 1zm0 3zm0 1zm0 1zm0 2zm0 1zm0 1zm0 1zm0 1zm0 2zm0 4zm0 1zm0 1zm0 8zm0 3zm0 10zm0 1zm0 1zm0 1zm0 10zm0 7zm1 -165zm0 8zm0 5zm0 1zm0 1zm0 2zm0 1zm0 3zm0 1zm0 1zm0 1zm0 78zm0 1zm0 1zm0 1zm0 1zm0 1zm0 2zm0 1zm0 1zm0 3zm0 2zm0 2zm0 1zm0 3zm0 3zm0 2zm0 2zm0 13zm0 3zm0 1zm0 15zm0 11zm1 -172zm0 6zm0 1zm0 2zm0 4zm0 3zm0 2zm0 1zm0 1zm0 1zm0 1zm0 1zm0 2zm0 79zm0 1zm0 1zm0 1zm0 2zm0 1zm0 2zm0 1zm0 2zm0 2zm0 1zm0 5zm0 2zm0 3zm0 1zm0 3zm0 3zm0 1zm0 7zm0 1zm0 4zm0 4zm0 16zm1 -177zm0 12zm0 1zm0 1zm0 3zm0 2zm0 5zm0 1zm0 1zm0 1zm0 1zm0 4zm0 1zm0 2zm0 78zm0 1zm0 1zm0 2zm0 1zm0 2zm0 1zm0 2zm0 2zm0 4zm0 1zm0 2zm0 1zm0 1zm0 2zm0 2zm0 3zm0 1zm0 15zm0 5zm0 14zm1 -162zm0 2zm0 2zm0 5zm0 1zm0 1zm0 2zm0 1zm0 1zm0 1zm0 1zm0 1zm0 1zm0 2zm0 1zm0 78zm0 2zm0 1zm0 2zm0 3zm0 1zm0 1zm0 1zm0 3zm0 1zm0 4zm0 3zm0 2zm0 3zm0 3zm0 1zm0 4zm0 5zm0 7zm0 1zm0 1zm0 5zm0 4zm1 -156zm0 5zm0 4zm0 1zm0 1zm0 1zm0 1zm0 1zm0 1zm0 2zm0 1zm0 1zm0 1zm0 80zm0 1zm0 1zm0 2zm0 1zm0 3zm0 1zm0 1zm0 1zm0 1zm0 2zm0 1zm0 2zm0 2zm0 2zm0 2zm0 1zm0 1zm0 2zm0 4zm0 5zm0 3zm0 3zm0 3zm0 5zm1 -149zm0 2zm0 4zm0 1zm0 2zm0 2zm0 1zm0 2zm0 1zm0 2zm0 1zm0 1zm0 1zm0 79zm0 2zm0 1zm0 1zm0 1zm0 3zm0 1zm0 4zm0 3zm0 1zm0 2zm0 2zm0 1zm0 1zm0 1zm0 22zm0 1zm1 -155zm0 8zm0 2zm0 4zm0 1zm0 2zm0 2zm0 1zm0 2zm0 1zm0 2zm0 1zm0 1zm0 1zm0 1zm0 80zm0 2zm0 1zm0 1zm0 1zm0 4zm0 1zm0 2zm0 1zm0 1zm0 2zm0 5zm0 1zm0 1zm0 2zm0 2zm0 1zm0 5zm0 1zm0 8zm0 6zm0 5zm0 4zm1 -157zm0 3zm0 4zm0 5zm0 1zm0 1zm0 1zm0 1zm0 1zm0 3zm0 1zm0 1zm0 79zm0 1zm0 2zm0 1zm0 2zm0 3zm0 1zm0 1zm0 2zm0 1zm0 2zm0 1zm0 1zm0 3zm0 1zm0 2zm0 1zm0 1zm0 3zm0 2zm0 12zm0 5zm0 13zm0 27zm1 -188zm0 8zm0 1zm0 2zm0 2zm0 1zm0 1zm0 1zm0 1zm0 1zm0 4zm0 79zm0 1zm0 2zm0 1zm0 1zm0 1zm0 2zm0 1zm0 1zm0 1zm0 1zm0 2zm0 1zm0 2zm0 1zm0 3zm0 3zm0 1zm0 6zm0 2zm0 2zm0 9zm0 31zm1 -179zm0 3zm0 1zm0 1zm0 3zm0 1zm0 1zm0 1zm0 1zm0 1zm0 2zm0 2zm0 3zm0 2zm0 1zm0 1zm0 1zm0 81zm0 1zm0 1zm0 1zm0 1zm0 1zm0 1zm0 3zm0 1zm0 3zm0 1zm0 5zm0 1zm0 2zm0 3zm0 1zm0 13zm0 8zm1 -153zm0 2zm0 5zm0 1zm0 6zm0 3zm0 2zm0 1zm0 2zm0 1zm0 1zm0 2zm0 81zm0 2zm0 2zm0 1zm0 1zm0 1zm0 1zm0 1zm0 2zm0 2zm0 2zm0 2zm0 3zm0 1zm0 11zm0 18zm1 -156zm0 3zm0 5zm0 4zm0 3zm0 6zm0 1zm0 3zm0 81zm0 1zm0 2zm0 2zm0 2zm0 1zm0 1zm0 1zm0 1zm0 1zm0 1zm0 1zm0 5zm0 1zm0 4zm0 2zm0 1zm0 3zm0 2zm0 2zm0 1zm0 1zm0 1zm0 9zm0 2zm0 6zm0 4zm0 6zm1 -174zm0 8zm0 1zm0 8zm0 1zm0 1zm0 2zm0 2zm0 3zm0 1zm0 1zm0 1zm0 1zm0 1zm0 80zm0 1zm0 1zm0 2zm0 2zm0 1zm0 1zm0 1zm0 2zm0 3zm0 1zm0 1zm0 1zm0 15zm0 8zm0 6zm0 18zm0 2zm1 -182zm0 11zm0 3zm0 4zm0 1zm0 3zm0 1zm0 2zm0 6zm0 1zm0 1zm0 1zm0 1zm0 1zm0 1zm0 79zm0 1zm0 2zm0 1zm0 1zm0 1zm0 1zm0 1zm0 2zm0 1zm0 3zm0 3zm0 2zm0 1zm0 1zm0 1zm0 1zm0 2zm0 5zm0 2zm0 1zm0 9zm0 5zm1 -159zm0 15zm0 5zm0 1zm0 1zm0 4zm0 3zm0 2zm0 1zm0 81zm0 1zm0 1zm0 1zm0 2zm0 1zm0 1zm0 1zm0 1zm0 1zm0 1zm0 1zm0 1zm0 2zm0 3zm0 1zm0 1zm0 1zm0 2zm0 2zm0 1zm0 1zm0 2zm0 1zm0 1zm0 9zm0 3zm0 19zm1 -168zm0 6zm0 3zm0 9zm0 2zm0 1zm0 2zm0 1zm0 1zm0 2zm0 81zm0 1zm0 1zm0 2zm0 3zm0 1zm0 1zm0 1zm0 1zm0 4zm0 2zm0 4zm0 4zm0 2zm0 5zm0 3zm0 2zm0 16zm1 -166zm0 9zm0 4zm0 1zm0 4zm0 3zm0 1zm0 1zm0 1zm0 1zm0 3zm0 1zm0 1zm0 83zm0 1zm0 1zm0 2zm0 2zm0 1zm0 1zm0 1zm0 1zm0 1zm0 2zm0 2zm0 2zm0 2zm0 1zm0 2zm0 3zm0 2zm0 2zm0 17zm0 6zm0 8zm0 4zm1 -158zm0 4zm0 1zm0 1zm0 3zm0 1zm0 2zm0 1zm0 1zm0 81zm0 1zm0 1zm0 1zm0 1zm0 1zm0 1zm0 1zm0 1zm0 1zm0 1zm0 1zm0 1zm0 1zm0 2zm0 1zm0 4zm0 2zm0 1zm0 3zm0 1zm0 1zm0 1zm0 9zm0 10zm1 -160zm0 5zm0 4zm0 10zm0 5zm0 1zm0 1zm0 1zm0 1zm0 1zm0 2zm0 84zm0 1zm0 1zm0 1zm0 2zm0 4zm0 7zm0 1zm0 1zm0 3zm0 1zm0 2zm0 2zm0 3zm0 4zm0 12zm0 3zm0 5zm1 -159zm0 3zm0 3zm0 3zm0 2zm0 2zm0 2zm0 1zm0 1zm0 2zm0 1zm0 3zm0 82zm0 1zm0 1zm0 2zm0 1zm0 1zm0 2zm0 1zm0 1zm0 1zm0 1zm0 3zm0 1zm0 3zm0 2zm0 7zm0 2zm0 5zm0 5zm0 4zm0 13zm1 -169zm0 4zm0 4zm0 4zm0 4zm0 1zm0 2zm0 1zm0 1zm0 1zm0 1zm0 1zm0 1zm0 4zm0 2zm0 1zm0 81zm0 1zm0 1zm0 1zm0 1zm0 2zm0 2zm0 2zm0 1zm0 1zm0 2zm0 1zm0 1zm0 3zm0 1zm0 4zm0 2zm0 2zm0 20zm0 5zm1 -154zm0 4zm0 2zm0 2zm0 1zm0 1zm0 2zm0 4zm0 3zm0 1zm0 83zm0 1zm0 3zm0 1zm0 1zm0 1zm0 1zm0 1zm0 2zm0 3zm0 1zm0 1zm0 2zm0 2zm0 1zm0 1zm0 2zm0 1zm0 3zm0 4zm0 5zm0 2zm1 -150zm0 1zm0 5zm0 1zm0 8zm0 1zm0 2zm0 2zm0 3zm0 2zm0 1zm0 3zm0 1zm0 81zm0 1zm0 1zm0 2zm0 1zm0 1zm0 1zm0 3zm0 2zm0 3zm0 2zm0 2zm0 1zm0 3zm0 2zm0 1zm0 1zm0 1zm0 27zm1 -160zm0 3zm0 3zm0 4zm0 3zm0 1zm0 1zm0 1zm0 1zm0 1zm0 2zm0 2zm0 2zm0 83zm0 1zm0 2zm0 3zm0 1zm0 2zm0 2zm0 1zm0 1zm0 4zm0 1zm0 1zm0 5zm0 2zm0 1zm0 1zm0 4zm0 10zm0 6zm0 3zm1 -160zm0 3zm0 1zm0 1zm0 1zm0 4zm0 2zm0 1zm0 5zm0 3zm0 2zm0 1zm0 1zm0 1zm0 83zm0 2zm0 2zm0 3zm0 4zm0 1zm0 2zm0 1zm0 9zm0 2zm0 1zm0 4zm0 3zm1 -141zm0 3zm0 2zm0 4zm0 3zm0 1zm0 1zm0 2zm0 1zm0 3zm0 1zm0 1zm0 2zm0 2zm0 82zm0 1zm0 1zm0 1zm0 1zm0 1zm0 1zm0 1zm0 1zm0 2zm0 1zm0 1zm0 2zm0 3zm0 3zm0 2zm0 3zm0 1zm0 9zm0 4zm0 1zm0 4zm0 1zm0 2zm0 1zm0 17zm0 13zm1 -192zm0 2zm0 2zm0 10zm0 3zm0 1zm0 2zm0 3zm0 1zm0 1zm0 1zm0 1zm0 1zm0 1zm0 1zm0 1zm0 84zm0 1zm0 1zm0 1zm0 4zm0 1zm0 1zm0 1zm0 1zm0 3zm0 1zm0 5zm0 8zm0 2zm0 3zm0 1zm0 3zm0 4zm0 2zm0 2zm0 1zm0 1zm1 -158zm0 4zm0 2zm0 6zm0 4zm0 4zm0 1zm0 2zm0 2zm0 1zm0 1zm0 1zm0 1zm0 1zm0 83zm0 1zm0 1zm0 1zm0 1zm0 1zm0 2zm0 1zm0 5zm0 3zm0 2zm0 1zm0 2zm0 4zm0 1zm0 4zm0 2zm0 4zm0 2zm1 -138zm0 4zm0 1zm0 1zm0 1zm0 1zm0 1zm0 4zm0 1zm0 2zm0 1zm0 1zm0 82zm0 3zm0 3zm0 2zm0 1zm0 2zm0 1zm0 1zm0 2zm0 3zm0 1zm0 1zm0 5zm0 3zm0 4zm0 22zm1 -175zm0 12zm0 1zm0 3zm0 2zm0 6zm0 5zm0 1zm0 1zm0 1zm0 1zm0 1zm0 1zm0 1zm0 1zm0 1zm0 2zm0 82zm0 1zm0 1zm0 1zm0 1zm0 1zm0 1zm0 1zm0 1zm0 1zm0 1zm0 5zm0 1zm0 1zm0 1zm0 1zm0 1zm0 2zm0 6zm0 1zm0 13zm0 11zm1 -166zm0 6zm0 1zm0 13zm0 2zm0 2zm0 1zm0 1zm0 1zm0 1zm0 1zm0 1zm0 1zm0 1zm0 82zm0 1zm0 1zm0 1zm0 1zm0 1zm0 2zm0 1zm0 3zm0 3zm0 7zm0 1zm0 1zm0 2zm0 4zm0 1zm0 1zm0 17zm0 11zm1 -173zm0 9zm0 1zm0 2zm0 4zm0 2zm0 3zm0 2zm0 1zm0 1zm0 1zm0 2zm0 1zm0 3zm0 1zm0 82zm0 1zm0 1zm0 1zm0 1zm0 2zm0 1zm0 1zm0 2zm0 4zm0 3zm0 1zm0 1zm0 1zm0 1zm0 2zm0 1zm0 1zm0 17zm1 -179zm0 7zm0 7zm0 1zm0 16zm0 3zm0 2zm0 2zm0 4zm0 3zm0 1zm0 1zm0 1zm0 5zm0 2zm0 1zm0 82zm0 1zm0 1zm0 1zm0 2zm0 1zm0 2zm0 2zm0 4zm0 1zm0 2zm0 2zm0 2zm0 1zm0 36zm1 -181zm0 11zm0 5zm0 5zm0 3zm0 5zm0 1zm0 2zm0 3zm0 1zm0 3zm0 2zm0 1zm0 83zm0 1zm0 1zm0 2zm0 5zm0 1zm0 1zm0 1zm0 2zm0 1zm0 1zm0 2zm0 1zm0 3zm0 2zm0 6zm0 1zm0 16zm1 -169zm0 10zm0 4zm0 6zm0 11zm0 1zm0 1zm0 1zm0 1zm0 2zm0 1zm0 1zm0 1zm0 83zm0 1zm0 1zm0 1zm0 1zm0 1zm0 1zm0 2zm0 2zm0 1zm0 1zm0 1zm0 2zm0 1zm0 3zm0 2zm0 2zm0 4zm0 1zm0 7zm0 6zm0 2zm1 -148zm0 11zm0 3zm0 1zm0 1zm0 1zm0 1zm0 1zm0 3zm0 1zm0 82zm0 1zm0 1zm0 1zm0 1zm0 1zm0 2zm0 1zm0 1zm0 1zm0 1zm0 1zm0 1zm0 1zm0 6zm0 1zm0 2zm0 1zm0 1zm0 1zm1 -142zm0 9zm0 3zm0 1zm0 2zm0 1zm0 3zm0 2zm0 3zm0 1zm0 1zm0 4zm0 1zm0 1zm0 1zm0 84zm0 1zm0 3zm0 1zm0 1zm0 1zm0 2zm0 1zm0 2zm0 2zm0 1zm0 3zm0 3zm0 1zm0 9zm0 3zm0 22zm0 6zm1 -179zm0 9zm0 6zm0 2zm0 5zm0 2zm0 5zm0 1zm0 2zm0 2zm0 1zm0 1zm0 1zm0 80zm0 1zm0 1zm0 1zm0 1zm0 2zm0 1zm0 2zm0 1zm0 3zm0 3zm0 1zm0 4zm0 1zm0 1zm0 2zm0 3zm0 1zm0 2zm0 1zm0 1zm0 5zm0 1zm1 -150zm0 2zm0 4zm0 10zm0 5zm0 1zm0 1zm0 1zm0 2zm0 2zm0 3zm0 1zm0 80zm0 2zm0 2zm0 2zm0 1zm0 1zm0 1zm0 3zm0 1zm0 3zm0 2zm0 2zm0 3zm0 1zm0 2zm0 3zm0 1zm0 4zm0 17zm1 -166zm0 1zm0 3zm0 5zm0 6zm0 5zm0 1zm0 2zm0 1zm0 1zm0 3zm0 1zm0 1zm0 2zm0 1zm0 1zm0 1zm0 1zm0 81zm0 1zm0 1zm0 1zm0 1zm0 1zm0 1zm0 1zm0 1zm0 2zm0 2zm0 3zm0 1zm0 4zm0 5zm0 2zm0 2zm1 -153zm0 7zm0 1zm0 9zm0 1zm0 4zm0 2zm0 1zm0 1zm0 2zm0 1zm0 1zm0 2zm0 2zm0 1zm0 4zm0 3zm0 1zm0 1zm0 80zm0 1zm0 1zm0 1zm0 1zm0 1zm0 1zm0 1zm0 1zm0 1zm0 2zm0 2zm0 3zm0 1zm0 1zm0 1zm0 2zm0 1zm0 4zm0 2zm0 1zm0 10zm0 13zm1 -188zm0 18zm0 4zm0 6zm0 7zm0 2zm0 5zm0 2zm0 1zm0 1zm0 5zm0 2zm0 2zm0 1zm0 1zm0 80zm0 1zm0 1zm0 1zm0 2zm0 1zm0 2zm0 1zm0 4zm0 1zm0 2zm0 3zm0 1zm0 2zm0 2zm0 6zm0 1zm0 8zm1 -144zm0 7zm0 2zm0 6zm0 1zm0 3zm0 1zm0 1zm0 3zm0 1zm0 81zm0 1zm0 1zm0 1zm0 2zm0 2zm0 2zm0 2zm0 1zm0 1zm0 1zm0 1zm0 1zm0 1zm0 1zm0 1zm0 2zm0 1zm0 5zm0 1zm0 7zm0 7zm1 -148zm0 1zm0 5zm0 2zm0 2zm0 4zm0 2zm0 3zm0 2zm0 1zm0 1zm0 1zm0 1zm0 1zm0 1zm0 80zm0 3zm0 1zm0 1zm0 2zm0 1zm0 1zm0 1zm0 2zm0 2zm0 1zm0 2zm0 2zm0 5zm0 1zm0 2zm0 2zm0 2zm0 2zm0 10zm1 -183zm0 5zm0 20zm0 8zm0 1zm0 1zm0 1zm0 1zm0 5zm0 3zm0 2zm0 2zm0 1zm0 2zm0 5zm0 2zm0 1zm0 1zm0 80zm0 2zm0 1zm0 2zm0 1zm0 1zm0 1zm0 1zm0 2zm0 1zm0 2zm0 2zm0 1zm0 5zm0 3zm0 4zm0 6zm0 1zm0 1zm1 -186zm0 41zm0 8zm0 4zm0 3zm0 1zm0 1zm0 3zm0 3zm0 1zm0 1zm0 1zm0 1zm0 1zm0 80zm0 1zm0 1zm0 1zm0 1zm0 1zm0 1zm0 1zm0 1zm0 1zm0 1zm0 1zm0 6zm0 1zm0 2zm0 1zm1 -131zm0 3zm0 9zm0 3zm0 1zm0 3zm0 1zm0 1zm0 3zm0 3zm0 2zm0 1zm0 2zm0 79zm0 1zm0 1zm0 1zm0 3zm0 1zm0 2zm0 2zm0 1zm0 5zm0 1zm0 2zm0 9zm0 3zm0 3zm0 10zm1 -156zm0 13zm0 3zm0 5zm0 2zm0 1zm0 1zm0 7zm0 80zm0 1zm0 1zm0 1zm0 2zm0 1zm0 2zm0 1zm0 1zm0 1zm0 3zm0 2zm0 2zm0 1zm0 1zm0 1zm0 1zm0 4zm0 1zm0 3zm0 14zm0 7zm0 1zm1 -160zm0 7zm0 4zm0 2zm0 6zm0 1zm0 1zm0 2zm0 1zm0 1zm0 2zm0 1zm0 81zm0 1zm0 2zm0 1zm0 1zm0 1zm0 1zm0 1zm0 1zm0 1zm0 1zm0 1zm0 1zm0 2zm0 3zm0 1zm0 1zm0 4zm0 5zm1 -156zm0 22zm0 1zm0 7zm0 4zm0 1zm0 1zm0 3zm0 2zm0 2zm0 1zm0 1zm0 1zm0 1zm0 1zm0 80zm0 1zm0 1zm0 1zm0 3zm0 1zm0 1zm0 3zm0 1zm0 3zm0 1zm0 2zm0 1zm0 2zm0 10zm0 4zm0 2zm0 1zm1 -168zm0 20zm0 5zm0 2zm0 1zm0 1zm0 7zm0 1zm0 3zm0 1zm0 3zm0 1zm0 1zm0 3zm0 1zm0 1zm0 1zm0 78zm0 2zm0 3zm0 1zm0 4zm0 1zm0 2zm0 1zm0 2zm0 1zm0 6zm0 7zm0 1zm0 12zm0 1zm1 -175zm0 5zm0 12zm0 13zm0 1zm0 6zm0 1zm0 6zm0 1zm0 1zm0 4zm0 1zm0 1zm0 1zm0 1zm0 1zm0 77zm0 1zm0 1zm0 1zm0 1zm0 3zm0 1zm0 1zm0 2zm0 1zm0 3zm0 4zm0 1zm0 1zm0 2zm0 2zm1 -141zm0 6zm0 1zm0 6zm0 4zm0 6zm0 1zm0 1zm0 3zm0 1zm0 4zm0 4zm0 1zm0 1zm0 1zm0 77zm0 1zm0 1zm0 1zm0 1zm0 1zm0 1zm0 2zm0 1zm0 1zm0 1zm0 1zm0 4zm0 1zm0 1zm0 3zm0 2zm0 1zm0 12zm0 20zm1 -177zm0 3zm0 6zm0 7zm0 11zm0 4zm0 3zm0 1zm0 1zm0 1zm0 2zm0 1zm0 1zm0 1zm0 2zm0 1zm0 77zm0 1zm0 1zm0 1zm0 1zm0 1zm0 1zm0 1zm0 1zm0 3zm0 1zm0 2zm0 1zm0 2zm0 1zm0 1zm0 1zm0 2zm0 1zm0 6zm0 13zm0 9zm1 -201zm0 30zm0 16zm0 1zm0 6zm0 1zm0 3zm0 1zm0 3zm0 3zm0 2zm0 3zm0 1zm0 1zm0 1zm0 1zm0 1zm0 77zm0 2zm0 1zm0 1zm0 1zm0 2zm0 1zm0 2zm0 1zm0 1zm0 1zm0 1zm0 1zm0 1zm0 1zm0 1zm0 7zm0 1zm0 2zm0 1zm0 9zm0 7zm1 -167zm0 6zm0 10zm0 2zm0 3zm0 5zm0 2zm0 4zm0 3zm0 3zm0 1zm0 5zm0 2zm0 76zm0 1zm0 1zm0 1zm0 5zm0 2zm0 1zm0 1zm0 2zm0 1zm0 1zm0 1zm0 1zm0 1zm0 1zm0 2zm0 1zm0 3zm0 2zm0 6zm0 5zm1 -172zm0 26zm0 6zm0 7zm0 2zm0 2zm0 3zm0 1zm0 2zm0 2zm0 1zm0 2zm0 1zm0 1zm0 1zm0 1zm0 76zm0 1zm0 1zm0 2zm0 2zm0 2zm0 1zm0 1zm0 4zm0 2zm0 2zm0 1zm0 1zm0 1zm0 1zm0 7zm0 1zm0 4zm0 4zm1 -168zm0 1zm0 19zm0 20zm0 1zm0 2zm0 1zm0 1zm0 3zm0 1zm0 1zm0 1zm0 1zm0 1zm0 1zm0 78zm0 1zm0 2zm0 1zm0 3zm0 7zm0 1zm0 2zm0 1zm0 6zm0 13zm1 -165zm0 11zm0 2zm0 6zm0 5zm0 1zm0 1zm0 2zm0 7zm0 5zm0 4zm0 1zm0 1zm0 1zm0 1zm0 1zm0 1zm0 1zm0 1zm0 76zm0 3zm0 1zm0 1zm0 4zm0 1zm0 1zm0 1zm0 1zm0 4zm0 2zm0 1zm0 1zm0 1zm0 14zm0 20zm1 -188zm0 10zm0 9zm0 5zm0 1zm0 13zm0 7zm0 2zm0 1zm0 1zm0 2zm0 2zm0 1zm0 1zm0 1zm0 1zm0 76zm0 4zm0 1zm0 1zm0 1zm0 4zm0 1zm0 5zm0 1zm0 1zm0 1zm0 3zm0 6zm0 1zm0 11zm0 11zm1 -192zm0 23zm0 1zm0 6zm0 7zm0 5zm0 4zm0 1zm0 1zm0 1zm0 1zm0 5zm0 2zm0 1zm0 1zm0 2zm0 1zm0 1zm0 79zm0 1zm0 2zm0 1zm0 2zm0 4zm0 1zm0 1zm0 3zm0 2zm0 3zm0 4zm0 2zm0 5zm0 2zm0 26zm1 -189zm0 11zm0 8zm0 3zm0 10zm0 2zm0 2zm0 2zm0 1zm0 4zm0 1zm0 1zm0 1zm0 1zm0 3zm0 1zm0 1zm0 1zm0 1zm0 75zm0 1zm0 1zm0 1zm0 1zm0 1zm0 3zm0 1zm0 3zm0 1zm0 2zm0 2zm0 1zm0 2zm0 1zm0 1zm0 2zm0 2zm0 4zm0 12zm1 -198zm0 41zm0 7zm0 3zm0 2zm0 1zm0 5zm0 2zm0 2zm0 3zm0 3zm0 4zm0 2zm0 1zm0 3zm0 1zm0 77zm0 1zm0 2zm0 1zm0 1zm0 1zm0 2zm0 4zm0 1zm0 1zm0 3zm0 2zm0 1zm0 2zm0 1zm0 6zm0 3zm0 1zm1 -147zm0 2zm0 18zm0 3zm0 1zm0 1zm0 2zm0 2zm0 1zm0 1zm0 5zm0 1zm0 1zm0 1zm0 1zm0 75zm0 1zm0 3zm0 1zm0 1zm0 1zm0 4zm0 4zm0 1zm0 1zm0 5zm0 1zm0 2zm0 5zm0 9zm1 -195zm0 17zm0 23zm0 13zm0 7zm0 2zm0 2zm0 1zm0 4zm0 4zm0 1zm0 1zm0 1zm0 1zm0 1zm0 1zm0 3zm0 76zm0 1zm0 1zm0 3zm0 1zm0 4zm0 2zm0 1zm0 6zm0 2zm0 2zm0 2zm1 -156zm0 11zm0 2zm0 10zm0 6zm0 6zm0 4zm0 2zm0 3zm0 3zm0 1zm0 1zm0 1zm0 1zm0 1zm0 1zm0 3zm0 76zm0 1zm0 3zm0 1zm0 1zm0 1zm0 1zm0 4zm0 1zm0 1zm0 6zm0 1zm0 3zm0 2zm1 -137zm0 5zm0 6zm0 1zm0 4zm0 7zm0 3zm0 1zm0 1zm0 1zm0 1zm0 1zm0 2zm0 1zm0 1zm0 1zm0 75zm0 1zm0 1zm0 1zm0 1zm0 1zm0 3zm0 2zm0 1zm0 2zm0 1zm0 1zm0 1zm0 2zm0 4zm0 2zm0 3zm1 -149zm0 12zm0 6zm0 1zm0 13zm0 2zm0 3zm0 1zm0 3zm0 2zm0 1zm0 1zm0 1zm0 2zm0 75zm0 1zm0 1zm0 3zm0 1zm0 1zm0 2zm0 3zm0 2zm0 1zm0 1zm0 1zm0 1zm0 4zm0 9zm0 4zm0 3zm1 -178zm0 8zm0 23zm0 5zm0 1zm0 1zm0 3zm0 7zm0 2zm0 4zm0 1zm0 2zm0 2zm0 3zm0 1zm0 1zm0 1zm0 1zm0 74zm0 1zm0 2zm0 1zm0 1zm0 1zm0 1zm0 2zm0 1zm0 4zm0 3zm0 2zm0 1zm1 -164zm0 22zm0 11zm0 5zm0 1zm0 1zm0 6zm0 3zm0 2zm0 2zm0 2zm0 3zm0 2zm0 2zm0 1zm0 1zm0 1zm0 1zm0 2zm0 2zm0 1zm0 74zm0 1zm0 2zm0 1zm0 1zm0 3zm0 1zm0 2zm0 3zm0 1zm0 12zm0 2zm0 9zm1 -168zm0 17zm0 12zm0 2zm0 2zm0 4zm0 1zm0 10zm0 1zm0 1zm0 1zm0 2zm0 78zm0 3zm0 3zm0 1zm0 1zm0 1zm0 5zm0 3zm0 1zm0 1zm0 3zm0 1zm0 2zm0 15zm1 -173zm0 6zm0 10zm0 12zm0 3zm0 2zm0 2zm0 9zm0 1zm0 2zm0 1zm0 1zm0 2zm0 3zm0 1zm0 3zm0 1zm0 75zm0 1zm0 2zm0 1zm0 1zm0 1zm0 1zm0 1zm0 4zm0 1zm0 1zm0 4zm0 5zm0 3zm0 2zm0 2zm0 8zm1 -181zm0 18zm0 21zm0 5zm0 4zm0 3zm0 2zm0 3zm0 2zm0 3zm0 1zm0 2zm0 2zm0 1zm0 3zm0 73zm0 1zm0 1zm0 1zm0 1zm0 1zm0 1zm0 1zm0 2zm0 1zm0 1zm0 1zm0 1zm0 6zm0 3zm0 1zm0 6zm0 2zm0 5zm1 -178zm0 43zm0 2zm0 1zm0 4zm0 1zm0 2zm0 4zm0 1zm0 1zm0 2zm0 3zm0 1zm0 1zm0 1zm0 1zm0 75zm0 1zm0 1zm0 1zm0 2zm0 1zm0 2zm0 1zm0 2zm0 3zm0 2zm0 4zm0 3zm0 4zm0 2zm0 2zm0 15zm1 -151zm0 10zm0 3zm0 2zm0 1zm0 3zm0 3zm0 1zm0 3zm0 3zm0 1zm0 3zm0 73zm0 1zm0 1zm0 1zm0 1zm0 1zm0 1zm0 1zm0 1zm0 5zm0 4zm0 1zm0 1zm0 2zm0 4zm0 6zm0 9zm1 -187zm0 19zm0 9zm0 1zm0 5zm0 3zm0 4zm0 3zm0 9zm0 1zm0 2zm0 2zm0 1zm0 1zm0 1zm0 1zm0 2zm0 1zm0 4zm0 1zm0 2zm0 1zm0 1zm0 73zm0 1zm0 1zm0 2zm0 2zm0 1zm0 2zm0 1zm0 1zm0 1zm0 1zm0 1zm0 1zm0 2zm0 1zm0 2zm0 1zm0 1zm0 3zm0 3zm0 8zm0 1zm1 -183zm0 20zm0 5zm0 10zm0 6zm0 14zm0 1zm0 1zm0 1zm0 3zm0 5zm0 1zm0 3zm0 1zm0 1zm0 1zm0 1zm0 74zm0 1zm0 2zm0 1zm0 1zm0 1zm0 1zm0 3zm0 2zm0 1zm0 2zm0 4zm0 1zm0 1zm0 3zm0 4zm0 9zm1 -144zm0 2zm0 3zm0 1zm0 2zm0 3zm0 1zm0 2zm0 8zm0 1zm0 1zm0 3zm0 3zm0 1zm0 2zm0 1zm0 1zm0 72zm0 1zm0 4zm0 1zm0 1zm0 1zm0 2zm0 1zm0 1zm0 1zm0 8zm0 4zm0 5zm0 7zm1 -172zm0 29zm0 9zm0 2zm0 7zm0 8zm0 1zm0 1zm0 1zm0 2zm0 1zm0 1zm0 2zm0 72zm0 1zm0 1zm0 6zm0 5zm0 7zm0 4zm0 4zm1 -136zm0 3zm0 3zm0 3zm0 1zm0 2zm0 1zm0 1zm0 2zm0 1zm0 3zm0 1zm0 1zm0 1zm0 1zm0 2zm0 1zm0 1zm0 1zm0 1zm0 3zm0 2zm0 1zm0 1zm0 71zm0 6zm0 4zm0 6zm0 2zm0 3zm0 9zm0 4zm1 -186zm0 15zm0 27zm0 9zm0 1zm0 1zm0 2zm0 1zm0 2zm0 5zm0 4zm0 1zm0 1zm0 3zm0 1zm0 1zm0 1zm0 2zm0 3zm0 1zm0 1zm0 71zm0 1zm0 1zm0 4zm0 1zm0 2zm0 1zm0 1zm0 2zm0 2zm0 6zm0 5zm1 -146zm0 4zm0 4zm0 2zm0 11zm0 6zm0 2zm0 6zm0 2zm0 5zm0 1zm0 1zm0 1zm0 1zm0 1zm0 1zm0 1zm0 1zm0 73zm0 1zm0 2zm0 3zm0 1zm0 5zm0 1zm0 2zm0 1zm0 8zm0 2zm0 9zm1 -161zm0 9zm0 2zm0 2zm0 2zm0 4zm0 11zm0 1zm0 4zm0 1zm0 2zm0 1zm0 2zm0 2zm0 1zm0 1zm0 2zm0 1zm0 3zm0 1zm0 1zm0 72zm0 5zm0 1zm0 1zm0 1zm0 4zm0 2zm0 2zm0 1zm0 2zm0 2zm0 1zm0 1zm1 -124zm0 5zm0 5zm0 1zm0 1zm0 3zm0 3zm0 2zm0 2zm0 2zm0 5zm0 1zm0 1zm0 70zm0 1zm0 1zm0 1zm0 2zm0 1zm0 1zm0 1zm0 11zm0 9zm1 -157zm0 20zm0 1zm0 1zm0 8zm0 9zm0 1zm0 2zm0 1zm0 1zm0 1zm0 2zm0 2zm0 1zm0 1zm0 2zm0 1zm0 2zm0 2zm0 1zm0 1zm0 72zm0 2zm0 2zm0 1zm0 4zm0 4zm0 5zm0 2zm0 3zm1 -142zm0 8zm0 10zm0 4zm0 7zm0 1zm0 10zm0 1zm0 1zm0 1zm0 1zm0 1zm0 1zm0 1zm0 71zm0 1zm0 2zm0 2zm0 1zm0 1zm0 3zm0 6zm0 7zm1 -138zm0 8zm0 6zm0 4zm0 2zm0 1zm0 11zm0 3zm0 1zm0 2zm0 1zm0 2zm0 1zm0 1zm0 1zm0 1zm0 1zm0 1zm0 71zm0 1zm0 2zm0 2zm0 3zm0 1zm0 1zm0 2zm0 2zm0 4zm0 3zm1 -149zm0 1zm0 9zm0 5zm0 4zm0 3zm0 3zm0 2zm0 1zm0 5zm0 5zm0 9zm0 2zm0 2zm0 2zm0 1zm0 1zm0 1zm0 1zm0 1zm0 68zm0 1zm0 1zm0 1zm0 1zm0 2zm0 3zm0 10zm0 1zm0 6zm1 -139zm0 8zm0 3zm0 6zm0 12zm0 4zm0 1zm0 4zm0 1zm0 1zm0 4zm0 1zm0 1zm0 68zm0 2zm0 3zm0 1zm0 2zm0 2zm0 1zm0 5zm0 6zm0 3zm1 -167zm0 19zm0 8zm0 6zm0 6zm0 4zm0 2zm0 4zm0 1zm0 1zm0 3zm0 5zm0 3zm0 1zm0 7zm0 2zm0 2zm0 1zm0 68zm0 3zm0 3zm0 1zm0 7zm0 8zm1 -157zm0 35zm0 1zm0 6zm0 4zm0 1zm0 5zm0 1zm0 3zm0 1zm0 1zm0 2zm0 2zm0 1zm0 1zm0 1zm0 3zm0 1zm0 66zm0 1zm0 1zm0 1zm0 4zm0 2zm0 1zm0 1zm0 2zm0 5zm0 7zm1 -158zm0 28zm0 8zm0 2zm0 2zm0 7zm0 4zm0 3zm0 4zm0 2zm0 1zm0 1zm0 1zm0 1zm0 2zm0 2zm0 1zm0 65zm0 2zm0 1zm0 4zm0 1zm0 1zm0 1zm0 1zm0 1zm1 -169zm0 35zm0 3zm0 11zm0 2zm0 4zm0 4zm0 3zm0 5zm0 3zm0 1zm0 4zm0 2zm0 2zm0 3zm0 1zm0 3zm0 1zm0 1zm0 2zm0 67zm0 1zm0 1zm0 2zm0 2zm0 1zm0 2zm0 3zm0 2zm0 6zm0 4zm0 5zm1 -149zm0 5zm0 1zm0 2zm0 1zm0 7zm0 13zm0 2zm0 3zm0 1zm0 8zm0 1zm0 2zm0 3zm0 1zm0 1zm0 1zm0 3zm0 1zm0 1zm0 1zm0 63zm0 2zm0 1zm0 4zm0 2zm0 5zm0 8zm1 -150zm0 23zm0 14zm0 2zm0 1zm0 2zm0 8zm0 1zm0 1zm0 4zm0 1zm0 1zm0 2zm0 1zm0 2zm0 1zm0 2zm0 63zm0 2zm0 1zm0 5zm0 13zm1 -131zm0 14zm0 2zm0 5zm0 2zm0 2zm0 1zm0 6zm0 4zm0 1zm0 3zm0 3zm0 1zm0 2zm0 1zm0 1zm0 62zm0 1zm0 1zm0 5zm0 2zm0 1zm0 1zm0 2zm0 3zm0 6zm1 -169zm0 24zm0 35zm0 1zm0 6zm0 5zm0 2zm0 2zm0 1zm0 1zm0 2zm0 1zm0 1zm0 2zm0 1zm0 1zm0 1zm0 61zm0 1zm0 1zm0 2zm0 4zm0 5zm0 1zm0 24zm1 -134zm0 8zm0 2zm0 8zm0 1zm0 4zm0 4zm0 1zm0 2zm0 2zm0 1zm0 1zm0 1zm0 1zm0 61zm0 1zm0 2zm0 1zm0 3zm0 6zm1 -105zm0 1zm0 6zm0 8zm0 1zm0 2zm0 3zm0 3zm0 6zm0 1zm0 1zm0 1zm0 60zm0 1zm0 2zm0 4zm0 3zm0 3zm0 6zm1 -161zm0 26zm0 22zm0 9zm0 5zm0 1zm0 1zm0 4zm0 5zm0 2zm0 1zm0 2zm0 1zm0 1zm0 1zm0 1zm0 1zm0 1zm0 1zm0 57zm0 1zm0 1zm0 1zm0 1zm0 5zm0 3zm0 8zm1 -122zm0 10zm0 14zm0 1zm0 6zm0 3zm0 1zm0 1zm0 2zm0 1zm0 1zm0 2zm0 1zm0 1zm0 2zm0 56zm0 1zm0 1zm0 1zm0 1zm0 2zm0 5zm0 1zm0 2zm0 3zm1 -103zm0 6zm0 1zm0 1zm0 1zm0 5zm0 3zm0 3zm0 1zm0 4zm0 2zm0 1zm0 4zm0 55zm0 1zm0 1zm0 4zm0 3zm1 -114zm0 8zm0 14zm0 5zm0 4zm0 1zm0 4zm0 5zm0 4zm0 2zm0 1zm0 1zm0 2zm0 1zm0 55zm0 3zm0 1zm0 1zm0 4zm1 -106zm0 10zm0 11zm0 6zm0 3zm0 2zm0 3zm0 1zm0 3zm0 1zm0 2zm0 2zm0 52zm0 2zm0 2zm0 1zm0 3zm0 1zm0 1zm0 3zm0 4zm1 -97zm0 3zm0 7zm0 5zm0 9zm0 1zm0 1zm0 1zm0 2zm0 1zm0 50zm0 1zm0 1zm0 1zm0 7zm0 1zm1 -106zm0 16zm0 9zm0 2zm0 2zm0 1zm0 4zm0 1zm0 2zm0 1zm0 4zm0 1zm0 1zm0 1zm0 51zm0 2zm0 2zm0 5zm0 1zm0 9zm1 -129zm0 20zm0 2zm0 6zm0 2zm0 11zm0 3zm0 2zm0 6zm0 2zm0 1zm0 2zm0 1zm0 2zm0 1zm0 49zm0 3zm0 2zm0 2zm0 3zm0 4zm0 4zm1 -133zm0 33zm0 2zm0 6zm0 14zm0 3zm0 1zm0 3zm0 2zm0 2zm0 3zm0 47zm0 3zm0 1zm0 1zm0 2zm0 6zm0 1zm1 -130zm0 20zm0 5zm0 6zm0 6zm0 4zm0 1zm0 2zm0 11zm0 2zm0 4zm0 2zm0 6zm0 1zm0 46zm0 1zm0 1zm0 3zm0 4zm0 3zm0 2zm1 -120zm0 1zm0 1zm0 14zm0 6zm0 1zm0 6zm0 8zm0 2zm0 5zm0 5zm0 3zm0 1zm0 8zm0 1zm0 45zm0 1zm0 2zm0 1zm0 1zm0 2zm0 1zm0 4zm0 3zm0 5zm1 -108zm0 9zm0 8zm0 5zm0 3zm0 1zm0 2zm0 2zm0 5zm0 3zm0 1zm0 1zm0 2zm0 1zm0 1zm0 44zm0 1zm0 1zm0 1zm0 6zm0 2zm1 -93zm0 2zm0 1zm0 1zm0 8zm0 9zm0 3zm0 2zm0 1zm0 2zm0 3zm0 1zm0 4zm0 1zm0 1zm0 1zm0 43zm0 1zm0 1zm0 1zm0 1zm0 1zm0 4zm0 11zm1 -101zm0 4zm0 1zm0 2zm0 3zm0 4zm0 4zm0 4zm0 3zm0 6zm0 2zm0 1zm0 1zm0 1zm0 1zm0 1zm0 1zm0 1zm0 41zm0 4zm0 4zm0 4zm0 3zm1 -131zm0 9zm0 18zm0 7zm0 4zm0 5zm0 10zm0 6zm0 3zm0 1zm0 2zm0 1zm0 2zm0 3zm0 2zm0 3zm0 41zm0 2zm0 1zm0 1zm0 1zm0 1zm0 1zm0 4zm1 -82zm0 1zm0 12zm0 1zm0 1zm0 1zm0 1zm0 9zm0 3zm0 1zm0 1zm0 1zm0 40zm0 1zm0 1zm0 1zm0 1zm0 8zm0 3zm0 10zm1 -113zm0 22zm0 3zm0 6zm0 3zm0 1zm0 2zm0 2zm0 1zm0 1zm0 3zm0 1zm0 1zm0 1zm0 1zm0 1zm0 39zm0 1zm0 1zm0 1zm0 1zm0 1zm0 2zm0 1zm0 2zm1 -90zm0 4zm0 5zm0 2zm0 6zm0 2zm0 1zm0 1zm0 1zm0 1zm0 2zm0 3zm0 6zm0 1zm0 1zm0 2zm0 1zm0 1zm0 1zm0 1zm0 1zm0 38zm0 1zm0 1zm0 1zm1 -106zm0 27zm0 9zm0 1zm0 8zm0 5zm0 1zm0 1zm0 1zm0 1zm0 3zm0 1zm0 1zm0 3zm0 2zm0 1zm0 1zm0 39zm0 2zm0 1zm0 4zm0 2zm0 5zm1 -96zm0 19zm0 15zm0 1zm0 2zm0 3zm0 1zm0 1zm0 1zm0 2zm0 36zm0 1zm0 1zm0 3zm0 3zm0 5zm1 -96zm0 10zm0 7zm0 10zm0 1zm0 9zm0 7zm0 1zm0 1zm0 2zm0 1zm0 35zm0 2zm1 -63zm0 7zm0 4zm0 2zm0 1zm0 4zm0 2zm0 2zm0 3zm0 1zm0 1zm0 36zm0 1zm0 1zm0 1zm0 6zm0 6zm1 -81zm0 1zm0 1zm0 1zm0 2zm0 6zm0 1zm0 3zm0 6zm0 5zm0 1zm0 1zm0 1zm0 1zm0 1zm0 34zm0 1zm0 1zm0 1zm0 3zm0 1zm0 4zm1 -72zm0 4zm0 3zm0 2zm0 1zm0 1zm0 1zm0 2zm0 8zm0 1zm0 1zm0 3zm0 1zm0 37zm0 1zm0 5zm1 -67zm0 3zm0 2zm0 12zm0 3zm0 1zm0 1zm0 1zm0 1zm0 1zm0 1zm0 1zm0 31zm0 1zm0 1zm0 1zm0 2zm0 1zm0 7zm0 6zm1 -92zm0 19zm0 1zm0 1zm0 11zm0 3zm0 1zm0 3zm0 3zm0 32zm0 1zm0 1zm0 1zm0 2zm0 13zm1 -102zm0 27zm0 6zm0 2zm0 4zm0 1zm0 4zm0 3zm0 5zm0 1zm0 1zm0 1zm0 31zm0 1zm0 2zm0 3zm0 1zm0 4zm1 -62zm0 3zm0 4zm0 1zm0 1zm0 2zm0 6zm0 1zm0 1zm0 1zm0 30zm0 2zm0 3zm0 1zm0 5zm0 4zm1 -74zm0 5zm0 13zm0 3zm0 3zm0 1zm0 1zm0 2zm0 2zm0 1zm0 1zm0 28zm0 1zm0 1zm0 1zm0 1zm1 -66zm0 9zm0 4zm0 7zm0 3zm0 3zm0 7zm0 1zm0 1zm0 28zm0 1zm0 4zm0 8zm1 -80zm0 9zm0 5zm0 12zm0 2zm0 2zm0 1zm0 2zm0 1zm0 2zm0 4zm0 1zm0 29zm0 1zm1 -93zm0 24zm0 22zm0 1zm0 3zm0 2zm0 2zm0 2zm0 1zm0 2zm0 3zm0 2zm0 27zm0 2zm0 1zm1 -56zm0 2zm0 11zm0 8zm0 2zm0 30zm0 5zm0 3zm0 1zm0 1zm1 -65zm0 12zm0 3zm0 5zm0 7zm0 1zm0 1zm0 2zm0 24zm0 1zm1 -51zm0 1zm0 7zm0 1zm0 2zm0 2zm0 3zm0 1zm0 5zm0 1zm0 1zm0 2zm0 1zm0 24zm0 2zm0 8zm1 -75zm0 17zm0 6zm0 2zm0 1zm0 6zm0 2zm0 2zm0 1zm0 2zm0 1zm0 1zm0 2zm0 23zm0 2zm0 3zm0 4zm0 2zm1 -90zm0 17zm0 9zm0 2zm0 6zm0 4zm0 8zm0 2zm0 5zm0 1zm0 1zm0 2zm0 23zm0 3zm1 -87zm0 19zm0 11zm0 8zm0 2zm0 3zm0 1zm0 1zm0 3zm0 4zm0 2zm0 2zm0 2zm0 2zm0 2zm0 1zm0 21zm0 1zm1 -65zm0 27zm0 2zm0 2zm0 1zm0 3zm0 2zm0 2zm0 3zm0 2zm0 20zm0 4zm0 2zm1 -51zm0 8zm0 7zm0 8zm0 1zm0 1zm0 21zm0 4zm0 8zm1 -77zm0 18zm0 24zm0 1zm0 3zm0 1zm0 19zm0 1zm0 1zm0 1zm0 1zm0 3zm1 -92zm0 39zm0 5zm0 3zm0 10zm0 1zm0 3zm0 2zm0 2zm0 1zm0 1zm0 19zm1 -46zm0 2zm0 2zm0 6zm0 4zm0 5zm0 5zm0 3zm0 1zm0 1zm0 17zm0 2zm0 3zm1 -46zm0 2zm0 4zm0 7zm0 3zm0 4zm0 1zm0 2zm0 1zm0 18zm0 3zm0 3zm0 1zm1 -48zm0 6zm0 9zm0 2zm0 2zm0 1zm0 1zm0 2zm0 1zm0 1zm0 1zm0 15zm0 1zm0 3zm1 -46zm0 7zm0 1zm0 1zm0 4zm0 1zm0 3zm0 4zm0 1zm0 1zm0 2zm0 3zm0 1zm1 -37zm0 10zm0 12zm0 3zm0 2zm0 1zm0 7zm0 2zm0 14zm0 3zm0 1zm1 -57zm0 3zm0 17zm0 5zm0 2zm0 2zm0 11zm0 14zm0 2zm0 1zm1 -58zm0 29zm0 2zm0 7zm0 4zm0 3zm0 11zm0 2zm0 5zm1 -75zm0 48zm0 2zm0 6zm0 2zm0 10zm0 1zm0 2zm0 1zm0 4zm1 -50zm0 22zm0 1zm0 1zm0 1zm0 3zm0 1zm0 1zm0 1zm0 1zm0 1zm0 1zm0 11zm1 -44zm0 6zm0 18zm0 3zm0 3zm0 17zm1 -47zm0 20zm0 6zm0 2zm0 2zm0 1zm0 1zm0 3zm0 1zm1 -33zm0 22zm0 4zm0 3zm0 3zm0 1zm0 1zm0 1zm0 7zm0 1zm1 -20zm0 2zm0 1zm0 4zm0 4zm0 1zm0 7zm0 1zm0 1zm0 3zm1 -27zm0 9zm0 1zm0 2zm0 1zm0 1zm0 4zm0 4zm0 1zm0 3zm1 -32zm0 16zm0 5zm0 1zm0 1zm0 1zm0 1zm0 4zm1 -17zm0 6zm0 4zm0 1zm0 1zm0 1zm0 1zm0 1zm0 3zm1 -4zm0 2zm0 4zm1 -8zm0 5zm0 1z" stroke="#2222f5" stroke-width="1.05" stroke-linecap="square" vector-effect="non-scaling-stroke" fill="none"/>
</g>
<rect x="489.3" y="9.8" width="176.7" height="185.5" fill="none" stroke="#9a9a9a" stroke-width="0.85"/>
<path d="M489.3 195.3v-1.8M489.3 9.8v1.8M489.3 195.3h1.8M666 195.3h-1.8M523.3 195.3v-1.8M523.3 9.8v1.8M489.3 159.6h1.8M666 159.6h-1.8M557.3 195.3v-1.8M557.3 9.8v1.8M489.3 124h1.8M666 124h-1.8M591.2 195.3v-1.8M591.2 9.8v1.8M489.3 88.3h1.8M666 88.3h-1.8M625.2 195.3v-1.8M625.2 9.8v1.8M489.3 52.6h1.8M666 52.6h-1.8M659.2 195.3v-1.8M659.2 9.8v1.8M489.3 16.9h1.8M666 16.9h-1.8" stroke="#777" stroke-width="0.8" fill="none"/>
<g font-family="'Liberation Sans', Arial, sans-serif" font-size="7.3" fill="#4a4a4a">
<text x="489" y="206.3" text-anchor="middle" textLength="3.1" lengthAdjust="spacingAndGlyphs">0</text>
<text x="487.4" y="198.6" text-anchor="end" textLength="3.1" lengthAdjust="spacingAndGlyphs">0</text>
<text x="523" y="206.3" text-anchor="middle" textLength="6.1" lengthAdjust="spacingAndGlyphs">50</text>
<text x="487.4" y="162.9" text-anchor="end" textLength="6.1" lengthAdjust="spacingAndGlyphs">50</text>
<text x="557" y="206.3" text-anchor="middle" textLength="9.2" lengthAdjust="spacingAndGlyphs">100</text>
<text x="487.4" y="127.3" text-anchor="end" textLength="9.2" lengthAdjust="spacingAndGlyphs">100</text>
<text x="590.9" y="206.3" text-anchor="middle" textLength="9.2" lengthAdjust="spacingAndGlyphs">150</text>
<text x="487.4" y="91.6" text-anchor="end" textLength="9.2" lengthAdjust="spacingAndGlyphs">150</text>
<text x="624.9" y="206.3" text-anchor="middle" textLength="9.2" lengthAdjust="spacingAndGlyphs">200</text>
<text x="487.4" y="55.9" text-anchor="end" textLength="9.2" lengthAdjust="spacingAndGlyphs">200</text>
<text x="658.9" y="206.3" text-anchor="middle" textLength="9.2" lengthAdjust="spacingAndGlyphs">250</text>
<text x="487.4" y="20.2" text-anchor="end" textLength="9.2" lengthAdjust="spacingAndGlyphs">250</text>
</g>
<text x="512.4" y="6.9" font-family="'Liberation Sans', Arial, sans-serif" font-size="7.7" fill="#111" textLength="130.8" lengthAdjust="spacingAndGlyphs">Row Correlation of the Original Image G Channel</text>
<path d="M60.3 288.3V474.7M26.3 438.9H203M94.3 288.3V474.7M26.3 403H203M128.2 288.3V474.7M26.3 367.2H203M162.2 288.3V474.7M26.3 331.3H203M196.2 288.3V474.7M26.3 295.5H203" stroke="#efefef" stroke-width="0.8" fill="none"/>
<rect x="26.3" y="288.3" width="176.7" height="186.4" fill="none" stroke="#9a9a9a" stroke-width="0.85"/>
<path d="M26.3 474.7v-1.8M26.3 288.3v1.8M26.3 474.7h1.8M203 474.7h-1.8M60.3 474.7v-1.8M60.3 288.3v1.8M26.3 438.9h1.8M203 438.9h-1.8M94.3 474.7v-1.8M94.3 288.3v1.8M26.3 403h1.8M203 403h-1.8M128.2 474.7v-1.8M128.2 288.3v1.8M26.3 367.2h1.8M203 367.2h-1.8M162.2 474.7v-1.8M162.2 288.3v1.8M26.3 331.3h1.8M203 331.3h-1.8M196.2 474.7v-1.8M196.2 288.3v1.8M26.3 295.5h1.8M203 295.5h-1.8" stroke="#777" stroke-width="0.8" fill="none"/>
<rect x="26" y="291.4" width="174.2" height="183.4" fill="#2020f5"/>
<path d="M27.2 291.4V474.8M31.3 291.4V474.8M35.4 291.4V474.8M39.5 291.4V474.8M43.6 291.4V474.8M47.7 291.4V474.8M51.8 291.4V474.8M55.9 291.4V474.8M60 291.4V474.8M64.1 291.4V474.8M68.2 291.4V474.8M72.3 291.4V474.8M76.4 291.4V474.8M80.5 291.4V474.8M84.6 291.4V474.8M88.7 291.4V474.8M92.8 291.4V474.8M96.9 291.4V474.8M101 291.4V474.8M105.1 291.4V474.8M109.2 291.4V474.8M113.3 291.4V474.8M117.4 291.4V474.8M121.5 291.4V474.8M125.6 291.4V474.8M129.7 291.4V474.8M133.8 291.4V474.8M137.9 291.4V474.8M142 291.4V474.8M146.1 291.4V474.8M150.2 291.4V474.8M154.3 291.4V474.8M158.4 291.4V474.8M162.5 291.4V474.8M166.6 291.4V474.8M170.7 291.4V474.8M174.8 291.4V474.8M178.9 291.4V474.8M183 291.4V474.8M187.1 291.4V474.8M191.2 291.4V474.8M195.3 291.4V474.8" stroke="#4a4af8" stroke-width="0.7" opacity="0.55" fill="none"/>
<path d="M185.9 395.4h.9M194.8 367.2h.9M58.3 372.9h.9M196.7 467h.9M143.8 354.6h.9M93.7 398.6h.9M167.1 361h.9M42.6 302.3h.9M51.7 313.1h.9M110.2 371.2h.9M103.5 380.7h.9M28.7 313.8h.9M148.3 439.5h.9M87.6 347.6h.9M105.1 308.9h.9M127.5 374.8h.9M105.4 354.3h.9M182.6 390.3h.9" stroke="#8c8cf6" stroke-width="0.9" fill="none"/>
<g font-family="'Liberation Sans', Arial, sans-serif" font-size="7.3" fill="#4a4a4a">
<text x="26" y="484.6" text-anchor="middle" textLength="3.1" lengthAdjust="spacingAndGlyphs">0</text>
<text x="24.4" y="477.3" text-anchor="end" textLength="3.1" lengthAdjust="spacingAndGlyphs">0</text>
<text x="60" y="484.6" text-anchor="middle" textLength="6.1" lengthAdjust="spacingAndGlyphs">50</text>
<text x="24.4" y="441.5" text-anchor="end" textLength="6.1" lengthAdjust="spacingAndGlyphs">50</text>
<text x="94" y="484.6" text-anchor="middle" textLength="9.2" lengthAdjust="spacingAndGlyphs">100</text>
<text x="24.4" y="405.6" text-anchor="end" textLength="9.2" lengthAdjust="spacingAndGlyphs">100</text>
<text x="127.9" y="484.6" text-anchor="middle" textLength="9.2" lengthAdjust="spacingAndGlyphs">150</text>
<text x="24.4" y="369.8" text-anchor="end" textLength="9.2" lengthAdjust="spacingAndGlyphs">150</text>
<text x="161.9" y="484.6" text-anchor="middle" textLength="9.2" lengthAdjust="spacingAndGlyphs">200</text>
<text x="24.4" y="333.9" text-anchor="end" textLength="9.2" lengthAdjust="spacingAndGlyphs">200</text>
<text x="195.9" y="484.6" text-anchor="middle" textLength="9.2" lengthAdjust="spacingAndGlyphs">250</text>
<text x="24.4" y="298.1" text-anchor="end" textLength="9.2" lengthAdjust="spacingAndGlyphs">250</text>
</g>
<text x="46.9" y="284.9" font-family="'Liberation Sans', Arial, sans-serif" font-size="7.7" fill="#111" textLength="135.2" lengthAdjust="spacingAndGlyphs">Row Correlation of the Encrypted Image G Channel</text>
<path d="M288.5 288.3V474.7M254.5 438.9H431.5M322.6 288.3V474.7M254.5 403H431.5M356.6 288.3V474.7M254.5 367.2H431.5M390.7 288.3V474.7M254.5 331.3H431.5M424.7 288.3V474.7M254.5 295.5H431.5" stroke="#efefef" stroke-width="0.8" fill="none"/>
<rect x="254.5" y="288.3" width="177" height="186.4" fill="none" stroke="#9a9a9a" stroke-width="0.85"/>
<path d="M254.5 474.7v-1.8M254.5 288.3v1.8M254.5 474.7h1.8M431.5 474.7h-1.8M288.5 474.7v-1.8M288.5 288.3v1.8M254.5 438.9h1.8M431.5 438.9h-1.8M322.6 474.7v-1.8M322.6 288.3v1.8M254.5 403h1.8M431.5 403h-1.8M356.6 474.7v-1.8M356.6 288.3v1.8M254.5 367.2h1.8M431.5 367.2h-1.8M390.7 474.7v-1.8M390.7 288.3v1.8M254.5 331.3h1.8M431.5 331.3h-1.8M424.7 474.7v-1.8M424.7 288.3v1.8M254.5 295.5h1.8M431.5 295.5h-1.8" stroke="#777" stroke-width="0.8" fill="none"/>
<rect x="254.2" y="291.4" width="174.5" height="183.4" fill="#2020f5"/>
<path d="M255.4 291.4V474.8M259.5 291.4V474.8M263.6 291.4V474.8M267.7 291.4V474.8M271.8 291.4V474.8M275.9 291.4V474.8M280 291.4V474.8M284.1 291.4V474.8M288.2 291.4V474.8M292.3 291.4V474.8M296.4 291.4V474.8M300.5 291.4V474.8M304.6 291.4V474.8M308.7 291.4V474.8M312.8 291.4V474.8M316.9 291.4V474.8M321 291.4V474.8M325.1 291.4V474.8M329.2 291.4V474.8M333.3 291.4V474.8M337.4 291.4V474.8M341.5 291.4V474.8M345.6 291.4V474.8M349.7 291.4V474.8M353.8 291.4V474.8M357.9 291.4V474.8M362 291.4V474.8M366.1 291.4V474.8M370.2 291.4V474.8M374.3 291.4V474.8M378.4 291.4V474.8M382.5 291.4V474.8M386.6 291.4V474.8M390.7 291.4V474.8M394.8 291.4V474.8M398.9 291.4V474.8M403 291.4V474.8M407.1 291.4V474.8M411.2 291.4V474.8M415.3 291.4V474.8M419.4 291.4V474.8M423.5 291.4V474.8M427.6 291.4V474.8" stroke="#4a4af8" stroke-width="0.7" opacity="0.55" fill="none"/>
<path d="M381.4 456.1h.9M372.7 384.8h.9M255.5 416.3h.9M371.4 414.4h.9M402.4 391h.9M312.8 469.4h.9M314 324.2h.9M299.4 433.2h.9M256.7 376.3h.9M332.5 330h.9M287.1 338.7h.9M427.9 468h.9M405 452.4h.9M367.8 457.8h.9M335.6 450.4h.9M378.1 363.1h.9M255 459.3h.9M300.1 321.1h.9" stroke="#8c8cf6" stroke-width="0.9" fill="none"/>
<g font-family="'Liberation Sans', Arial, sans-serif" font-size="7.3" fill="#4a4a4a">
<text x="254.2" y="484.6" text-anchor="middle" textLength="3.1" lengthAdjust="spacingAndGlyphs">0</text>
<text x="252.6" y="477.3" text-anchor="end" textLength="3.1" lengthAdjust="spacingAndGlyphs">0</text>
<text x="288.2" y="484.6" text-anchor="middle" textLength="6.1" lengthAdjust="spacingAndGlyphs">50</text>
<text x="252.6" y="441.5" text-anchor="end" textLength="6.1" lengthAdjust="spacingAndGlyphs">50</text>
<text x="322.3" y="484.6" text-anchor="middle" textLength="9.2" lengthAdjust="spacingAndGlyphs">100</text>
<text x="252.6" y="405.6" text-anchor="end" textLength="9.2" lengthAdjust="spacingAndGlyphs">100</text>
<text x="356.3" y="484.6" text-anchor="middle" textLength="9.2" lengthAdjust="spacingAndGlyphs">150</text>
<text x="252.6" y="369.8" text-anchor="end" textLength="9.2" lengthAdjust="spacingAndGlyphs">150</text>
<text x="390.4" y="484.6" text-anchor="middle" textLength="9.2" lengthAdjust="spacingAndGlyphs">200</text>
<text x="252.6" y="333.9" text-anchor="end" textLength="9.2" lengthAdjust="spacingAndGlyphs">200</text>
<text x="424.4" y="484.6" text-anchor="middle" textLength="9.2" lengthAdjust="spacingAndGlyphs">250</text>
<text x="252.6" y="298.1" text-anchor="end" textLength="9.2" lengthAdjust="spacingAndGlyphs">250</text>
</g>
<text x="275.4" y="284.9" font-family="'Liberation Sans', Arial, sans-serif" font-size="7.7" fill="#111" textLength="135.5" lengthAdjust="spacingAndGlyphs">Row Correlation of the Encrypted Image R Channel</text>
<path d="M523.2 288.3V474.7M489.3 438.9H665.7M557.1 288.3V474.7M489.3 403H665.7M591.1 288.3V474.7M489.3 367.2H665.7M625 288.3V474.7M489.3 331.3H665.7M658.9 288.3V474.7M489.3 295.5H665.7" stroke="#efefef" stroke-width="0.8" fill="none"/>
<rect x="489.3" y="288.3" width="176.4" height="186.4" fill="none" stroke="#9a9a9a" stroke-width="0.85"/>
<path d="M489.3 474.7v-1.8M489.3 288.3v1.8M489.3 474.7h1.8M665.7 474.7h-1.8M523.2 474.7v-1.8M523.2 288.3v1.8M489.3 438.9h1.8M665.7 438.9h-1.8M557.1 474.7v-1.8M557.1 288.3v1.8M489.3 403h1.8M665.7 403h-1.8M591.1 474.7v-1.8M591.1 288.3v1.8M489.3 367.2h1.8M665.7 367.2h-1.8M625 474.7v-1.8M625 288.3v1.8M489.3 331.3h1.8M665.7 331.3h-1.8M658.9 474.7v-1.8M658.9 288.3v1.8M489.3 295.5h1.8M665.7 295.5h-1.8" stroke="#777" stroke-width="0.8" fill="none"/>
<rect x="489" y="291.4" width="173.9" height="183.4" fill="#2020f5"/>
<path d="M490.2 291.4V474.8M494.3 291.4V474.8M498.4 291.4V474.8M502.5 291.4V474.8M506.6 291.4V474.8M510.7 291.4V474.8M514.8 291.4V474.8M518.9 291.4V474.8M523 291.4V474.8M527.1 291.4V474.8M531.2 291.4V474.8M535.3 291.4V474.8M539.4 291.4V474.8M543.5 291.4V474.8M547.6 291.4V474.8M551.7 291.4V474.8M555.8 291.4V474.8M559.9 291.4V474.8M564 291.4V474.8M568.1 291.4V474.8M572.2 291.4V474.8M576.3 291.4V474.8M580.4 291.4V474.8M584.5 291.4V474.8M588.6 291.4V474.8M592.7 291.4V474.8M596.8 291.4V474.8M600.9 291.4V474.8M605 291.4V474.8M609.1 291.4V474.8M613.2 291.4V474.8M617.3 291.4V474.8M621.4 291.4V474.8M625.5 291.4V474.8M629.6 291.4V474.8M633.7 291.4V474.8M637.8 291.4V474.8M641.9 291.4V474.8M646 291.4V474.8M650.1 291.4V474.8M654.2 291.4V474.8M658.3 291.4V474.8" stroke="#4a4af8" stroke-width="0.7" opacity="0.55" fill="none"/>
<path d="M530.2 450.4h.9M576.2 366.7h.9M583.4 413.8h.9M662.7 297.7h.9M631 309.7h.9M602.4 379.2h.9M543.5 437.9h.9M619.9 390.9h.9M586.6 459.6h.9M608 394.6h.9M620.5 422.5h.9M618 444.2h.9M644.2 430.4h.9M589.1 321.6h.9M501.7 315.3h.9M494.4 388.8h.9M636.9 439.2h.9M627 429.4h.9" stroke="#8c8cf6" stroke-width="0.9" fill="none"/>
<g font-family="'Liberation Sans', Arial, sans-serif" font-size="7.3" fill="#4a4a4a">
<text x="489" y="484.6" text-anchor="middle" textLength="3.1" lengthAdjust="spacingAndGlyphs">0</text>
<text x="487.4" y="477.3" text-anchor="end" textLength="3.1" lengthAdjust="spacingAndGlyphs">0</text>
<text x="522.9" y="484.6" text-anchor="middle" textLength="6.1" lengthAdjust="spacingAndGlyphs">50</text>
<text x="487.4" y="441.5" text-anchor="end" textLength="6.1" lengthAdjust="spacingAndGlyphs">50</text>
<text x="556.8" y="484.6" text-anchor="middle" textLength="9.2" lengthAdjust="spacingAndGlyphs">100</text>
<text x="487.4" y="405.6" text-anchor="end" textLength="9.2" lengthAdjust="spacingAndGlyphs">100</text>
<text x="590.8" y="484.6" text-anchor="middle" textLength="9.2" lengthAdjust="spacingAndGlyphs">150</text>
<text x="487.4" y="369.8" text-anchor="end" textLength="9.2" lengthAdjust="spacingAndGlyphs">150</text>
<text x="624.7" y="484.6" text-anchor="middle" textLength="9.2" lengthAdjust="spacingAndGlyphs">200</text>
<text x="487.4" y="333.9" text-anchor="end" textLength="9.2" lengthAdjust="spacingAndGlyphs">200</text>
<text x="658.6" y="484.6" text-anchor="middle" textLength="9.2" lengthAdjust="spacingAndGlyphs">250</text>
<text x="487.4" y="298.1" text-anchor="end" textLength="9.2" lengthAdjust="spacingAndGlyphs">250</text>
</g>
<text x="509.9" y="284.9" font-family="'Liberation Sans', Arial, sans-serif" font-size="7.7" fill="#111" textLength="135.8" lengthAdjust="spacingAndGlyphs">Row Correlation of the Encrypted Image B Channel</text>
<g font-family="'Liberation Serif', 'Times New Roman', serif" fill="#111" text-anchor="middle">
<text x="111.3" y="238.7" font-size="22.7">(1)</text>
<text x="111.3" y="252.4" font-size="11.4">(1) Experimental image 1 of Row Correlation of</text>
<text x="111.9" y="266" font-size="11.4">the Original Image R Channel.</text>
<text x="339.5" y="238.7" font-size="22.7">(2)</text>
<text x="339.5" y="252.4" font-size="11.4">(2) Experimental image 1 of Row Correlation of</text>
<text x="340.1" y="266" font-size="11.4">the Original Image B Channel.</text>
<text x="573.8" y="238.7" font-size="22.7">(3)</text>
<text x="573.8" y="252.4" font-size="11.4">(3) Experimental image 1 of Row Correlation of</text>
<text x="574.4" y="266" font-size="11.4">the Original Image G Channel.</text>
<text x="111.3" y="516.6" font-size="22.7">(4)</text>
<text x="111.3" y="530.3" font-size="11.4">(4) Experimental image 1 of Row Correlation of</text>
<text x="111.9" y="543.9" font-size="11.4">the Encrypted Image G Channel.</text>
<text x="339.5" y="516.6" font-size="22.7">(5)</text>
<text x="339.5" y="530.3" font-size="11.4">(5) Experimental image 1 of Row Correlation of</text>
<text x="340.1" y="543.9" font-size="11.4">the Encrypted Image R Channel.</text>
<text x="573.8" y="516.6" font-size="22.7">(6)</text>
<text x="573.8" y="530.3" font-size="11.4">(6) Experimental image 1 of Row Correlation of</text>
<text x="574.4" y="543.9" font-size="11.4">the Encrypted Image B Channel.</text>
</g>
</svg>
</body></html>
